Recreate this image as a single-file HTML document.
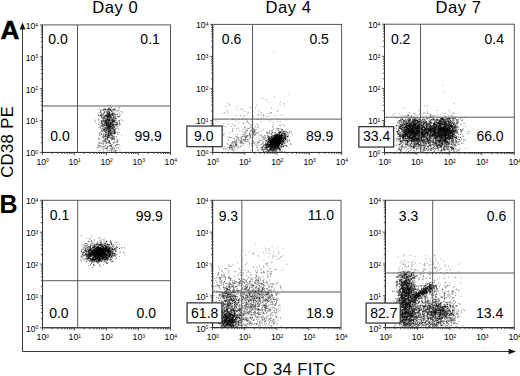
<!DOCTYPE html>
<html><head><meta charset="utf-8"><style>html,body{margin:0;padding:0;background:#fff;overflow:hidden}svg{display:block}</style></head>
<body><svg width="520" height="376" viewBox="0 0 520 376" font-family='"Liberation Sans", sans-serif'>
<rect width="520" height="376" fill="#fff"/>
<path d="M273.5 51.8h1M442.6 85.3h1M443.6 92.6h1" stroke="#000" stroke-opacity="0.3" stroke-width="1" fill="none"/><path d="M245.2 130.5h1M272.7 122.3h1M225.5 106.0h1M288.5 148.2h1M284.0 125.7h1M274.0 96.9h1M252.8 110.8h1M248.9 135.9h1M249.5 107.5h1M251.6 142.5h1M236.8 106.4h1M279.7 121.2h1M281.2 114.9h1M256.4 105.1h1M280.5 141.8h1M243.8 115.4h1M278.4 135.3h1M290.1 143.5h1M267.7 113.3h1M287.7 94.2h1M272.6 126.7h1M270.9 112.7h1M254.9 144.9h1M229.2 105.2h1M234.0 138.7h1M279.9 102.0h1M236.1 109.6h1M270.9 108.1h1M233.7 142.5h1M276.1 129.9h1M285.6 132.9h1M265.5 99.9h1M223.8 112.6h1M270.9 145.0h1M256.4 133.3h1M283.3 139.2h1M234.4 126.3h1M240.3 109.3h1M285.2 145.2h1M278.0 110.0h1M283.3 103.5h1M258.4 131.3h1M268.1 102.3h1M286.9 136.3h1M266.7 131.5h1M223.5 113.4h1M235.6 120.6h1M223.1 125.8h1M228.7 104.2h1M227.5 103.1h1M252.9 116.9h1M262.5 98.4h1M279.7 104.2h1M247.2 121.0h1M231.9 130.2h1M282.5 124.6h1M283.9 105.4h1M286.1 134.4h1M222.1 139.7h1M266.4 134.3h1M263.4 260.0h1M278.1 253.7h1M280.0 257.6h1M286.4 264.3h1M271.5 247.2h1M248.9 251.7h1M253.3 254.1h1M275.6 258.8h1M268.0 248.8h1M278.4 252.1h1M282.3 255.8h1M267.1 262.5h1M277.5 246.8h1M270.8 262.3h1M278.6 258.1h1M265.2 248.3h1M268.2 257.0h1M280.5 256.5h1M278.2 259.2h1M269.1 253.5h1M252.5 253.4h1M253.0 253.2h1M281.0 260.6h1M245.1 255.4h1M273.0 251.8h1M271.8 258.1h1M257.5 255.3h1M255.2 243.5h1M266.4 252.9h1M282.7 248.5h1M263.0 252.3h1M272.4 255.4h1M264.8 250.7h1M258.6 256.3h1M268.6 250.4h1M425.5 261.9h1M437.5 262.9h1M430.6 264.4h1M436.0 267.6h1M440.4 269.0h1M434.2 255.9h1M409.8 268.4h1M435.1 268.4h1M435.1 261.0h1M436.3 271.2h1M443.2 261.3h1M406.3 262.4h1M424.1 266.2h1M403.7 260.2h1M401.0 261.2h1M423.9 263.2h1M403.7 261.7h1M408.8 271.1h1M426.5 263.3h1M432.4 261.3h1M403.9 254.7h1M425.1 258.6h1M425.0 255.6h1M402.0 268.5h1M411.1 266.7h1M402.7 264.1h1M408.0 266.6h1M411.1 269.4h1M404.5 267.1h1M409.7 255.5h1M412.4 269.6h1M425.7 269.2h1M415.1 263.0h1M424.4 264.0h1M434.6 258.7h1M405.1 273.2h1M412.1 262.9h1M402.3 263.9h1M398.7 267.3h1M429.3 272.4h1M444.5 264.8h1M434.1 267.3h1M433.2 263.8h1M397.4 257.0h1M429.9 268.3h1M404.6 266.9h1M430.2 274.1h1M404.7 265.9h1M415.6 270.7h1M423.8 269.3h1M407.9 265.8h1M414.6 256.9h1M398.9 269.6h1M440.2 259.2h1M405.0 264.1h1M429.8 260.9h1M422.7 270.2h1M423.3 268.9h1M403.0 255.8h1M429.4 274.8h1M428.4 258.7h1M424.2 265.0h1M413.0 261.1h1M444.7 266.2h1M410.9 262.7h1M414.0 271.0h1M403.3 271.6h1M411.1 265.9h1M408.4 262.2h1M411.9 264.5h1M414.8 269.6h1M405.3 269.5h1M428.9 265.8h1M428.4 264.3h1M399.9 262.8h1M419.4 263.5h1M434.3 255.2h1M397.4 274.3h1M403.4 264.4h1M424.3 269.3h1" stroke="#000" stroke-opacity="0.35" stroke-width="1" fill="none"/><path d="M251.5 107.8h1M270.7 119.9h1M217.6 121.7h1M237.8 139.8h1M236.6 136.6h1M235.1 141.2h1M235.9 140.2h1M260.4 114.1h1M233.2 119.2h1M227.7 124.4h1M235.8 115.8h1M251.7 139.7h1M230.5 126.5h1M250.3 130.4h1M239.7 142.9h1M262.9 141.3h1M276.3 128.3h1M248.4 147.4h1M238.2 137.9h1M250.9 124.7h1M246.7 114.3h1M242.0 109.2h1M284.3 151.2h1M268.6 136.7h1M265.1 148.4h1M265.4 144.1h1M236.4 138.2h1M242.1 118.9h1M233.0 138.2h1M265.9 116.7h1M276.3 150.7h1M244.4 127.5h1M249.0 144.8h1M244.3 119.8h1M255.2 108.2h1M252.1 146.9h1M254.6 142.4h1M257.4 141.7h1M252.2 123.1h1M246.6 132.1h1M256.3 124.0h1M239.1 130.7h1M270.8 137.0h1M249.2 123.8h1M263.2 136.5h1M249.2 134.2h1M275.3 131.1h1M275.3 147.9h1M250.8 143.6h1M248.1 123.1h1M246.0 122.1h1M257.7 133.2h1M258.5 142.9h1M223.0 135.0h1M236.8 134.3h1M270.5 112.5h1M252.9 132.1h1M221.6 140.8h1M250.5 126.9h1M244.1 111.4h1M236.0 128.6h1M244.2 132.1h1M234.3 139.5h1M242.7 116.7h1M237.8 128.4h1M262.7 138.8h1M244.9 133.2h1M240.7 138.6h1M260.9 121.6h1M252.8 135.0h1M243.0 139.8h1M265.4 146.6h1M247.1 135.3h1M285.3 119.8h1M253.3 143.7h1M252.3 140.9h1M252.6 142.0h1M269.2 130.3h1M253.0 132.3h1M243.9 132.8h1M233.0 141.9h1M269.1 121.4h1M272.8 124.4h1M233.9 143.1h1M254.2 131.2h1M236.9 138.1h1M243.0 145.5h1M268.4 116.4h1M242.4 129.2h1M232.3 119.6h1M251.3 130.5h1M225.2 126.5h1M257.8 118.5h1M269.8 113.5h1M229.7 137.5h1M232.1 130.0h1M243.2 139.7h1M231.6 145.2h1M247.7 112.5h1M257.4 141.5h1M246.3 129.0h1M256.6 147.5h1M252.3 139.4h1M249.3 128.4h1M236.3 136.1h1M245.5 130.1h1M263.9 138.9h1M263.1 114.1h1M258.4 125.9h1M237.9 122.8h1M268.2 142.9h1M239.2 119.3h1M250.2 127.5h1M274.9 115.5h1M222.6 129.9h1M250.2 134.6h1M244.9 126.5h1M223.6 135.9h1M262.8 129.9h1M267.7 133.4h1M272.7 137.0h1M234.1 125.4h1M227.0 112.2h1M254.0 143.4h1M279.3 132.3h1M246.4 119.7h1M264.8 137.7h1M241.1 141.3h1M258.4 110.6h1M261.1 134.6h1M244.1 128.0h1M276.2 151.4h1M277.4 119.2h1M240.2 143.9h1M231.9 124.4h1M265.9 138.5h1M253.3 128.0h1M244.0 140.4h1M239.3 147.7h1M242.6 122.5h1M269.5 131.3h1M258.3 128.0h1M216.2 139.6h1M229.8 146.0h1M226.7 110.6h1M254.6 138.1h1M251.6 118.4h1M263.3 115.4h1M243.0 123.5h1M244.3 143.2h1M240.5 139.8h1M260.4 112.5h1M232.5 128.4h1M241.1 136.7h1M221.0 141.6h1M261.2 131.0h1M229.3 133.1h1M241.9 139.8h1M248.7 141.7h1M243.5 150.3h1M215.4 120.8h1M257.4 114.9h1M261.0 118.4h1M251.4 122.0h1M243.4 135.1h1M248.4 128.4h1M282.3 133.1h1M235.5 144.1h1M262.3 147.7h1M276.8 121.7h1M265.9 146.7h1M250.0 135.9h1M276.8 111.6h1M242.0 136.5h1M223.6 133.5h1M262.9 117.2h1M269.7 139.5h1M255.8 129.3h1M246.8 121.4h1M253.6 129.2h1M245.4 132.0h1M261.6 135.9h1M232.0 131.4h1M257.1 127.4h1M267.2 142.3h1M235.1 136.8h1M279.8 151.7h1M249.2 143.8h1M239.9 115.6h1M258.3 136.0h1M257.7 132.7h1M254.9 126.8h1M257.1 143.0h1M249.1 142.8h1M223.4 123.6h1M253.8 131.8h1M231.0 137.4h1M261.7 115.2h1M258.4 138.9h1M256.6 119.5h1M258.1 115.0h1M431.5 117.7h1M414.2 114.2h1M430.2 114.8h1M453.5 113.0h1M411.2 117.6h1M430.9 117.3h1M428.7 117.5h1M409.5 117.8h1M434.1 115.8h1M413.9 117.4h1M450.8 116.3h1M447.9 115.9h1M429.7 114.5h1M413.7 117.4h1M408.0 115.6h1M412.8 117.2h1M429.5 116.2h1M432.8 116.8h1M407.6 117.6h1M441.9 117.6h1M427.2 113.4h1M454.6 116.8h1M422.2 115.1h1M425.9 115.9h1M444.3 117.5h1M423.0 113.6h1M443.8 115.4h1M430.2 116.4h1M406.6 117.7h1M450.6 115.1h1M450.4 112.2h1M407.1 115.4h1M418.5 110.6h1M431.8 117.1h1M405.9 117.3h1M422.6 117.6h1M403.7 108.0h1M429.8 117.6h1M427.0 105.3h1M452.0 115.2h1M445.1 116.6h1M415.1 114.2h1M438.1 117.5h1M453.6 103.3h1M407.2 114.8h1M429.8 117.3h1M408.1 115.3h1M414.2 118.0h1M427.7 113.6h1M400.5 117.3h1M426.9 117.7h1M416.6 114.9h1M403.5 116.9h1M429.8 115.3h1M411.2 116.7h1M411.2 115.7h1M452.7 117.0h1M424.4 112.7h1M430.6 115.7h1M405.7 117.2h1M453.3 113.1h1M432.9 115.8h1M416.5 117.3h1M437.1 115.2h1M436.1 110.4h1M427.2 111.0h1M423.9 105.8h1M405.3 115.7h1M442.6 113.2h1M402.2 115.7h1M444.7 113.6h1M463.8 117.8h1M420.9 122.8h1M392.5 138.4h1M457.6 139.7h1M452.4 134.0h1M398.5 147.6h1M426.9 119.1h1M412.6 117.9h1M413.4 144.0h1M425.8 131.1h1M461.9 119.9h1M414.5 134.5h1M436.4 137.5h1M447.3 134.9h1M439.1 147.7h1M394.0 128.5h1M417.3 143.4h1M452.8 149.3h1M406.9 134.8h1M422.3 137.3h1M447.6 136.9h1M404.6 128.2h1M428.3 122.2h1M465.5 140.0h1M398.2 120.4h1M414.8 126.1h1M399.8 128.7h1M392.9 147.1h1M453.6 134.3h1M433.2 129.1h1M439.7 134.9h1M412.8 113.5h1M447.8 121.9h1M404.9 141.1h1M404.5 120.6h1M396.0 125.5h1M465.2 148.6h1M420.9 125.6h1M411.7 133.7h1M423.3 150.2h1M408.9 118.3h1M459.9 131.3h1M410.9 142.0h1M391.8 138.3h1M453.0 137.3h1M445.2 140.6h1M410.5 115.8h1M419.0 114.1h1M401.4 121.1h1M458.4 151.1h1M456.7 124.6h1M401.6 137.7h1M408.0 115.6h1M423.7 144.3h1M438.9 144.8h1M451.9 140.2h1M456.7 150.1h1M462.9 136.7h1M431.6 149.0h1M458.2 119.2h1M448.1 110.3h1M426.8 143.9h1M453.3 139.4h1M437.3 124.2h1M410.1 139.3h1M392.8 136.2h1M445.2 126.8h1M394.5 113.4h1M447.3 149.2h1M451.6 131.1h1M409.0 112.5h1M456.0 145.7h1M436.2 146.1h1M460.6 124.0h1M463.3 143.6h1M392.5 114.6h1M410.0 140.4h1M455.2 145.6h1M433.1 140.8h1M402.6 122.7h1M429.6 130.2h1M418.3 135.5h1M420.3 129.8h1M401.1 151.8h1M436.7 146.1h1M450.6 135.3h1M419.1 137.8h1M417.3 118.4h1M462.0 129.6h1M439.9 114.7h1M465.1 126.3h1M453.0 123.9h1M412.2 132.0h1M443.2 124.6h1M399.3 113.6h1M402.9 119.2h1M436.7 124.2h1M93.4 243.8h1M86.8 258.6h1M106.1 246.1h1M95.1 261.3h1M92.8 253.2h1M103.0 250.7h1M97.2 249.9h1M99.8 242.7h1M99.2 252.9h1M87.7 254.5h1M91.0 236.4h1M82.6 252.4h1M103.4 249.3h1M86.6 250.8h1M106.3 251.5h1M86.5 254.5h1M97.0 250.8h1M99.2 255.1h1M97.8 246.1h1M97.7 252.6h1M108.5 244.6h1M97.5 246.6h1M100.9 248.6h1M93.1 245.3h1M86.1 245.5h1M87.9 250.9h1M99.8 251.3h1M101.6 246.9h1M103.7 251.1h1M102.3 255.4h1M95.6 259.0h1M105.3 249.3h1M113.3 261.5h1M85.9 238.6h1M93.5 254.5h1M106.4 255.7h1M98.6 257.5h1M104.6 249.2h1M100.2 258.0h1M93.4 248.1h1M91.8 260.4h1M104.3 256.8h1M95.6 251.7h1M108.8 250.2h1M108.6 251.7h1M98.6 255.1h1M105.9 262.1h1M95.9 261.7h1M92.5 246.8h1M80.3 256.8h1M111.1 244.8h1M96.1 250.4h1M85.9 252.3h1M101.3 248.9h1M90.4 252.7h1M103.8 243.6h1M98.0 255.2h1M113.1 244.4h1M109.7 250.2h1M103.9 251.0h1M89.4 241.9h1M118.6 244.1h1M96.6 260.2h1M101.4 252.9h1M82.1 248.3h1M87.8 241.4h1M101.9 256.8h1M92.5 248.1h1M102.4 257.1h1M90.1 258.8h1M106.7 251.9h1M89.6 255.2h1M104.6 262.2h1M93.9 261.2h1M95.9 255.0h1M97.9 252.4h1M111.1 247.9h1M105.8 250.3h1M98.6 247.7h1M100.5 240.2h1M96.7 257.9h1M105.9 242.4h1M89.5 249.5h1M114.5 249.4h1M98.8 250.5h1M101.4 246.6h1M101.1 254.7h1M107.6 246.7h1M106.4 263.3h1M105.5 256.0h1M115.0 259.2h1M103.2 256.9h1M124.1 247.8h1M95.6 258.5h1M101.1 239.2h1M100.8 254.0h1M91.1 254.2h1M101.0 241.3h1M103.3 264.7h1M113.6 245.3h1M87.9 252.3h1M101.3 244.0h1M92.7 260.0h1M101.0 258.1h1M98.7 258.1h1M94.5 248.9h1M91.0 240.6h1M95.6 243.9h1M95.0 252.8h1M100.4 254.3h1M95.6 251.6h1M108.7 251.0h1M99.1 237.4h1M89.6 258.5h1M91.6 245.5h1M107.1 244.6h1M107.3 251.3h1M93.6 239.7h1M110.1 241.1h1M88.5 256.6h1M88.4 254.9h1M98.5 250.3h1M89.9 247.9h1M101.2 246.0h1M104.2 253.3h1M103.4 253.3h1M103.6 254.1h1M105.8 254.1h1M101.6 246.4h1M84.2 252.2h1M106.9 246.3h1M85.4 248.6h1M101.9 257.0h1M96.1 244.8h1M98.3 255.9h1M98.4 257.9h1M94.6 257.1h1M112.7 245.9h1M91.5 255.7h1M125.2 254.9h1M98.6 259.7h1M97.9 242.2h1M90.7 259.9h1M84.6 243.4h1M105.8 252.8h1M109.0 245.5h1M92.6 249.8h1M88.4 250.5h1M97.4 257.0h1M98.1 249.5h1M103.0 258.5h1M107.6 253.5h1M95.6 249.0h1M87.8 252.3h1M98.6 261.7h1M100.7 256.3h1M109.9 240.7h1M93.4 250.5h1M99.8 245.1h1M106.1 257.3h1M103.1 255.9h1M89.5 258.7h1M93.6 240.6h1M99.9 254.4h1M93.0 242.0h1M89.1 251.0h1M107.3 250.8h1M107.8 250.9h1M89.2 255.7h1M103.6 246.3h1M86.9 246.0h1M108.7 250.0h1M122.6 247.9h1M103.9 253.8h1M96.9 256.9h1M91.5 251.5h1M88.9 238.8h1M99.4 245.0h1M87.8 255.3h1M97.4 254.2h1M113.5 252.9h1M102.7 244.7h1M105.9 257.0h1M89.9 255.8h1M101.5 250.6h1M99.6 266.4h1M93.3 249.9h1M99.7 250.8h1M83.3 255.8h1M106.7 262.3h1M94.1 244.3h1M104.4 245.7h1M98.8 249.5h1M100.5 249.2h1M104.8 246.4h1M119.1 256.6h1M444.7 283.0h1M421.7 293.5h1M408.6 316.2h1M425.0 299.0h1M436.6 303.9h1M445.5 282.5h1M430.6 288.4h1M444.0 274.7h1M444.0 321.3h1M427.9 325.0h1M418.5 277.6h1M414.2 325.8h1M420.2 274.6h1M414.0 272.4h1M439.3 293.8h1M399.0 289.4h1M409.2 313.5h1M458.9 264.0h1M444.7 306.4h1M401.1 286.9h1M413.0 310.5h1M443.9 298.8h1M422.7 279.2h1M440.1 315.4h1M437.0 279.6h1M446.7 285.2h1M402.0 320.2h1M425.7 278.4h1M429.2 292.6h1M422.8 271.7h1M446.4 319.6h1M439.4 295.9h1M408.9 291.6h1M423.3 264.8h1M452.5 291.9h1M447.8 285.3h1M399.0 308.5h1M403.6 286.2h1M435.3 290.0h1M458.2 272.0h1M422.0 279.8h1M411.1 284.8h1M426.7 277.8h1M432.9 309.6h1M445.8 270.3h1M409.9 298.2h1M397.7 276.2h1M452.8 307.8h1M453.0 319.0h1M444.3 298.3h1M410.2 294.0h1M419.3 319.9h1M432.2 263.8h1M398.3 271.8h1M405.1 271.8h1M422.8 296.0h1M451.5 317.2h1M437.9 291.3h1M433.9 299.7h1M454.6 320.0h1M413.6 313.1h1M437.7 309.2h1M444.6 287.4h1M444.8 324.2h1M412.6 277.8h1M420.1 273.1h1M455.7 309.7h1M421.4 323.2h1M424.7 291.7h1M457.7 321.9h1M427.8 314.8h1M453.6 323.4h1M434.5 313.4h1M442.3 309.8h1M419.8 274.3h1M426.4 283.1h1M428.8 274.7h1M460.3 296.9h1M445.7 297.5h1M432.9 320.0h1M422.4 271.8h1M408.1 300.5h1M437.4 325.7h1M449.0 285.8h1M408.6 308.4h1M450.1 307.9h1M435.3 299.4h1M427.7 309.1h1M409.2 306.0h1M413.1 292.9h1M451.4 273.1h1M405.4 284.6h1M442.8 315.1h1M439.2 269.9h1M412.2 289.5h1M424.0 292.2h1M420.5 298.0h1M434.2 298.5h1M446.8 291.4h1M437.6 297.9h1M430.2 301.9h1M418.3 321.5h1M442.9 321.3h1M446.4 272.7h1M433.1 273.3h1M421.9 318.6h1M409.0 304.4h1M402.6 271.7h1M439.7 284.2h1M425.9 293.1h1M460.9 277.8h1M415.8 293.8h1M397.2 285.0h1M436.8 318.7h1M444.5 278.7h1M416.4 276.2h1M448.1 277.2h1M406.2 309.2h1M448.1 309.7h1M407.6 325.3h1M402.9 295.3h1M431.7 272.6h1M453.7 315.6h1M439.2 278.2h1M429.7 314.6h1M457.3 317.5h1M418.4 271.0h1M410.1 271.0h1M430.2 325.3h1M453.6 319.3h1M455.1 316.3h1M424.6 295.0h1M429.0 301.4h1M440.3 318.6h1M418.5 278.7h1M422.1 311.9h1M459.1 316.8h1M403.5 284.2h1M449.9 269.4h1M422.2 314.4h1M422.7 277.1h1M435.9 325.3h1M423.6 286.1h1M449.0 297.9h1M440.5 272.6h1M403.8 317.0h1M456.5 326.3h1M415.6 270.1h1M455.2 302.6h1M428.5 310.0h1M442.1 306.6h1M422.7 276.4h1M408.8 279.5h1M435.7 286.8h1M443.1 323.4h1M409.5 272.0h1M462.3 325.9h1M401.8 275.3h1M438.2 266.9h1M449.0 282.7h1M455.1 277.0h1M414.2 303.3h1M398.1 321.3h1M406.1 282.0h1M405.0 314.7h1M436.9 269.8h1M434.1 268.7h1M405.5 298.9h1M435.3 267.3h1M442.1 289.7h1M407.9 278.2h1M437.9 283.2h1M429.5 277.7h1M434.0 323.9h1M454.2 277.9h1M460.2 283.0h1M416.0 294.3h1M408.4 298.1h1M419.8 291.7h1M402.5 278.7h1M421.7 279.0h1M404.4 271.8h1M448.0 266.6h1M417.2 322.2h1M407.2 266.9h1M435.9 327.0h1M431.3 314.8h1M440.5 312.6h1M425.6 289.6h1M429.2 271.2h1M444.1 312.3h1M436.2 285.5h1M416.3 316.7h1M455.7 289.3h1M403.1 283.0h1M443.5 278.1h1" stroke="#000" stroke-opacity="0.4" stroke-width="1" fill="none"/><path d="M448.9 321.6h1M449.4 302.3h1M418.0 303.2h1M441.9 297.2h1M407.8 322.5h1M417.0 304.2h1M417.7 308.4h1M425.1 310.8h1M403.8 283.3h1M419.2 323.3h1M440.6 319.5h1M449.7 315.4h1M423.6 297.5h1M454.9 322.9h1M452.4 326.9h1M419.3 310.7h1M456.8 316.9h1M410.0 297.9h1M442.6 313.3h1M435.0 297.0h1M426.9 301.4h1M446.8 322.2h1M418.2 297.0h1M453.5 287.0h1M435.5 314.1h1M450.7 321.5h1M460.8 311.1h1M432.7 310.8h1M447.0 294.7h1M439.6 308.7h1M433.9 324.0h1M442.7 309.0h1M436.2 312.1h1M429.9 292.9h1M420.0 292.4h1M447.3 321.8h1M451.3 294.3h1M437.7 323.9h1M419.6 324.7h1M436.7 290.0h1M425.8 320.9h1M458.1 290.9h1M450.6 322.9h1M423.0 322.7h1M422.0 283.4h1M439.6 312.0h1M414.6 308.1h1M443.4 293.8h1M414.5 306.2h1M435.9 304.1h1M429.7 320.4h1M423.1 303.2h1M417.4 325.2h1M433.5 308.1h1M430.3 303.8h1M444.1 295.2h1M441.8 312.3h1M433.3 312.3h1M445.3 289.0h1M421.1 301.2h1M447.4 308.5h1M437.6 300.3h1M417.4 285.4h1M415.5 323.9h1M411.5 316.0h1M411.3 320.5h1M401.4 310.7h1M415.5 310.3h1M434.0 292.4h1M431.7 295.6h1M420.1 305.6h1M448.6 324.0h1M424.8 298.5h1M444.6 314.5h1M446.0 286.4h1M431.4 316.9h1M446.8 285.9h1M417.9 311.3h1M443.6 285.6h1M418.5 301.3h1M422.4 319.3h1M454.7 320.4h1M412.3 302.6h1M407.6 296.7h1M422.1 317.8h1M417.0 293.4h1M430.2 299.0h1M419.7 314.6h1M429.4 290.6h1M453.3 320.0h1M417.8 288.7h1M404.7 290.4h1M440.5 297.0h1M420.1 307.0h1M455.2 292.7h1M411.6 290.6h1M436.8 306.1h1M422.6 325.4h1M457.1 324.6h1M413.0 321.3h1M416.1 316.4h1M415.0 294.2h1M438.2 298.5h1M446.8 322.7h1M436.5 318.8h1M419.1 301.8h1M411.5 300.8h1M423.1 315.1h1M450.0 317.3h1M446.2 302.7h1M410.5 315.1h1M451.9 293.0h1M437.7 302.3h1M421.9 295.1h1M437.1 291.3h1M414.7 325.4h1M408.5 299.9h1M443.1 314.2h1M453.3 315.7h1M442.8 293.8h1M409.3 309.7h1M446.9 317.8h1M423.4 307.8h1M451.4 320.1h1M426.0 321.5h1M434.7 300.0h1M454.1 300.2h1M428.5 326.5h1M418.0 312.7h1M416.2 326.7h1M424.8 293.7h1M409.6 301.8h1M442.1 297.5h1M446.5 318.0h1M415.1 299.0h1M427.1 287.3h1M413.3 323.5h1M447.4 323.2h1M414.8 309.5h1M453.6 287.2h1M425.8 295.5h1M416.2 307.5h1M436.7 309.5h1M416.6 295.4h1M448.1 317.5h1M433.3 287.4h1M411.6 299.8h1M439.2 316.1h1M409.6 301.5h1M444.5 291.5h1M416.4 306.6h1M414.2 316.7h1M408.4 310.0h1M452.1 312.4h1M432.7 293.4h1M417.7 319.4h1M417.2 312.6h1M458.0 310.6h1M430.4 318.4h1M448.4 293.4h1M448.9 304.1h1M412.5 316.6h1M428.5 322.2h1M422.1 302.5h1M424.4 289.8h1M438.3 305.7h1M413.3 311.8h1M444.4 295.2h1M447.9 321.5h1M418.2 309.6h1M422.2 306.1h1M419.2 322.0h1M422.0 299.9h1M444.0 293.0h1M425.6 296.4h1M434.7 323.8h1M428.0 314.5h1M408.6 312.7h1M437.6 306.7h1M431.3 294.8h1M416.7 306.9h1M440.3 305.7h1M436.0 291.2h1M433.8 305.3h1M430.3 312.2h1M436.2 305.2h1M454.4 318.9h1M448.3 291.8h1M440.1 311.4h1M451.3 292.0h1M427.2 309.1h1M418.9 293.2h1M445.0 316.6h1M409.9 321.0h1M443.9 300.0h1M447.7 296.3h1M410.4 314.0h1M436.0 286.3h1M433.3 313.2h1M429.1 287.7h1M404.2 308.3h1M429.1 317.4h1M430.3 308.4h1M409.3 304.4h1M402.3 316.4h1M415.4 313.5h1M433.2 286.2h1M434.7 296.7h1M435.1 316.7h1M403.0 304.7h1M421.8 314.3h1M410.1 314.1h1M442.6 307.9h1M411.5 311.8h1M453.2 297.2h1M445.5 316.8h1M409.0 313.8h1M442.3 314.8h1M453.1 314.0h1M414.0 298.2h1M462.6 309.2h1M441.2 303.3h1M455.9 306.3h1M428.8 322.9h1M427.5 298.5h1M447.7 324.3h1M419.2 315.7h1M408.0 319.3h1M401.1 296.0h1M413.2 319.9h1M426.7 301.0h1M444.9 287.2h1M418.8 301.6h1M418.7 294.4h1M419.7 315.7h1M426.3 313.1h1M426.9 314.2h1M429.1 326.6h1M441.8 289.2h1M423.9 307.8h1M459.9 304.2h1M437.0 288.8h1M436.4 293.5h1M449.0 326.3h1M453.7 291.8h1M435.2 299.0h1M448.3 290.9h1M413.9 287.7h1M452.7 298.1h1M452.6 291.2h1M419.3 285.2h1M427.7 317.9h1M444.7 306.6h1M414.5 317.3h1M451.7 291.1h1M427.9 300.8h1M441.1 296.7h1M411.5 297.1h1M416.9 318.9h1M405.5 319.6h1M433.4 309.8h1M427.2 319.1h1M435.1 312.0h1M409.1 293.8h1M419.8 292.4h1M432.5 316.1h1M413.7 323.0h1M411.0 309.7h1M450.0 311.6h1M453.9 310.8h1M451.6 303.2h1M420.8 324.7h1M441.2 308.0h1M439.5 310.7h1M434.8 320.1h1M422.6 307.1h1M432.8 308.7h1M410.9 313.4h1M446.7 306.9h1M403.8 313.8h1M434.5 295.8h1M449.2 294.4h1M418.4 310.1h1M417.5 293.6h1M427.5 314.3h1M449.0 316.2h1M409.6 313.8h1M418.3 291.2h1M416.6 294.6h1M404.9 310.2h1M412.2 306.2h1M441.8 291.5h1M425.0 315.5h1M427.2 296.2h1M448.8 315.4h1M428.9 300.8h1M452.2 290.9h1M425.8 324.9h1M414.2 301.2h1M447.4 304.4h1M406.2 313.9h1M446.1 308.9h1M437.6 326.6h1M415.1 299.2h1M424.4 299.6h1M413.6 311.2h1M442.5 302.3h1M425.3 299.0h1M428.8 303.7h1M434.3 312.6h1M444.7 311.4h1M453.2 315.7h1M418.9 309.8h1M435.9 294.2h1M456.7 305.9h1M411.2 291.4h1M435.8 312.4h1M411.5 298.3h1M453.1 310.2h1M454.6 301.5h1M446.5 309.3h1M442.2 321.6h1M444.3 312.9h1M437.1 322.8h1M435.5 300.0h1M443.6 301.8h1M432.7 311.8h1M414.9 300.4h1M414.2 295.1h1M452.9 316.9h1M416.0 289.0h1M408.6 300.0h1M440.9 298.2h1M441.1 325.5h1M409.0 307.3h1M430.7 304.2h1M447.1 313.6h1M413.2 289.8h1M455.4 326.5h1M411.4 293.0h1M426.1 324.5h1M417.7 312.0h1M431.2 290.7h1M407.0 317.7h1M434.5 313.9h1M441.2 304.1h1M443.9 314.4h1M423.9 318.4h1M454.0 322.8h1M444.0 297.0h1M414.8 309.8h1M424.3 297.8h1M455.9 314.4h1M406.1 307.1h1M421.5 310.0h1M421.6 318.8h1M422.4 288.1h1M407.4 297.1h1M411.3 323.6h1M418.3 313.0h1M436.4 294.5h1M415.3 297.3h1M432.9 295.1h1M421.0 286.9h1M406.3 290.4h1M421.6 301.4h1M438.6 304.0h1M434.3 323.0h1M442.7 309.4h1M410.7 309.1h1M452.1 313.8h1M438.6 313.2h1M415.5 316.2h1M420.7 319.5h1M443.4 325.4h1M452.2 294.3h1M439.0 286.8h1M451.1 325.6h1M415.9 289.5h1M427.9 291.8h1M405.1 323.0h1M428.7 308.5h1M410.0 296.6h1M403.8 293.2h1M405.1 307.6h1M425.6 301.9h1M420.1 307.1h1M455.9 289.3h1M408.3 306.9h1M414.1 302.5h1M440.7 309.7h1M444.8 326.5h1M409.3 314.0h1M408.7 315.2h1M449.3 318.0h1M409.4 296.8h1M438.0 310.3h1M419.0 323.2h1M426.2 315.3h1M433.9 286.7h1M449.0 309.0h1M457.9 289.4h1M443.8 316.0h1M435.0 325.6h1M447.1 325.9h1M411.7 317.8h1M428.4 318.7h1M450.3 325.6h1M423.2 306.4h1M413.0 313.4h1M432.5 315.9h1M421.6 301.8h1M453.8 303.5h1M415.5 326.6h1M441.6 325.4h1M441.7 289.2h1M405.7 299.1h1M451.7 321.2h1M425.1 303.3h1M433.3 320.0h1M423.8 305.4h1M403.2 301.4h1M450.2 296.9h1M419.4 290.4h1M428.5 318.6h1M423.6 303.2h1M435.0 294.8h1M452.2 309.0h1M415.0 322.4h1M427.7 301.1h1M451.1 299.9h1M439.6 320.3h1M451.8 298.1h1M429.0 321.5h1M421.9 301.9h1M426.6 300.0h1M426.3 294.3h1M409.1 300.8h1M441.5 308.3h1M424.9 302.8h1M428.5 312.1h1M416.6 290.1h1" stroke="#000" stroke-opacity="0.42" stroke-width="1" fill="none"/><path d="M114.2 150.6h1M99.6 150.6h1M111.3 149.0h1M106.7 140.0h1M102.1 140.6h1M106.9 120.3h1M109.5 126.5h1M112.3 109.6h1M110.6 146.3h1M111.5 119.6h1M108.7 112.0h1M112.7 125.2h1M105.5 121.0h1M112.1 138.1h1M109.3 110.1h1M109.1 117.2h1M97.7 147.5h1M107.0 146.5h1M99.0 135.0h1M105.3 132.2h1M99.2 116.0h1M113.0 146.2h1M116.6 139.4h1M103.4 131.1h1M98.0 115.2h1M112.9 119.0h1M102.3 124.2h1M115.9 124.1h1M100.3 112.4h1M105.3 127.7h1M109.6 128.8h1M100.5 121.2h1M104.7 125.2h1M104.8 121.9h1M116.0 124.4h1M121.2 135.1h1M105.0 132.9h1M114.7 114.8h1M99.2 142.5h1M113.6 130.9h1M108.4 126.7h1M104.2 140.4h1M118.6 140.0h1M115.1 145.8h1M98.5 143.7h1M103.3 133.9h1M116.7 140.5h1M119.2 112.9h1M113.3 139.2h1M118.6 121.3h1M118.9 120.6h1M113.7 113.2h1M111.7 125.5h1M103.8 109.1h1M105.3 136.5h1M111.9 139.6h1M117.6 142.0h1M103.1 113.5h1M105.2 139.2h1M99.5 145.6h1M112.9 112.9h1M107.7 116.4h1M115.8 120.2h1M104.5 128.3h1M115.3 114.3h1M113.5 130.2h1M110.4 122.6h1M101.3 138.2h1M108.1 129.7h1M113.6 136.1h1M101.6 118.7h1M98.5 138.1h1M107.1 139.2h1M103.2 142.0h1M112.5 110.8h1M115.2 150.4h1M117.3 133.2h1M114.8 121.0h1M112.0 126.9h1M101.9 130.4h1M113.6 131.7h1M114.2 118.7h1M115.7 121.5h1M111.4 122.8h1M118.4 144.5h1M102.7 125.5h1M111.5 109.0h1M106.5 127.9h1M102.9 115.0h1M109.5 120.4h1M105.5 130.4h1M109.3 124.7h1M114.9 110.4h1M113.7 148.4h1M115.4 151.2h1M118.8 116.1h1M100.1 126.8h1M108.9 128.5h1M99.3 112.2h1M105.0 137.3h1M117.0 141.1h1M98.4 141.9h1M114.2 136.4h1M118.1 108.0h1M108.0 116.0h1M114.2 131.6h1M104.7 138.8h1M106.2 124.4h1M109.0 126.1h1M103.4 146.6h1M102.5 121.3h1M122.3 121.2h1M106.6 150.8h1M102.0 118.0h1M119.2 107.8h1M101.6 128.3h1M117.5 134.5h1M117.2 113.8h1M108.3 146.2h1M107.1 115.9h1M104.7 139.2h1M98.3 115.3h1M97.8 145.7h1M105.6 116.0h1M105.7 142.7h1M119.5 146.1h1M110.1 119.9h1M122.0 112.1h1M116.4 132.4h1M100.0 127.9h1M109.2 129.9h1M102.8 141.4h1M97.9 127.8h1M117.6 128.1h1M104.9 126.8h1M101.5 128.0h1M98.4 124.3h1M109.9 117.9h1M105.6 123.3h1M98.2 119.1h1M111.7 120.5h1M105.5 141.0h1M114.5 114.6h1M108.7 120.0h1M108.5 132.0h1M105.6 124.9h1M111.5 115.3h1M119.6 124.2h1M118.2 129.6h1M98.6 138.6h1M110.8 150.7h1M103.9 146.3h1M98.9 127.0h1M101.5 126.5h1M104.5 124.2h1M120.8 119.9h1M114.0 148.7h1M116.3 111.7h1M114.2 117.4h1M105.7 136.3h1M106.3 131.6h1M108.3 120.5h1M103.1 151.0h1M107.7 121.8h1M114.8 132.1h1M100.3 115.7h1M102.6 147.3h1M107.6 113.1h1M113.5 127.3h1M110.4 149.3h1M112.3 150.0h1M101.2 148.8h1M99.7 143.4h1M103.4 118.2h1M115.1 128.8h1M120.7 111.5h1M115.0 151.0h1M99.0 109.2h1M106.5 119.5h1M117.4 116.6h1M107.9 129.4h1M104.0 112.1h1M103.0 149.7h1M112.0 137.9h1M115.8 123.1h1M103.1 144.2h1M101.4 142.8h1M94.9 122.0h1M98.8 145.5h1M119.4 149.8h1M110.9 132.8h1M117.7 120.9h1M99.7 146.5h1M105.5 148.6h1M115.4 125.4h1M111.2 111.3h1M97.3 147.5h1M104.7 135.6h1M109.6 116.1h1M113.5 136.8h1M105.9 123.0h1M101.7 146.8h1M118.8 122.7h1M106.7 119.5h1M110.6 110.5h1M109.8 122.2h1M102.7 118.2h1M99.5 125.1h1M103.1 109.8h1M104.4 120.8h1M103.2 143.3h1M106.8 111.0h1M115.6 146.0h1M97.3 144.9h1M98.3 113.2h1M118.4 132.2h1M107.7 131.2h1M108.9 141.7h1M103.6 120.4h1M108.8 126.5h1M100.7 120.8h1M118.9 120.9h1M116.9 116.9h1M106.7 146.2h1M99.3 146.5h1M116.3 124.0h1M103.5 137.0h1M109.7 128.2h1M118.9 123.3h1M116.3 125.2h1M116.1 150.4h1M108.7 121.4h1M114.9 133.6h1M107.1 148.0h1M103.6 120.7h1M109.6 143.6h1M104.3 113.2h1M114.4 139.3h1M115.5 144.6h1M101.2 146.8h1M98.2 150.3h1M105.2 139.5h1M107.0 150.2h1M241.9 142.9h1M253.2 129.0h1M234.3 148.0h1M241.6 137.7h1M231.3 149.3h1M239.8 137.3h1M259.8 135.5h1M233.9 147.1h1M237.8 146.8h1M236.2 144.6h1M223.1 148.8h1M229.7 149.5h1M231.9 148.9h1M227.1 143.4h1M254.3 132.4h1M229.2 145.6h1M245.3 137.9h1M233.1 145.9h1M241.7 131.6h1M229.9 147.3h1M231.1 147.9h1M247.3 141.1h1M231.3 145.6h1M227.4 144.7h1M254.2 133.8h1M230.6 144.9h1M251.1 129.2h1M232.8 144.0h1M238.8 140.1h1M232.0 142.3h1M240.2 146.4h1M255.6 132.5h1M254.2 135.1h1M245.3 137.3h1M228.9 137.6h1M229.5 145.0h1M228.9 147.8h1M247.2 141.9h1M244.8 140.7h1M251.9 137.5h1M244.5 139.9h1M235.9 142.0h1M230.5 145.8h1M241.4 143.9h1M249.7 131.9h1M240.6 140.8h1M251.6 138.0h1M249.8 136.1h1M252.3 133.7h1M245.8 137.5h1M244.7 141.4h1M230.8 147.7h1M249.2 138.3h1M227.9 140.0h1M243.2 136.2h1M232.0 149.3h1M254.1 131.8h1M246.1 136.1h1M255.5 134.2h1M223.3 149.1h1M248.9 133.4h1M246.8 139.5h1M241.7 141.6h1M233.7 146.2h1M235.4 145.2h1M230.8 144.9h1M237.9 139.3h1M240.0 141.9h1M245.4 136.4h1M245.1 137.0h1M235.1 144.3h1M232.3 147.1h1M245.1 138.8h1M247.5 128.3h1M234.4 146.1h1M235.0 143.9h1M229.9 145.7h1M246.6 130.2h1M253.5 130.6h1M252.1 133.9h1M228.5 137.2h1M249.4 137.1h1M233.8 141.4h1M240.2 142.3h1M237.1 147.9h1M250.9 125.6h1M240.8 140.7h1M247.8 139.5h1M240.9 143.0h1M235.8 141.3h1M254.6 129.9h1M234.4 150.0h1M251.5 134.7h1M255.2 130.5h1M252.3 133.3h1M244.6 135.9h1M243.4 139.8h1M249.6 131.2h1M236.0 144.5h1M246.8 135.8h1M252.1 136.6h1M245.1 134.2h1M240.9 141.3h1M247.3 139.8h1M229.0 148.4h1M225.6 148.8h1M228.3 150.4h1M247.6 135.4h1M235.5 145.1h1M246.5 130.6h1M224.9 148.8h1M229.2 146.8h1M246.7 136.3h1M238.0 137.7h1M231.5 143.3h1M252.8 134.1h1M230.7 146.6h1M252.7 131.4h1M237.7 146.2h1M252.5 137.3h1M236.0 146.5h1M254.2 135.2h1M231.1 147.6h1M253.1 130.9h1M240.7 146.7h1M237.3 142.7h1M246.1 141.8h1M242.9 143.6h1M248.9 133.9h1M243.8 134.3h1M233.1 150.0h1M227.3 147.7h1M245.2 139.7h1M240.9 138.8h1M242.3 134.3h1M241.8 142.2h1M253.7 129.6h1M231.4 143.3h1M252.3 133.0h1M249.1 135.0h1M250.4 137.4h1M252.2 134.0h1M232.2 145.8h1M224.2 146.9h1M236.4 145.0h1M244.0 136.5h1M231.9 141.3h1M257.1 125.0h1M228.6 147.5h1M238.7 141.6h1M236.4 140.3h1M235.3 145.3h1M232.6 150.9h1M234.5 142.2h1M245.3 139.1h1M231.7 147.5h1M246.2 137.7h1M235.2 142.4h1M235.8 143.3h1M254.2 283.2h1M242.2 315.5h1M254.7 292.0h1M257.3 293.3h1M249.7 290.4h1M267.5 271.3h1M259.4 298.2h1M239.6 283.5h1M261.3 286.4h1M267.0 294.3h1M236.3 298.2h1M251.9 297.0h1M249.9 272.3h1M246.7 289.4h1M243.7 311.3h1M265.8 304.9h1M240.5 317.5h1M247.7 308.0h1M250.7 292.5h1M256.3 286.6h1M262.6 288.2h1M250.3 300.2h1M250.2 303.9h1M245.3 304.4h1M255.1 304.2h1M252.0 291.5h1M258.7 283.5h1M262.6 284.6h1M255.6 275.5h1M266.9 294.7h1M241.4 300.9h1M248.3 297.9h1M250.1 299.3h1M270.0 271.9h1M259.4 314.6h1M236.0 299.3h1M251.4 296.2h1M258.0 313.6h1M248.7 323.8h1M267.0 294.2h1M237.9 299.6h1M242.2 283.8h1M255.7 286.1h1M263.0 306.1h1M246.2 305.3h1M242.6 307.9h1M271.7 304.2h1M245.0 308.5h1M246.2 272.2h1M256.3 272.4h1M252.0 299.4h1M254.0 295.5h1M254.4 312.7h1M265.2 300.2h1M244.3 313.0h1M248.6 313.1h1M250.4 293.2h1M248.9 292.7h1M260.5 292.8h1M280.1 288.2h1M268.4 287.5h1M261.6 288.5h1M254.1 297.1h1M255.5 278.1h1M248.0 292.8h1M250.0 318.3h1M236.8 293.0h1M250.0 293.8h1M251.3 306.6h1M257.5 297.6h1M265.0 306.6h1M246.4 309.0h1M250.8 279.7h1M267.3 300.5h1M234.0 296.6h1M269.1 292.7h1M243.6 289.1h1M260.9 290.7h1M243.0 297.5h1M268.9 280.1h1M247.0 286.8h1M247.4 295.3h1M245.9 319.5h1M250.8 308.1h1M245.8 280.4h1M272.3 284.0h1M261.3 308.4h1M255.9 295.0h1M251.6 277.8h1M252.5 288.2h1M270.8 289.8h1M260.4 272.7h1M255.3 296.4h1M250.2 322.8h1M264.0 288.4h1M253.9 300.0h1M260.6 283.0h1M264.8 283.4h1M255.3 291.8h1M228.8 290.4h1M273.8 301.5h1M242.7 303.4h1M243.1 289.7h1M259.7 290.3h1M259.0 285.6h1M244.8 300.5h1M250.6 284.9h1M244.9 298.2h1M256.5 284.1h1M270.0 274.2h1M236.5 289.9h1M272.5 298.8h1M265.9 281.3h1M253.7 298.5h1M263.6 289.8h1M276.2 293.8h1M273.5 290.5h1M251.6 314.8h1M272.5 304.6h1M234.9 297.6h1M255.3 280.0h1M255.2 282.5h1M259.0 301.5h1M253.9 308.8h1M246.1 302.0h1M251.6 322.8h1M257.1 293.6h1M249.0 286.9h1M252.4 298.7h1M245.6 284.8h1M256.3 288.1h1M246.7 296.9h1M242.9 296.6h1M243.7 293.2h1M237.0 304.1h1M251.2 314.7h1M255.8 276.7h1M244.7 287.0h1M258.0 309.0h1M267.7 284.9h1M258.0 309.4h1M266.4 264.0h1M248.3 290.5h1M265.5 305.8h1M242.9 313.8h1M264.2 307.6h1M250.8 313.2h1M245.4 297.1h1M256.9 282.7h1M250.7 311.0h1M264.2 313.7h1M264.5 299.3h1M245.8 281.4h1M261.2 291.0h1M261.7 319.1h1M240.8 315.1h1M248.4 318.1h1M247.3 304.2h1M252.0 295.1h1M250.7 323.6h1M253.1 300.1h1M248.1 289.4h1M266.5 284.0h1M257.9 281.1h1M249.7 307.3h1M258.7 294.5h1M256.5 272.6h1M244.0 313.8h1M252.2 294.0h1M257.9 280.9h1M258.1 309.4h1M250.1 274.7h1M271.0 292.3h1M260.5 284.0h1M261.9 288.6h1M256.5 280.3h1M251.4 304.9h1M258.7 298.9h1M255.7 291.5h1M268.7 285.7h1M242.4 300.3h1M231.5 308.2h1M250.5 297.0h1M265.3 302.0h1M259.0 290.0h1M253.6 306.7h1M242.3 299.6h1M258.9 306.3h1M241.5 303.4h1M268.6 297.0h1M243.6 279.2h1M245.4 311.4h1M259.3 309.9h1M243.6 301.9h1M260.8 284.2h1M232.4 299.2h1M232.1 302.9h1M272.5 307.4h1M251.3 284.7h1M245.8 297.4h1M267.4 292.2h1M255.6 287.0h1M257.0 313.1h1M249.0 288.5h1M267.4 276.1h1M248.6 295.2h1M240.9 291.9h1M258.1 289.9h1M268.9 290.2h1M259.3 295.2h1M268.4 292.3h1M254.9 306.2h1M252.6 320.4h1M241.9 288.0h1M238.5 302.3h1M267.4 299.2h1M247.2 312.6h1M256.6 295.6h1M245.1 279.9h1M272.2 283.9h1M254.9 300.1h1M248.5 305.4h1M238.4 308.7h1M243.5 305.9h1M247.4 296.4h1M239.9 314.2h1M249.6 283.7h1M260.7 312.6h1M255.4 292.9h1M245.1 286.8h1M248.9 311.9h1M252.0 317.6h1M262.0 289.7h1M240.8 312.4h1M245.4 313.2h1M244.1 282.8h1M245.6 295.3h1M256.4 276.8h1M268.8 269.0h1M246.2 298.3h1M244.8 290.0h1M249.0 287.8h1M252.9 302.8h1M262.8 289.4h1M264.6 307.4h1M239.5 308.8h1M237.4 317.3h1M261.8 299.1h1M255.6 284.1h1M249.3 289.2h1M264.2 305.0h1M250.5 300.9h1M259.9 280.0h1M231.8 305.9h1M240.7 314.0h1M268.2 309.0h1M263.0 295.9h1M252.4 296.8h1M243.7 314.3h1M247.1 306.7h1M250.8 304.5h1M280.3 287.1h1M268.2 294.8h1M258.1 293.4h1M259.3 278.0h1M216.6 308.9h1M263.1 297.9h1M233.6 295.4h1M264.5 309.5h1M243.0 281.8h1M256.8 297.0h1M270.3 290.4h1M265.8 263.5h1M259.3 309.7h1M262.8 272.7h1M271.3 283.7h1M256.5 266.8h1M248.4 277.8h1M237.0 304.1h1M259.7 300.7h1M249.4 292.8h1M239.8 294.4h1M249.5 285.3h1M263.1 287.2h1M234.8 301.5h1M248.0 271.9h1M248.9 281.4h1M275.4 256.2h1M239.8 310.6h1M258.2 312.7h1M251.8 298.2h1M260.9 272.8h1M249.5 310.9h1M256.8 297.2h1M259.3 304.2h1M266.8 296.5h1M234.9 292.9h1M267.2 291.0h1M251.0 306.0h1M262.2 297.5h1M255.0 270.8h1M264.8 291.4h1M246.5 302.4h1M246.3 290.2h1M248.8 300.8h1M262.8 298.1h1M269.7 297.2h1M250.0 295.1h1M246.2 304.3h1M241.5 259.7h1M224.9 302.3h1M266.2 291.6h1M270.0 276.2h1M240.8 312.7h1M244.5 325.6h1M241.5 307.7h1M252.7 300.5h1M250.8 306.9h1M265.2 303.6h1M258.1 296.8h1M262.3 287.6h1M257.8 309.9h1M257.0 297.7h1M254.9 281.2h1M249.8 280.8h1M259.1 306.2h1M248.4 277.1h1M253.9 323.7h1M246.4 326.7h1M244.8 298.3h1M232.6 320.7h1M254.8 304.0h1M262.2 290.1h1M269.8 268.3h1M257.3 282.2h1M251.5 317.4h1M263.8 285.7h1M239.1 300.6h1M253.6 292.5h1M242.9 294.6h1M250.2 308.1h1M246.1 292.0h1M240.0 292.8h1M256.8 292.7h1M271.1 286.1h1M264.9 310.3h1M257.2 303.7h1M251.9 286.9h1M262.6 302.0h1M259.4 294.7h1M256.9 309.7h1M228.8 315.0h1M257.4 313.0h1M257.4 298.5h1M261.2 283.5h1M253.4 298.2h1M271.3 287.2h1M252.5 291.3h1M254.8 316.0h1M248.3 311.6h1M254.4 299.2h1M240.5 274.7h1M241.1 297.1h1M262.5 284.3h1M255.4 295.7h1M261.4 292.1h1M239.2 308.2h1M244.6 308.0h1M248.0 289.6h1M258.1 283.2h1M269.9 283.9h1M271.2 271.7h1M259.8 300.7h1M248.0 293.3h1M246.1 284.5h1M254.3 297.3h1M257.4 306.6h1M267.4 293.2h1M262.6 284.6h1M271.8 262.3h1M252.8 296.6h1M252.9 289.2h1M243.8 279.9h1M247.3 296.1h1M261.1 293.3h1M250.3 299.9h1M239.2 304.2h1M269.1 311.2h1M248.3 296.6h1M255.3 317.6h1M240.1 293.5h1M250.8 287.3h1M252.6 304.2h1M257.6 284.6h1M259.5 282.8h1M280.0 286.1h1M258.4 300.6h1M261.4 283.6h1M252.2 289.7h1M251.1 290.6h1M258.1 291.3h1M252.7 307.2h1M244.2 302.3h1M258.4 289.6h1M250.3 311.9h1M264.0 272.4h1M253.8 312.0h1M245.3 288.9h1M274.5 269.7h1M255.7 308.6h1M250.6 318.0h1M238.3 302.1h1M245.9 302.5h1M260.5 270.1h1M255.5 299.4h1M246.0 295.0h1M254.9 312.4h1M266.3 282.8h1M267.2 266.5h1M243.6 292.2h1M258.9 298.0h1M267.5 271.7h1M250.9 275.1h1M253.0 285.2h1M265.8 318.5h1M249.7 282.1h1M253.3 285.5h1M263.7 267.9h1M259.3 309.4h1M258.7 299.7h1M260.5 293.2h1M235.9 286.8h1M263.4 279.3h1M226.5 297.8h1M246.5 287.6h1M236.1 312.1h1M233.6 300.5h1M225.5 293.6h1M265.4 265.2h1M254.9 294.5h1M237.4 291.3h1M250.3 300.7h1M247.0 278.9h1M244.6 291.6h1M256.4 280.1h1M269.6 295.5h1M257.6 310.7h1M260.6 269.0h1M250.9 304.3h1M261.4 305.7h1M262.1 289.5h1M273.2 284.6h1M253.3 302.2h1M240.3 282.6h1M247.1 318.2h1M270.5 299.0h1M254.4 287.9h1M249.8 306.8h1M246.1 287.8h1M254.2 282.8h1M236.5 315.0h1M258.8 322.0h1M237.3 290.6h1M271.9 312.4h1M243.5 299.0h1M254.5 289.1h1M252.8 302.4h1M252.6 294.2h1M245.3 289.6h1M259.5 300.0h1M262.6 276.7h1M272.0 286.8h1M262.4 294.3h1M253.6 312.1h1M272.6 256.6h1M242.9 273.0h1M243.8 294.2h1M266.6 313.5h1M243.2 311.2h1M246.2 304.9h1M270.9 273.6h1M250.0 321.9h1M245.5 303.1h1M260.3 294.8h1M243.6 305.8h1M252.1 285.6h1M254.8 311.1h1M271.7 296.2h1M234.6 302.1h1M243.4 282.7h1M239.9 315.5h1M262.7 280.9h1M244.3 311.7h1M247.5 270.4h1M262.1 302.2h1M246.5 287.9h1M262.7 281.9h1M238.7 310.4h1M248.9 310.9h1M257.6 288.5h1M263.1 285.9h1M259.3 293.7h1M253.3 290.8h1M236.0 307.5h1M239.2 290.7h1M236.6 300.3h1M250.7 296.7h1M255.5 302.3h1M253.0 301.0h1M260.2 291.7h1M253.1 291.2h1M251.5 285.4h1M275.6 284.7h1M272.4 297.7h1M259.4 298.8h1M248.5 301.5h1M269.6 302.7h1M257.5 288.9h1M263.4 320.1h1M263.5 301.7h1M234.2 292.0h1M242.9 279.1h1M266.4 293.4h1M262.9 266.4h1M257.3 304.3h1M247.2 297.6h1M246.5 276.2h1M249.5 307.3h1M262.3 280.5h1M241.9 306.7h1M247.0 295.7h1M261.6 291.1h1M266.7 273.9h1M248.7 293.1h1M250.3 314.5h1M246.5 298.9h1M258.4 285.4h1M247.6 290.9h1M259.3 286.5h1M277.9 308.9h1M261.6 295.6h1M249.6 296.0h1M264.6 300.8h1M234.4 309.5h1M261.5 295.6h1M253.5 291.1h1M267.3 275.5h1M259.4 288.7h1M255.8 301.8h1M235.4 306.5h1M266.8 288.3h1M249.6 281.8h1M248.1 312.4h1M251.6 281.5h1M258.8 297.3h1M254.3 293.6h1M239.0 314.8h1M264.7 296.2h1M251.6 324.4h1M255.9 301.4h1M248.9 294.4h1M246.7 312.2h1M257.1 271.0h1M247.0 297.2h1M238.1 282.9h1M254.8 277.7h1M247.0 310.0h1M240.6 291.2h1M248.0 302.2h1M258.4 287.7h1M258.6 304.8h1M259.0 266.0h1M246.4 294.0h1M264.6 292.1h1M263.2 271.4h1M249.2 294.2h1M249.6 290.9h1M251.8 279.3h1M267.1 277.7h1M245.8 309.4h1M252.5 286.2h1M255.8 275.1h1M257.8 276.7h1M255.8 287.1h1M244.0 289.5h1M257.0 309.2h1M251.7 293.0h1M246.6 286.4h1M254.2 306.9h1M275.9 283.0h1M264.6 306.8h1M267.1 302.2h1M264.6 300.2h1M242.6 293.0h1M249.8 291.4h1M252.9 306.3h1M252.7 309.2h1M232.5 300.6h1M246.1 291.3h1M258.3 278.4h1M268.5 286.5h1M239.0 309.1h1M246.2 262.9h1M264.9 294.1h1M260.7 298.1h1M244.8 300.3h1M251.6 284.2h1M263.4 282.3h1M253.0 267.3h1M248.5 322.1h1M268.4 292.6h1M256.3 279.9h1M246.6 306.9h1M253.4 293.8h1M223.9 282.1h1M245.3 285.4h1M256.1 297.7h1M249.5 316.7h1M245.0 264.5h1M264.7 308.7h1M249.5 287.9h1M246.6 307.5h1M251.1 293.1h1M232.1 305.9h1M261.1 291.4h1M242.5 287.9h1M273.1 300.0h1M257.1 281.1h1M263.2 288.2h1M256.6 301.9h1M264.3 285.4h1M265.3 298.5h1M243.7 288.7h1M255.0 296.8h1M253.7 314.6h1M274.3 305.6h1M282.6 270.0h1M270.4 304.5h1M266.6 298.9h1M254.2 305.7h1M252.7 285.4h1M224.9 287.7h1M254.2 291.9h1M262.1 305.8h1M269.3 273.7h1M257.4 292.7h1M266.0 294.4h1M244.9 286.6h1M276.1 294.2h1M266.3 299.9h1M232.0 292.9h1M271.2 312.9h1M246.2 287.5h1M226.1 326.0h1M275.4 269.5h1M258.0 305.2h1M249.3 282.9h1M241.2 316.2h1M254.7 283.7h1M266.8 292.6h1M245.8 288.6h1M260.1 301.5h1M240.6 311.2h1M277.3 283.0h1M250.4 278.5h1M250.9 296.5h1M252.8 296.0h1M266.9 282.1h1M232.9 288.2h1M263.4 304.2h1M246.4 300.3h1M260.3 278.1h1M245.3 303.0h1M252.0 305.6h1M245.7 299.9h1M268.7 298.8h1M241.0 308.2h1M263.1 282.0h1M241.1 309.6h1M244.0 320.2h1M257.7 302.1h1M267.4 293.7h1M263.9 300.1h1M249.0 299.4h1M257.8 279.9h1M242.6 297.7h1M256.0 298.4h1M266.5 288.7h1M239.0 313.6h1M236.8 306.7h1M248.0 301.0h1M257.8 294.1h1M248.3 308.2h1M254.6 281.0h1M264.2 295.5h1M253.8 292.9h1M262.9 272.1h1M256.4 289.9h1M246.3 282.5h1M244.0 318.1h1M240.0 309.5h1M246.8 299.4h1M246.6 303.8h1M257.9 292.0h1M233.8 300.3h1M245.3 281.3h1M267.6 307.8h1M253.9 298.0h1M258.5 293.2h1M258.1 295.9h1M247.9 300.1h1M257.0 303.5h1M249.2 323.4h1M268.1 306.0h1M236.6 304.6h1M249.6 306.1h1M245.0 304.8h1M243.3 292.8h1M228.4 314.0h1M266.4 270.0h1M258.2 314.5h1M273.6 289.8h1M248.1 314.2h1M249.8 300.4h1M254.3 291.9h1M271.2 294.2h1M250.4 303.8h1M248.6 307.0h1M229.2 300.6h1M245.4 288.3h1M247.9 300.7h1M255.4 290.7h1M245.7 324.8h1M253.4 285.8h1M257.5 279.2h1M247.0 285.0h1M263.7 294.1h1M247.8 291.3h1M228.6 325.0h1M250.5 315.9h1M238.3 307.3h1M277.6 311.2h1M257.4 306.4h1M251.1 296.5h1M245.3 312.8h1M263.8 319.2h1M253.6 305.2h1M241.5 321.6h1M249.6 305.9h1M244.9 289.3h1M277.1 300.5h1M264.3 305.1h1M277.1 292.5h1M248.7 323.1h1M258.0 306.1h1M276.0 301.7h1M270.1 310.7h1M260.6 317.3h1M263.7 290.7h1M238.0 305.7h1M276.1 310.6h1M273.8 323.5h1M267.2 300.8h1M255.6 306.1h1M254.0 295.7h1M251.1 307.2h1M248.2 304.8h1M242.0 313.5h1M242.5 297.7h1M258.8 297.5h1M248.9 291.8h1M250.6 308.6h1M259.8 298.4h1M278.1 298.9h1M251.9 317.9h1M276.5 316.7h1M251.6 287.1h1M256.2 297.0h1M266.8 297.1h1M242.0 296.5h1M275.3 309.2h1M253.3 299.8h1M259.9 325.8h1M258.8 294.7h1M276.1 317.8h1M273.6 298.8h1M258.0 309.3h1M261.4 308.9h1M241.2 299.5h1M256.1 292.3h1M255.6 304.5h1M262.3 305.8h1M258.4 288.5h1M274.5 308.5h1M254.8 290.4h1M269.3 290.6h1M275.5 312.8h1M272.4 321.9h1M269.8 297.1h1M275.2 304.9h1M256.0 323.8h1M260.6 296.1h1M269.6 294.8h1M256.2 319.4h1M268.6 296.5h1M266.2 312.5h1M266.0 295.5h1M251.2 302.6h1M252.8 300.8h1M274.4 288.0h1M254.4 305.6h1M261.0 322.6h1M246.0 318.4h1M264.2 319.7h1M269.6 300.1h1M268.1 291.2h1M272.8 298.1h1M266.5 300.2h1M256.6 320.1h1M249.4 320.8h1M269.1 300.9h1M276.5 299.3h1M266.0 306.7h1M252.8 296.5h1M271.0 325.7h1M259.9 314.4h1M250.6 325.6h1M252.8 304.7h1M257.5 308.4h1M259.1 299.4h1M248.0 320.9h1M262.2 316.6h1M245.5 305.1h1M263.5 318.4h1M258.7 290.4h1M241.3 309.7h1M261.4 287.6h1M252.9 312.7h1M270.6 322.6h1M281.7 289.7h1M262.1 307.4h1M260.4 302.8h1M247.1 290.4h1M246.6 308.9h1M246.3 320.8h1M273.9 312.1h1M275.9 295.5h1M272.3 294.4h1M267.2 300.8h1M267.4 320.4h1M259.9 296.7h1M271.3 326.7h1M267.1 311.0h1M261.7 322.8h1M261.5 314.8h1M267.9 297.5h1M253.1 324.6h1M268.2 301.2h1M264.9 321.3h1M266.0 308.9h1M256.9 321.8h1M246.7 313.1h1M269.5 297.8h1M260.9 291.5h1M263.0 296.9h1M258.0 301.8h1M273.1 319.9h1M268.5 310.7h1M280.5 326.7h1M269.0 321.7h1M266.3 320.0h1M270.1 308.9h1M264.9 310.2h1M274.8 317.0h1M245.4 318.5h1M246.2 320.2h1M258.1 317.9h1M270.8 317.4h1M262.8 313.1h1M274.8 314.4h1M261.9 320.8h1M248.5 293.6h1M259.2 317.0h1M270.0 315.5h1M262.2 291.9h1M241.3 299.0h1M255.8 313.4h1M260.1 303.0h1M262.9 312.2h1M275.6 322.6h1M252.1 309.9h1M249.3 309.6h1M240.3 290.4h1M266.6 318.0h1M254.1 314.5h1M244.2 299.3h1M258.4 319.2h1M252.8 315.2h1M248.5 318.9h1M273.5 307.7h1M243.1 314.9h1M270.4 309.9h1M270.3 299.7h1M254.6 303.2h1M251.1 300.3h1M258.3 291.0h1M243.3 297.8h1M268.2 315.6h1M258.3 326.0h1M276.7 324.3h1M271.4 320.6h1M265.6 300.1h1M272.3 303.6h1M279.7 307.1h1M251.1 319.7h1M246.9 320.2h1M265.5 305.4h1M245.7 317.3h1M268.2 324.7h1M275.1 299.5h1M263.5 292.3h1M256.5 317.4h1M264.4 305.7h1M239.5 309.4h1M264.4 307.7h1M255.0 308.8h1M252.0 305.2h1M246.7 293.0h1M269.5 309.4h1M265.9 299.7h1M249.8 311.9h1M259.6 310.5h1M264.1 323.6h1M260.1 292.0h1M267.9 301.7h1M259.1 298.5h1M264.8 311.2h1M269.1 322.7h1M246.5 311.0h1M255.3 298.4h1M264.5 289.9h1M245.1 317.3h1M264.6 321.0h1M265.6 301.8h1M266.0 323.5h1M275.0 304.3h1M249.3 295.7h1M264.5 307.9h1M270.7 299.6h1M256.0 323.6h1M266.4 306.8h1M269.0 298.5h1M275.1 303.6h1M255.0 307.9h1M256.1 324.5h1M241.8 319.6h1M256.0 298.4h1M254.5 323.9h1M251.4 312.6h1M249.1 294.8h1M248.8 298.2h1M257.7 290.7h1M263.2 292.7h1M256.7 294.5h1M268.0 298.1h1M249.4 297.5h1M258.8 304.9h1M244.9 294.1h1M246.7 303.4h1M265.6 308.1h1M268.9 309.2h1M279.5 310.3h1M245.7 314.6h1M243.0 318.9h1M253.7 298.1h1M263.5 317.6h1M271.4 318.6h1M259.5 312.8h1M261.3 310.8h1M242.4 293.4h1M250.6 296.0h1M276.2 309.5h1M257.5 303.3h1M276.4 303.0h1M250.7 296.9h1M250.4 306.3h1M257.3 313.2h1M255.1 292.6h1M259.4 323.1h1M257.5 299.7h1M262.0 319.4h1M255.9 292.1h1M262.6 300.5h1M262.5 316.9h1M264.3 322.1h1M274.2 312.1h1M259.9 321.0h1M271.9 301.3h1M270.7 292.0h1M263.3 304.9h1M273.9 305.0h1M245.0 306.3h1M249.1 312.0h1M270.3 296.9h1M243.9 305.6h1M250.7 309.5h1M247.2 323.8h1M270.8 314.0h1M255.1 313.9h1M253.3 304.9h1M269.5 318.0h1M266.6 294.7h1M250.4 302.8h1M245.6 296.8h1M266.3 306.2h1M271.4 295.8h1M244.3 314.8h1M243.6 316.9h1M269.8 314.4h1M263.6 310.6h1M248.4 301.0h1M248.6 301.4h1M253.2 307.8h1M251.7 298.2h1M263.9 305.7h1M272.9 325.2h1M261.6 301.9h1M252.3 290.4h1M250.0 323.2h1M280.0 318.4h1M266.4 288.8h1M272.8 322.6h1M268.3 310.9h1M252.7 298.3h1M246.6 313.2h1M271.5 307.9h1M269.4 325.4h1M241.3 324.2h1M255.1 287.9h1M253.4 320.5h1M263.2 294.1h1M247.2 320.6h1M255.7 309.0h1M261.3 297.3h1M272.1 302.1h1M247.5 300.1h1M261.5 319.9h1M262.1 310.2h1M252.7 301.0h1M247.6 313.5h1M258.4 291.1h1M267.8 298.4h1M274.4 298.1h1M276.0 300.3h1M271.4 295.6h1M277.1 293.1h1M244.8 307.5h1M273.4 323.6h1M247.4 319.8h1M272.0 315.5h1M273.2 319.4h1M275.3 293.7h1M261.4 291.2h1M254.1 313.1h1M262.4 312.9h1M268.2 295.0h1M266.8 292.6h1M259.2 303.3h1M248.1 304.0h1M257.1 290.6h1M278.1 305.2h1M253.8 294.4h1M269.8 318.9h1M264.3 317.9h1M274.1 299.5h1M268.4 289.9h1M261.3 317.2h1M257.3 316.4h1M258.8 324.9h1M265.1 294.5h1M247.9 306.9h1M246.9 321.3h1M275.9 303.0h1M242.1 296.3h1M275.4 294.8h1M266.5 300.1h1M238.0 302.5h1M258.7 314.9h1M255.4 291.2h1M264.8 325.0h1M254.8 300.6h1M273.4 299.7h1M255.2 310.2h1M243.3 292.2h1M255.1 306.1h1M249.3 324.9h1M237.9 325.5h1M270.8 294.5h1M244.8 306.8h1M245.0 319.7h1M247.9 284.5h1M265.7 308.4h1M254.2 311.2h1M258.5 310.8h1M263.2 299.0h1M257.2 306.8h1M268.0 293.4h1M250.0 317.4h1M251.0 310.7h1M242.9 313.0h1M264.5 305.5h1M242.0 320.2h1M248.8 314.1h1M252.0 309.0h1M253.7 320.1h1M263.2 300.4h1M261.8 309.7h1M275.9 316.3h1M269.2 296.2h1M239.0 298.9h1M256.6 317.3h1M259.5 323.8h1M276.4 312.4h1M262.8 313.1h1M246.3 295.2h1M239.6 324.0h1M268.7 319.2h1M254.5 307.5h1M261.8 294.6h1M267.0 308.1h1M258.9 321.6h1M257.2 316.6h1M262.2 296.6h1M241.2 322.0h1M266.4 311.3h1M253.5 319.3h1M254.9 291.4h1M261.8 309.8h1M269.3 319.3h1M250.7 299.7h1M276.5 299.0h1M272.2 321.3h1M273.9 310.6h1M274.3 321.7h1M255.2 315.9h1M251.7 307.4h1M270.6 301.8h1M266.4 316.0h1M254.5 301.2h1M258.5 314.0h1M261.5 297.3h1M264.5 321.2h1M279.6 316.9h1M257.3 323.7h1M252.4 309.6h1M266.3 316.3h1M272.0 295.3h1M265.6 293.2h1M244.1 324.8h1M252.3 295.6h1M271.2 302.1h1M256.5 300.8h1M246.6 283.1h1M261.7 293.9h1M266.2 303.7h1M249.9 297.8h1M273.8 320.1h1M250.9 292.1h1M278.6 294.1h1M259.5 294.5h1M244.2 309.9h1M259.8 286.9h1M269.6 304.7h1M245.4 295.3h1M270.0 320.7h1M279.3 305.2h1M241.3 307.4h1M277.8 320.2h1M243.8 299.0h1M220.4 324.6h1M238.0 290.0h1M216.4 282.5h1M227.5 268.9h1M239.9 295.8h1M218.5 303.7h1M218.8 312.0h1M226.7 304.3h1M233.1 312.1h1M224.8 300.8h1M220.8 325.9h1M221.1 308.1h1M221.1 275.4h1M233.5 292.8h1M234.4 310.7h1M221.2 276.9h1M218.7 321.5h1M237.3 310.7h1M239.0 305.2h1M228.8 276.4h1M241.5 305.7h1M232.7 316.9h1M221.5 305.4h1M239.9 280.9h1M238.0 293.6h1M239.0 315.8h1M223.8 307.8h1M214.6 317.4h1M239.0 279.6h1M228.3 265.0h1M222.0 316.0h1M229.5 303.8h1M239.2 283.2h1M233.7 282.7h1M230.5 299.1h1M238.8 320.5h1M228.2 278.3h1M225.6 322.8h1M241.2 284.5h1M226.5 317.3h1M234.9 281.4h1M222.5 306.6h1M233.8 302.5h1M238.5 317.0h1M223.9 326.3h1M239.3 306.1h1M240.5 315.1h1M232.2 286.8h1M225.0 277.3h1M225.1 305.8h1M218.1 273.6h1M225.0 279.6h1M221.4 301.5h1M221.2 270.5h1M224.7 277.7h1M219.0 307.4h1M235.1 296.0h1M227.4 271.9h1M238.1 302.9h1M213.6 311.3h1M238.2 291.5h1M220.9 274.1h1M222.4 277.9h1M236.7 311.6h1M239.1 279.2h1M227.0 324.3h1M232.1 321.6h1M219.8 283.2h1M219.4 278.8h1M223.4 324.7h1M220.3 315.7h1M230.4 325.6h1M232.3 307.9h1M235.5 300.0h1M218.1 285.5h1M228.5 273.6h1M239.9 310.0h1M230.9 309.8h1M219.7 310.8h1M239.0 285.2h1M222.7 309.9h1M241.1 305.0h1M237.7 290.5h1M219.1 269.0h1M221.3 301.5h1M241.4 303.2h1M241.5 266.3h1M230.6 304.1h1M229.4 287.8h1M234.0 306.6h1M234.3 321.4h1M220.8 321.9h1M228.6 270.6h1M244.5 269.5h1M215.3 286.4h1M222.0 309.1h1M234.1 271.1h1M237.8 278.1h1M240.1 280.7h1M218.5 295.6h1M230.7 323.7h1M229.6 306.3h1M230.1 297.3h1M220.2 297.8h1M231.1 306.4h1M240.2 312.6h1M226.2 290.4h1M239.9 305.2h1M228.2 312.4h1M235.6 286.1h1M233.8 289.0h1M237.3 275.0h1M239.3 281.8h1M228.7 305.4h1M220.4 320.1h1M222.3 294.6h1M217.4 297.7h1M215.7 303.8h1M244.1 292.9h1M233.5 313.2h1M223.2 272.9h1M221.6 271.3h1M218.0 322.6h1M239.1 306.2h1M237.6 263.0h1M225.1 300.5h1M238.2 317.4h1M217.3 320.4h1M235.6 322.3h1M223.1 292.8h1M241.2 275.0h1M222.1 322.0h1M235.1 271.9h1M222.6 284.3h1M233.3 283.8h1M235.1 286.2h1M237.4 318.9h1M240.3 285.4h1M218.0 266.3h1M218.1 311.2h1M223.2 293.6h1M232.3 318.1h1M240.3 307.7h1M238.3 322.6h1M238.6 291.9h1M221.0 292.3h1M228.4 323.8h1M240.8 275.3h1M229.2 289.5h1M235.2 324.0h1M219.0 314.0h1M232.8 308.6h1M222.7 318.6h1M224.6 319.6h1M241.3 301.1h1M220.3 294.8h1M240.9 298.1h1M232.3 283.6h1M219.4 314.1h1M229.1 266.5h1M234.2 320.3h1M234.9 282.9h1M223.9 300.6h1M223.7 274.3h1M239.8 313.4h1M216.0 309.2h1M230.7 278.6h1M233.8 294.9h1M221.5 296.1h1M240.7 301.6h1M232.3 265.0h1M222.8 316.0h1M229.9 308.6h1M230.9 300.0h1M219.2 287.4h1M225.1 301.5h1M216.1 297.4h1M218.9 278.7h1M234.9 292.0h1M226.7 324.5h1M218.9 285.1h1M231.5 292.4h1M217.7 286.1h1M218.7 303.7h1M237.2 285.9h1M223.4 321.8h1M217.4 274.6h1M216.3 285.3h1M226.7 321.2h1M229.2 304.9h1M230.7 304.3h1M232.9 291.4h1M225.2 269.2h1" stroke="#000" stroke-opacity="0.45" stroke-width="1" fill="none"/><path d="M278.7 141.2h1M279.3 128.9h1M262.4 147.2h1M269.4 149.5h1M285.6 138.6h1M271.1 147.8h1M274.6 134.0h1M276.8 144.4h1M278.6 149.0h1M278.3 133.0h1M270.3 138.6h1M273.5 136.1h1M280.0 140.0h1M278.7 137.3h1M275.1 150.1h1M277.3 143.8h1M286.6 135.1h1M277.6 129.1h1M277.7 137.4h1M271.0 143.7h1M279.8 148.7h1M270.3 147.2h1M271.2 148.1h1M278.2 136.0h1M267.9 136.3h1M277.0 145.3h1M271.4 150.9h1M250.9 145.4h1M260.2 148.0h1M271.9 142.5h1M273.8 146.6h1M264.5 139.7h1M284.3 137.7h1M265.9 147.3h1M282.2 144.0h1M267.8 151.1h1M277.3 146.7h1M281.2 134.3h1M287.3 136.9h1M268.0 146.2h1M277.4 149.4h1M263.4 145.4h1M270.0 147.3h1M263.0 146.9h1M279.1 136.9h1M278.3 142.2h1M264.5 137.8h1M279.8 138.7h1M272.9 128.9h1M253.0 141.9h1M276.1 139.9h1M275.4 145.8h1M271.0 146.3h1M266.1 132.4h1M273.4 151.1h1M268.6 144.4h1M266.0 143.9h1M279.4 136.0h1M254.7 134.3h1M261.6 137.1h1M271.2 130.7h1M279.7 140.7h1M268.5 150.4h1M256.2 146.0h1M257.9 145.4h1M274.3 132.5h1M260.5 144.7h1M272.4 140.5h1M276.1 135.3h1M260.9 147.4h1M269.3 138.6h1M279.7 149.7h1M267.8 146.2h1M279.8 133.1h1M262.2 142.4h1M276.4 143.3h1M270.9 144.0h1M283.9 140.3h1M261.4 150.2h1M274.8 145.7h1M268.1 141.3h1M262.7 137.4h1M269.6 140.5h1M271.9 136.0h1M265.4 140.9h1M266.0 151.7h1M269.6 147.4h1M263.7 149.2h1M257.7 149.6h1M269.7 148.2h1M272.4 141.3h1M278.3 139.6h1M277.9 143.7h1M270.1 142.0h1M272.6 139.5h1M277.9 146.0h1M276.6 136.9h1M261.9 149.4h1M274.1 148.7h1M268.0 144.1h1M275.4 137.1h1M275.7 151.6h1M284.5 138.2h1M270.4 137.3h1M275.8 140.4h1M271.5 139.6h1M270.8 142.3h1M278.3 147.8h1M268.9 133.7h1M259.4 140.9h1M267.4 149.6h1M272.6 138.3h1M271.1 138.3h1M256.6 144.0h1M280.7 135.4h1M269.2 140.5h1M273.4 146.1h1M274.7 147.5h1M281.3 138.5h1M273.7 141.1h1M270.5 136.2h1M275.1 141.9h1M261.6 144.1h1M267.4 132.9h1M260.8 140.3h1M263.9 147.4h1M277.3 146.4h1M281.1 144.2h1M274.3 137.9h1M278.1 135.1h1M277.9 140.0h1M279.7 143.1h1M261.1 149.6h1M263.1 149.7h1M272.7 136.7h1M267.5 137.7h1M273.4 145.3h1M267.3 133.0h1M270.5 147.1h1M277.3 146.7h1M267.2 147.3h1M276.6 144.0h1M267.7 146.8h1M258.3 142.7h1M275.3 139.9h1M256.8 147.6h1M276.4 149.9h1M281.6 141.2h1M276.1 142.3h1M273.7 139.8h1M289.0 140.6h1M267.6 139.1h1M284.8 130.0h1M286.2 145.5h1M265.3 149.2h1M270.4 147.2h1M279.9 150.1h1M275.7 140.0h1M278.8 136.0h1M263.8 145.1h1M268.4 138.1h1M263.9 144.7h1M265.5 140.5h1M264.0 149.3h1M291.4 134.0h1M272.1 132.4h1M267.5 137.8h1M276.4 138.0h1M271.4 142.4h1M262.3 139.2h1M271.3 133.8h1M261.7 147.8h1M267.0 147.9h1M279.6 138.9h1M272.9 142.1h1M271.9 130.3h1M271.1 136.9h1M262.3 149.4h1M270.4 147.7h1M272.2 126.9h1M282.3 145.1h1M267.6 136.0h1M276.1 134.8h1M270.2 145.6h1M257.4 150.5h1M290.2 144.5h1M265.0 142.1h1M274.4 142.2h1M268.2 144.2h1M276.8 135.2h1M273.3 144.3h1M278.8 138.5h1M283.3 133.1h1M265.5 144.1h1M279.7 139.0h1M266.5 148.8h1M277.5 143.5h1M268.6 151.1h1M283.9 131.5h1M272.0 132.2h1M272.4 143.7h1M266.2 144.7h1M282.8 146.6h1M264.6 136.7h1M282.8 139.2h1M277.1 140.3h1M288.8 131.4h1M269.4 132.0h1M265.0 142.9h1M272.3 144.8h1M262.2 146.5h1M269.3 136.2h1M277.7 142.9h1M273.0 143.9h1M259.1 140.4h1M265.8 144.8h1M270.5 148.9h1M250.3 150.2h1M265.7 143.6h1M269.1 146.2h1M276.1 143.5h1M280.0 135.8h1M272.5 147.1h1M273.9 139.7h1M418.2 127.4h1M441.2 135.3h1M412.5 134.3h1M418.0 128.0h1M417.7 138.4h1M410.0 126.6h1M447.5 132.3h1M454.4 128.9h1M434.2 134.5h1M412.8 141.3h1M437.1 133.9h1M439.9 121.6h1M444.7 130.0h1M403.4 143.8h1M411.0 141.1h1M418.1 144.5h1M424.0 147.3h1M446.6 130.3h1M402.0 127.3h1M416.6 125.0h1M407.8 126.8h1M446.8 138.0h1M439.9 139.8h1M446.2 142.4h1M418.1 136.9h1M429.7 122.6h1M451.1 140.1h1M401.1 146.8h1M445.8 147.3h1M424.7 129.7h1M444.8 138.0h1M440.7 140.9h1M408.5 146.0h1M453.3 120.0h1M453.7 150.9h1M416.4 133.9h1M430.0 145.0h1M428.3 132.8h1M444.8 149.5h1M451.8 137.2h1M415.6 123.3h1M405.6 125.3h1M449.1 135.9h1M424.3 143.4h1M429.6 129.3h1M426.3 149.1h1M449.7 127.6h1M430.8 150.3h1M439.4 141.5h1M445.0 143.5h1M397.8 131.7h1M434.0 138.0h1M432.2 130.6h1M403.3 135.1h1M405.3 146.9h1M399.9 143.5h1M424.8 147.8h1M442.5 131.1h1M411.1 126.0h1M448.0 138.2h1M400.4 151.6h1M418.3 141.5h1M414.4 127.8h1M454.6 148.0h1M409.9 147.2h1M448.8 142.7h1M426.4 145.9h1M416.3 139.4h1M423.4 135.2h1M407.4 132.0h1M433.5 144.6h1M437.4 132.5h1M425.5 124.4h1M446.1 148.6h1M444.5 150.2h1M439.0 121.6h1M445.3 145.3h1M426.0 138.6h1M406.8 129.5h1M431.0 129.3h1M425.9 121.4h1M406.1 134.1h1M438.9 123.2h1M425.0 139.7h1M440.9 149.9h1M412.8 129.9h1M412.5 126.8h1M403.4 136.9h1M448.6 124.4h1M436.9 123.3h1M412.0 125.6h1M402.2 146.8h1M418.4 135.1h1M444.3 146.9h1M450.4 147.3h1M409.0 128.6h1M452.9 125.2h1M409.2 124.8h1M399.4 145.9h1M407.5 133.7h1M399.5 148.7h1M413.5 139.3h1M443.9 122.8h1M424.7 134.7h1M445.1 134.9h1M404.1 124.6h1M440.3 121.9h1M405.3 145.0h1M415.0 138.4h1M453.0 134.7h1M438.6 122.8h1M439.0 129.8h1M437.2 133.9h1M419.7 143.0h1M435.3 131.7h1M422.0 142.2h1M444.7 129.8h1M439.2 135.6h1M451.4 144.5h1M449.3 132.5h1M445.2 133.1h1M405.4 120.3h1M398.6 121.8h1M420.5 141.1h1M451.3 121.3h1M435.4 127.5h1M431.9 134.2h1M448.8 149.4h1M433.6 151.7h1M405.7 147.0h1M425.2 131.8h1M448.7 126.7h1M446.0 132.9h1M400.1 120.6h1M456.4 122.8h1M430.1 142.4h1M414.8 138.9h1M423.5 150.1h1M451.6 129.6h1M451.1 132.8h1M416.7 143.0h1M433.6 127.9h1M404.3 128.3h1M444.2 150.5h1M401.6 131.0h1M439.2 147.1h1M412.8 131.0h1M405.8 147.9h1M408.4 144.3h1M453.3 129.6h1M409.6 120.4h1M426.0 141.0h1M406.0 131.7h1M429.3 128.3h1M446.0 144.1h1M412.4 131.0h1M439.5 129.4h1M417.4 147.8h1M406.0 144.3h1M446.8 146.7h1M419.8 131.2h1M455.1 137.4h1M439.3 130.8h1M418.1 121.8h1M436.3 144.5h1M440.6 142.9h1M409.8 150.5h1M454.0 122.5h1M412.7 120.8h1M401.6 149.7h1M428.1 128.7h1M426.9 130.2h1M408.9 125.8h1M427.7 133.3h1M414.7 125.6h1M445.6 121.5h1M429.4 123.6h1M407.7 132.4h1M455.7 126.6h1M412.9 146.4h1M429.1 142.5h1M445.4 148.8h1M431.5 137.5h1M415.0 145.5h1M440.5 144.6h1M441.0 146.4h1M405.8 123.8h1M413.1 136.4h1M407.6 141.4h1M398.3 129.9h1M435.2 143.7h1M457.2 138.9h1M412.8 147.3h1M450.5 144.5h1M421.9 132.5h1M453.6 124.3h1M401.6 127.8h1M417.5 134.2h1M448.9 151.6h1M450.5 122.8h1M446.0 144.8h1M435.6 126.9h1M412.6 137.9h1M458.5 144.3h1M432.6 132.4h1M445.7 124.9h1M422.5 129.2h1M452.1 141.6h1M434.1 142.9h1M438.1 140.4h1M407.0 122.9h1M424.2 143.9h1M407.2 149.4h1M418.5 134.0h1M430.0 126.0h1M416.4 138.7h1M397.8 144.7h1M424.5 135.5h1M442.8 137.2h1M420.6 146.9h1M440.6 147.5h1M421.7 121.9h1M432.4 143.8h1M419.0 119.9h1M404.1 127.5h1M445.7 141.8h1M429.7 123.6h1M445.2 140.2h1M443.9 144.1h1M442.4 143.3h1M421.0 147.9h1M413.8 136.1h1M410.3 135.4h1M435.5 132.7h1M450.0 124.9h1M455.7 136.5h1M440.3 137.1h1M432.4 131.3h1M416.4 149.4h1M434.3 130.6h1M414.5 124.0h1M447.7 134.6h1M413.7 124.2h1M423.2 139.4h1M410.4 127.9h1M410.7 132.6h1M444.0 141.7h1M407.8 138.7h1M419.9 119.0h1M398.2 139.5h1M449.4 138.9h1M452.5 131.3h1M421.7 129.1h1M450.4 138.7h1M411.5 144.7h1M413.7 143.6h1M427.5 147.6h1M410.5 137.9h1M454.8 127.7h1M456.2 141.8h1M406.7 125.0h1M424.8 121.1h1M421.3 124.5h1M457.1 123.3h1M453.4 132.8h1M405.1 131.5h1M440.1 147.4h1M424.7 145.4h1M423.2 142.0h1M447.2 125.3h1M405.7 124.9h1M421.6 144.2h1M405.1 144.6h1M420.6 120.2h1M445.8 132.8h1M446.9 129.2h1M408.0 136.8h1M412.7 132.2h1M439.1 135.2h1M409.6 139.8h1M400.8 143.4h1M449.6 146.7h1M399.6 135.1h1M449.2 132.0h1M433.0 148.2h1M420.6 120.6h1M418.2 144.7h1M422.4 119.8h1M450.4 125.8h1M432.0 147.7h1M406.8 126.1h1M429.9 120.8h1M417.1 120.6h1M408.7 132.8h1M422.9 129.7h1M400.2 149.3h1M414.3 148.5h1M440.0 128.5h1M431.4 126.9h1M451.8 147.5h1M409.6 132.6h1M427.0 133.2h1M404.5 125.3h1M437.3 132.2h1M403.8 148.1h1M451.4 147.0h1M427.4 125.7h1M431.7 140.1h1M418.7 121.4h1M421.7 135.2h1M452.7 148.5h1M445.3 126.1h1M418.7 138.1h1M444.8 127.7h1M420.5 127.6h1M402.7 142.1h1M410.0 130.9h1M421.0 125.9h1M423.1 130.1h1M408.6 146.0h1M440.6 131.8h1M410.0 137.6h1M435.7 127.2h1M427.9 141.3h1M437.7 120.0h1M449.9 120.5h1M439.9 126.1h1M431.8 144.4h1M435.4 124.8h1M429.6 131.2h1M456.9 150.8h1M445.1 129.8h1M408.7 124.6h1M406.5 128.8h1M423.4 137.3h1M451.0 148.5h1M414.7 137.8h1M441.0 150.4h1M429.2 131.7h1M406.5 141.4h1M400.5 124.4h1M417.5 133.1h1M407.6 145.7h1M449.1 124.0h1M429.6 125.6h1M426.8 131.8h1M437.1 146.7h1M426.9 150.3h1M414.3 142.9h1M444.1 126.8h1M443.3 128.6h1M451.7 142.6h1M426.9 135.3h1M404.3 130.0h1M455.7 151.2h1M402.1 125.2h1M411.3 143.7h1M441.3 127.4h1M449.8 146.9h1M453.1 128.5h1M434.0 151.0h1M416.1 144.8h1M398.3 149.4h1M438.6 140.2h1M434.2 119.6h1M406.3 132.1h1M443.6 148.8h1M452.1 122.9h1M407.9 136.7h1M432.6 135.7h1M420.9 135.4h1M433.8 126.4h1M406.0 129.9h1M451.3 126.1h1M414.7 127.5h1M409.9 144.2h1M410.6 148.2h1M454.1 128.1h1M412.7 121.9h1M455.0 129.6h1M449.3 122.9h1M429.1 131.4h1M429.1 129.6h1M403.1 139.2h1M446.0 141.3h1M440.5 151.1h1M435.1 141.1h1M447.7 146.1h1M427.5 150.8h1M420.6 131.3h1M442.5 124.0h1M429.0 125.9h1M434.4 134.3h1M406.5 141.9h1M411.1 146.6h1M409.2 124.4h1M445.2 135.2h1M453.6 122.4h1M456.3 136.4h1M433.6 145.7h1M445.9 130.8h1M405.6 143.2h1M418.9 139.9h1M451.7 139.0h1M415.8 127.5h1M408.8 135.8h1M424.1 121.9h1M446.1 131.4h1M457.4 121.2h1M398.7 149.2h1M437.6 130.9h1M447.2 127.3h1M447.7 148.9h1M454.8 132.9h1M434.9 135.7h1M446.6 147.1h1M423.7 139.0h1M433.9 132.3h1M429.0 141.8h1M424.7 129.2h1M423.5 123.3h1M442.2 144.3h1M407.0 135.8h1M440.3 134.5h1M407.2 145.5h1M415.0 120.4h1M448.2 118.4h1M423.7 131.3h1M447.9 144.2h1M423.8 136.9h1M455.7 142.2h1M421.1 129.7h1M455.4 127.4h1M420.1 127.4h1M424.6 128.9h1M406.1 121.1h1M441.6 141.6h1M403.4 129.3h1M442.3 149.1h1M427.1 138.6h1M451.2 126.9h1M437.2 127.7h1M452.7 125.0h1M429.1 140.6h1M410.4 130.2h1M450.5 136.3h1M449.6 134.1h1M447.5 130.6h1M431.0 148.6h1M413.5 134.8h1M399.1 130.5h1M443.6 122.1h1M435.3 127.4h1M419.1 124.3h1M430.1 140.4h1M446.1 138.9h1M411.5 140.9h1M401.7 141.7h1M402.2 144.3h1M454.4 137.3h1M407.6 125.4h1M455.7 142.7h1M400.2 118.7h1M437.5 132.7h1M429.1 124.0h1M427.9 143.5h1M432.7 128.0h1M437.4 137.1h1M451.2 143.7h1M448.6 136.3h1M447.5 125.7h1M400.2 119.6h1M450.6 146.6h1M430.1 122.9h1M447.1 126.7h1M452.0 145.1h1M403.5 120.6h1M422.2 125.4h1M426.2 129.3h1M432.3 125.6h1M452.8 123.4h1M432.8 125.1h1M429.2 148.9h1M404.3 122.0h1M440.9 123.9h1M441.9 138.3h1M403.4 121.5h1M404.6 134.8h1M426.4 133.2h1M454.9 137.7h1M447.2 148.6h1M437.5 133.7h1M421.8 150.0h1M451.9 126.9h1M426.4 139.6h1M405.9 128.7h1M433.4 143.9h1M399.9 137.0h1M448.0 147.6h1M427.3 124.9h1M441.6 127.3h1M449.0 138.3h1M440.9 140.0h1M443.7 129.7h1M446.4 147.0h1M419.1 129.7h1M401.0 148.8h1M412.4 146.6h1M436.2 122.2h1M415.9 140.0h1M459.0 148.8h1M418.9 121.7h1M441.7 140.7h1M403.9 135.6h1M428.4 136.3h1M445.1 126.8h1M450.1 138.7h1M405.8 126.1h1M445.6 122.8h1M454.8 131.1h1M444.7 132.9h1M401.9 124.6h1M438.6 132.0h1M454.7 145.1h1M402.4 138.1h1M443.2 140.1h1M403.6 147.5h1M434.0 128.0h1M418.5 131.3h1M430.8 146.0h1M443.4 131.9h1M409.6 137.7h1M416.1 145.7h1M405.1 142.9h1M420.9 148.7h1M401.5 120.0h1M397.7 140.2h1M442.4 134.6h1M438.2 130.2h1M399.8 127.0h1M435.6 130.7h1M436.7 147.3h1M420.8 131.3h1M414.1 126.6h1M409.9 141.0h1M433.9 148.3h1M407.7 131.9h1M430.6 122.7h1M421.7 141.7h1M425.4 141.2h1M444.3 143.1h1M408.3 119.2h1M415.4 123.4h1M416.9 138.2h1M439.7 124.5h1M406.0 123.1h1M452.1 136.4h1M454.3 128.9h1M405.9 125.8h1M428.8 142.4h1M416.6 126.3h1M416.1 150.0h1M409.5 127.7h1M430.2 150.3h1M444.4 132.1h1M412.6 128.6h1M442.3 144.9h1M442.6 136.9h1M435.1 123.2h1M451.0 147.5h1M434.6 140.2h1M444.2 141.0h1M449.6 133.0h1M447.1 149.4h1M430.6 141.0h1M413.6 119.6h1M434.9 149.6h1M439.4 141.5h1M439.9 130.5h1M419.8 118.8h1M442.4 118.8h1M418.3 119.6h1M405.8 126.6h1M453.0 136.8h1M451.8 125.7h1M424.3 145.5h1M431.1 138.5h1M398.8 134.5h1M453.5 134.1h1M419.7 126.1h1M431.7 134.7h1M404.5 127.6h1M406.0 129.2h1M433.4 137.0h1M439.9 139.0h1M456.6 130.9h1M437.8 143.0h1M432.6 130.4h1M434.3 146.5h1M412.8 122.6h1M420.0 136.9h1M435.5 129.3h1M405.2 135.0h1M416.3 123.1h1M407.8 131.7h1M402.3 124.6h1M423.5 139.7h1M422.8 143.2h1M428.9 145.4h1M423.2 147.1h1M402.1 129.3h1M447.7 142.7h1M400.6 150.1h1M399.4 135.9h1M399.2 134.3h1M442.7 143.8h1M418.5 121.9h1M452.7 149.1h1M417.8 132.4h1M425.3 142.4h1M438.9 122.0h1M452.7 134.7h1M450.3 137.3h1M422.7 141.7h1M436.2 137.2h1M400.9 141.1h1M432.9 150.3h1M436.4 131.7h1M412.6 132.0h1M436.7 148.4h1M415.7 132.7h1M441.1 138.1h1M401.1 134.9h1M454.8 144.4h1M434.3 144.6h1M453.1 120.1h1M453.5 131.8h1M439.9 143.2h1M446.5 121.5h1M440.8 145.6h1M430.1 149.3h1M445.3 146.9h1M446.6 142.1h1M447.9 129.7h1M398.8 122.1h1M399.8 150.5h1M425.1 132.5h1M440.0 146.4h1M425.5 143.0h1M422.9 149.5h1M399.4 120.8h1M435.1 142.5h1M454.9 141.8h1M434.2 136.5h1M415.2 125.2h1M435.5 127.9h1M419.7 148.5h1M419.3 131.3h1M401.4 145.2h1M439.9 151.1h1M399.7 127.0h1M449.1 121.4h1M396.3 118.4h1M441.3 135.0h1M419.3 145.5h1M417.0 146.0h1M426.7 139.0h1M412.7 125.6h1M440.1 126.0h1M448.7 125.3h1M406.4 123.2h1M414.7 118.3h1M452.4 138.6h1M438.1 131.7h1M453.9 131.1h1M421.5 129.2h1M445.8 145.9h1M441.9 128.1h1M441.2 124.3h1M426.7 129.2h1M418.4 128.5h1M419.6 133.6h1M407.0 132.1h1M403.4 126.0h1M418.7 139.9h1M448.1 122.8h1M417.7 148.7h1M430.1 145.3h1M446.3 138.1h1M405.6 144.8h1M419.8 127.7h1M418.8 127.9h1M440.8 146.7h1M451.4 135.1h1M401.1 142.3h1M430.8 144.8h1M397.3 137.9h1M414.3 135.8h1M422.4 131.8h1M418.5 121.8h1M420.4 147.2h1M419.2 144.4h1M426.0 121.7h1M414.3 145.2h1M421.2 125.2h1M411.1 143.6h1M422.2 126.7h1M440.4 119.8h1M400.0 150.8h1M457.8 150.0h1M406.1 134.6h1M443.1 148.9h1M413.9 123.5h1M403.2 123.8h1M443.7 146.5h1M430.4 150.5h1M414.6 137.1h1M416.6 130.3h1M447.4 142.2h1M439.0 119.9h1M411.5 129.8h1M413.5 147.5h1M430.1 127.3h1M405.6 121.9h1M412.6 136.3h1M445.3 142.7h1M439.0 130.5h1M399.2 144.5h1M423.5 150.8h1M420.7 125.6h1M440.6 130.5h1M424.6 150.1h1M413.5 136.4h1M448.9 143.1h1M408.6 127.5h1M438.5 145.5h1M413.5 145.6h1M434.8 143.7h1M408.2 148.3h1M451.8 130.0h1M420.3 135.0h1M437.5 148.2h1M443.2 142.3h1M426.4 136.7h1M431.6 119.4h1M405.8 125.9h1M429.9 133.7h1M428.4 144.0h1M452.4 147.9h1M405.9 133.1h1M423.1 147.3h1M443.3 129.9h1M400.0 126.5h1M398.3 148.6h1M456.8 121.9h1M431.9 136.3h1M441.3 146.3h1M427.0 139.6h1M408.8 145.9h1M438.7 137.9h1M413.9 133.2h1M424.1 130.6h1M412.4 140.2h1M451.9 136.3h1M421.9 136.7h1M437.5 144.2h1M407.3 137.2h1M433.6 142.2h1M414.2 134.6h1M406.1 144.3h1M416.1 127.1h1M402.9 131.2h1M433.9 131.8h1M430.5 148.6h1M449.1 136.0h1M396.6 150.3h1M423.5 137.7h1M455.3 148.9h1M419.8 142.9h1M398.9 149.6h1M445.6 129.5h1M441.0 128.7h1M425.7 144.2h1M449.5 141.6h1M430.3 131.5h1M440.3 122.3h1M413.1 119.2h1M455.5 119.7h1M412.0 136.1h1M448.6 141.2h1M436.1 122.2h1M426.5 121.9h1M423.2 121.6h1M403.0 136.8h1M444.7 143.8h1M411.8 147.3h1M451.9 133.4h1M451.5 143.9h1M408.7 127.0h1M415.2 120.3h1M441.2 137.3h1M447.1 131.5h1M399.4 128.3h1M448.7 123.2h1M446.3 140.3h1M432.5 145.2h1M454.6 146.1h1M454.7 126.5h1M407.2 129.1h1M454.8 124.1h1M448.1 150.1h1M432.7 133.9h1M406.1 124.5h1M456.5 143.0h1M445.1 125.9h1M417.8 121.0h1M416.0 131.4h1M413.6 136.9h1M444.8 135.7h1M426.2 130.9h1M441.7 135.2h1M447.6 143.4h1M407.6 128.7h1M411.4 129.8h1M405.7 140.1h1M421.9 133.9h1M409.1 126.4h1M451.1 149.3h1M444.4 125.9h1M430.3 132.7h1M407.2 128.1h1M410.0 145.3h1M435.3 143.5h1M453.3 151.5h1M452.6 130.2h1M452.7 146.6h1M417.5 138.9h1M438.2 122.5h1M429.2 127.1h1M429.4 144.8h1M438.0 131.5h1M413.5 124.2h1M414.1 122.0h1M419.5 129.1h1M413.1 139.7h1M448.2 119.7h1M421.0 122.4h1M401.4 146.3h1M435.1 127.4h1M453.3 145.9h1M427.9 146.7h1M413.4 143.3h1M453.4 136.7h1M434.9 134.6h1M434.7 142.9h1M424.0 128.4h1M441.4 143.5h1M438.7 142.2h1M432.8 122.9h1M418.0 119.6h1M441.5 141.8h1M450.0 134.1h1M407.1 137.1h1M399.7 141.4h1M404.1 134.5h1M448.6 126.5h1M431.2 136.5h1M423.8 129.4h1M454.3 134.1h1M453.3 124.2h1M423.8 149.0h1M420.2 124.0h1M435.0 145.4h1M450.9 132.4h1M450.3 136.0h1M414.1 126.8h1M447.6 123.4h1M402.5 134.1h1M411.9 120.5h1M423.4 124.7h1M401.3 123.4h1M418.6 139.0h1M399.1 138.7h1M443.5 149.9h1M437.6 127.1h1M414.2 144.7h1M429.2 136.5h1M419.9 123.5h1M448.4 130.5h1M413.4 145.5h1M443.4 140.9h1M441.2 143.0h1M437.5 149.8h1M402.5 136.0h1M401.0 126.4h1M451.3 122.9h1M454.3 136.3h1M410.4 126.5h1M425.9 148.7h1M424.6 150.1h1M415.0 136.5h1M402.2 139.7h1M412.3 125.1h1M453.6 144.5h1M427.4 135.5h1M410.3 145.2h1M403.0 132.3h1M437.2 146.0h1M449.6 120.1h1M414.2 151.4h1M441.4 140.9h1M398.6 128.3h1M404.7 133.8h1M433.3 125.5h1M399.8 134.9h1M426.1 148.5h1M426.7 132.9h1M400.6 128.5h1M448.0 134.6h1M441.0 135.1h1M444.0 134.6h1M436.7 136.1h1M416.2 143.4h1M439.0 142.5h1M432.1 120.1h1M434.3 148.4h1M438.2 130.5h1M414.7 135.5h1M452.6 137.9h1M428.0 148.8h1M415.3 121.7h1M428.2 146.4h1M457.7 142.2h1M441.3 134.5h1M403.7 134.1h1M412.2 137.0h1M438.4 138.4h1M457.1 132.8h1M427.0 138.5h1M397.3 134.2h1M405.7 151.2h1M443.8 120.5h1M413.1 148.6h1M429.2 134.7h1M439.9 124.3h1M433.0 140.2h1M443.5 128.2h1M436.0 137.1h1M413.2 140.7h1M432.3 149.2h1M436.3 142.9h1M403.0 133.6h1M454.9 140.7h1M433.9 142.5h1M456.6 123.7h1M446.3 133.8h1M399.1 123.2h1M404.9 123.7h1M445.3 127.3h1M411.9 118.3h1M451.6 129.3h1M460.6 125.0h1M444.7 138.3h1M434.7 130.7h1M425.6 122.3h1M433.8 146.5h1M403.7 142.0h1M440.2 141.5h1M419.2 142.2h1M407.0 124.8h1M417.7 142.6h1M449.7 132.1h1M443.5 124.6h1M420.0 128.8h1M447.6 146.2h1M429.5 130.1h1M419.9 149.7h1M438.1 150.8h1M414.7 134.1h1M426.6 134.9h1M412.6 139.7h1M436.6 123.0h1M401.7 145.9h1M412.8 146.2h1M435.7 125.5h1M450.5 131.0h1M443.2 141.4h1M423.3 130.9h1M427.4 146.4h1M453.6 121.0h1M408.8 136.5h1M445.5 128.8h1M402.2 146.7h1M446.1 123.2h1M404.2 123.7h1M418.8 128.4h1M419.6 148.8h1M436.4 143.8h1M416.0 131.8h1M447.9 142.8h1M458.1 122.2h1M440.7 131.9h1M399.6 147.0h1M404.1 122.7h1M445.8 127.2h1M421.2 129.7h1M426.4 125.5h1M448.6 136.4h1M440.4 135.0h1M428.6 139.2h1M417.1 120.5h1M403.4 146.1h1M407.8 132.0h1M400.5 122.3h1M424.3 141.8h1M454.0 126.2h1M405.4 126.3h1M429.5 145.0h1M434.6 124.2h1M460.1 130.6h1M437.2 138.8h1M429.7 122.9h1M443.7 149.5h1M421.3 151.9h1M445.1 137.8h1M447.3 128.4h1M408.3 132.6h1M427.1 140.1h1M416.9 127.1h1M402.8 137.9h1M422.7 148.8h1M432.8 123.6h1M430.0 126.6h1M420.4 151.5h1M430.8 148.8h1M430.3 119.6h1M438.2 141.4h1M442.8 148.7h1M435.6 121.7h1M411.5 134.3h1M439.4 133.8h1M424.0 148.7h1M436.5 137.2h1M436.7 119.7h1M423.0 121.8h1M409.8 138.4h1M454.5 123.7h1M449.1 134.7h1M418.5 139.5h1M420.6 136.0h1M449.5 137.6h1M442.2 120.2h1M415.4 143.6h1M446.7 120.7h1M414.1 137.6h1M445.2 123.9h1M408.6 131.8h1M451.4 148.3h1M418.7 146.5h1M452.1 149.4h1M413.8 141.7h1M421.8 135.2h1M414.1 144.5h1M433.7 120.2h1M412.3 122.4h1M436.0 146.3h1M439.0 142.4h1M442.6 133.0h1M428.2 125.8h1M422.8 151.3h1M95.1 250.1h1M89.8 255.2h1M91.1 250.6h1M97.0 242.1h1M101.8 254.2h1M85.9 251.1h1M101.7 254.7h1M93.4 260.8h1M98.0 251.0h1M96.6 252.1h1M89.6 253.9h1M96.2 249.8h1M85.2 246.0h1M94.2 252.7h1M93.4 260.5h1M85.9 256.7h1M90.0 247.3h1M93.6 254.0h1M104.8 253.3h1M88.5 249.5h1M85.6 254.4h1M98.5 250.9h1M90.9 258.8h1M92.8 254.5h1M83.4 249.0h1M94.9 258.2h1M89.9 246.1h1M92.7 257.7h1M90.7 256.6h1M91.5 245.9h1M84.8 250.7h1M110.1 254.9h1M90.1 253.4h1M93.7 249.8h1M91.2 250.7h1M97.9 259.7h1M102.5 250.4h1M96.4 248.4h1M83.3 252.4h1M96.8 251.7h1M98.6 256.1h1M98.0 251.2h1M81.2 260.9h1M88.2 255.6h1M95.9 250.3h1M106.5 255.4h1M91.9 249.9h1M84.3 245.7h1M96.6 249.8h1M88.4 254.5h1M89.3 255.2h1M86.9 249.4h1M99.3 248.6h1M96.9 254.5h1M92.1 243.8h1M81.6 246.6h1M81.8 256.3h1M85.1 245.9h1M88.0 251.5h1M97.7 249.1h1M98.4 244.3h1M87.6 251.2h1M92.6 257.7h1M89.4 247.0h1M93.7 252.8h1M95.5 250.4h1M93.4 249.2h1M96.4 248.7h1M87.1 257.7h1M86.0 252.0h1M96.5 250.4h1M99.1 249.1h1M100.0 244.3h1M81.3 252.3h1M103.2 259.9h1M85.2 251.8h1M88.1 241.4h1M97.7 250.1h1M102.8 253.4h1M87.8 248.6h1M90.5 254.2h1M88.1 265.8h1M93.6 246.4h1M92.6 257.6h1M95.4 250.4h1M86.8 248.1h1M82.7 249.5h1M94.0 249.2h1M104.8 253.8h1M88.5 251.8h1M103.5 243.6h1M93.8 265.2h1M99.9 247.5h1M93.0 250.8h1M113.9 248.7h1M89.8 250.4h1M80.8 235.8h1M90.1 254.5h1M88.6 254.4h1M97.9 255.4h1M98.7 255.9h1M92.1 252.0h1M87.7 254.1h1M99.3 249.2h1M98.4 249.7h1M96.7 251.3h1M98.8 261.5h1M93.8 249.6h1M88.6 255.1h1M88.1 256.8h1M94.3 256.5h1M87.6 247.3h1M86.1 254.0h1M85.8 255.4h1M90.7 243.0h1M87.2 244.6h1M91.5 250.8h1M97.9 247.9h1M93.0 252.5h1M93.3 258.0h1M89.2 251.0h1M85.4 249.1h1M100.3 253.8h1M99.7 252.7h1M96.4 256.3h1M94.4 245.8h1M95.0 248.6h1M96.4 252.6h1M92.1 260.6h1M94.2 256.5h1M94.6 260.1h1M89.2 257.9h1M106.4 250.2h1M100.3 245.4h1M94.6 255.7h1M85.5 243.2h1M92.5 250.4h1M93.6 253.5h1M98.7 259.8h1M95.5 244.5h1M97.4 254.0h1M93.3 259.9h1M94.2 250.3h1M95.8 244.2h1M99.7 252.4h1M105.5 255.5h1M95.2 253.0h1M82.9 251.7h1M94.6 257.0h1M95.6 255.6h1M97.6 249.6h1M94.6 251.1h1M82.4 244.7h1M98.8 259.2h1M103.5 248.0h1M104.1 259.9h1M86.3 254.6h1M105.7 252.6h1M101.6 249.1h1M89.6 256.5h1M91.0 252.8h1M93.0 247.2h1M104.1 251.5h1M89.7 250.0h1M92.8 247.6h1M99.1 250.5h1M98.5 247.9h1M84.3 247.7h1M94.1 245.7h1M98.9 250.6h1M99.4 250.3h1M98.7 247.1h1M83.6 255.1h1M87.9 257.4h1M86.8 254.7h1M85.8 243.6h1M103.5 251.1h1M99.9 253.0h1M100.8 258.5h1M105.2 254.1h1M91.4 252.5h1M83.0 255.8h1M97.9 253.9h1M86.1 255.3h1M87.9 258.3h1M87.4 249.5h1M89.7 247.0h1M85.1 250.7h1M95.1 253.5h1M85.2 253.0h1M92.1 252.6h1M80.5 251.5h1M85.1 249.1h1M89.6 256.2h1M101.8 252.2h1M83.6 259.4h1M81.0 249.3h1M90.4 248.4h1M102.6 254.1h1M100.6 250.6h1M99.0 251.3h1M90.9 253.5h1M95.2 254.9h1M90.4 244.6h1M89.5 238.8h1M89.8 248.0h1M98.5 238.6h1M107.9 250.3h1M95.9 254.1h1M109.3 247.9h1M94.3 252.8h1M86.6 253.4h1M102.0 247.8h1M95.6 257.0h1M97.2 244.1h1M94.3 250.1h1M101.7 251.4h1M107.6 245.9h1M96.0 247.7h1M106.1 259.8h1M84.7 255.7h1M91.7 244.0h1M83.7 252.5h1M96.1 250.1h1M94.3 253.6h1M94.3 246.1h1M93.1 254.6h1M80.2 259.6h1M103.6 252.8h1M108.6 248.0h1M84.5 248.9h1M86.3 261.2h1M92.4 251.7h1M94.9 259.9h1M93.4 250.1h1M94.2 258.3h1M90.4 259.0h1M94.5 251.1h1M95.9 261.8h1M90.1 258.8h1M96.5 252.8h1M92.4 256.1h1M96.9 253.9h1M97.3 247.8h1M86.9 247.1h1M89.3 251.0h1M89.1 254.7h1M84.6 250.8h1M98.9 260.3h1M92.5 258.0h1M102.9 247.0h1M94.0 246.9h1M89.0 254.0h1M82.0 254.7h1M90.9 250.8h1M96.3 248.0h1M86.4 251.0h1M83.4 247.4h1M83.9 245.7h1M85.6 248.1h1M92.2 267.6h1M87.1 244.2h1M96.5 245.9h1M85.0 250.3h1M92.3 252.3h1M93.9 251.4h1M100.6 256.1h1M87.7 250.9h1M81.3 255.2h1M90.3 261.3h1M86.6 259.4h1M84.7 243.7h1M85.2 253.6h1M99.9 247.6h1M99.5 249.4h1M87.9 250.5h1M104.8 252.8h1M94.3 244.5h1M93.2 253.3h1M104.7 247.7h1M86.3 247.4h1M86.8 255.2h1M85.6 258.2h1M92.1 247.4h1M402.4 325.7h1M408.4 323.4h1M402.7 307.0h1M408.0 313.8h1M401.9 317.4h1M413.7 310.3h1M404.3 309.2h1M410.1 312.1h1M409.6 322.2h1M405.4 310.9h1M405.4 325.2h1M406.4 313.6h1M405.4 320.4h1M409.3 303.7h1M412.4 316.4h1M413.8 317.4h1M406.7 304.9h1M412.6 323.2h1M402.1 312.5h1M409.7 312.0h1M409.2 310.0h1M403.4 323.0h1M397.5 318.3h1M402.6 313.3h1M403.3 314.3h1M403.6 315.2h1M399.0 304.3h1M406.2 318.1h1M404.9 319.4h1M396.8 304.9h1M401.4 303.5h1M398.1 309.4h1M402.2 326.2h1M406.6 315.2h1M395.3 325.1h1M415.6 303.9h1M401.0 306.7h1M414.9 302.1h1M401.2 300.0h1M408.5 319.8h1M401.5 322.2h1M407.8 306.1h1M410.1 323.3h1M414.1 317.2h1M414.4 313.0h1M406.4 306.4h1M400.2 308.8h1M396.5 305.4h1M400.6 311.5h1M399.3 312.1h1M407.0 319.5h1M412.8 325.8h1M405.6 301.8h1M411.4 316.4h1M404.6 319.8h1M418.1 316.2h1M404.7 314.8h1M400.3 304.8h1M412.8 311.6h1M400.2 320.8h1M413.6 299.9h1M410.8 321.3h1M417.5 317.1h1M411.4 314.1h1M411.2 308.2h1M400.2 308.3h1M403.4 323.9h1M402.2 309.8h1M406.8 317.8h1M410.6 303.9h1M400.7 301.5h1M413.6 311.2h1M408.1 313.2h1M398.8 299.8h1M404.9 317.3h1M407.6 300.4h1M404.4 315.8h1M412.7 310.3h1M410.8 315.5h1M408.3 309.8h1M409.2 322.1h1M407.1 310.4h1M422.6 318.7h1M410.8 301.3h1M413.2 300.1h1M413.8 315.8h1M404.4 307.5h1M408.0 309.9h1M397.5 321.8h1M398.6 311.7h1M404.4 325.7h1M398.5 321.2h1M409.7 289.6h1M399.2 307.4h1M401.2 314.8h1M410.2 321.5h1M403.0 317.3h1M405.7 317.2h1M406.7 312.9h1M405.2 317.2h1M407.7 305.2h1M395.4 321.2h1M411.3 312.4h1M413.6 312.6h1M406.4 309.6h1M405.9 308.0h1M413.0 320.4h1M410.6 301.5h1M408.8 314.7h1M405.5 316.8h1M406.3 316.4h1M407.1 310.9h1M416.6 312.9h1M410.6 320.8h1M401.9 311.7h1M402.3 311.9h1M400.6 320.3h1M407.2 303.3h1M409.8 305.2h1M399.2 316.6h1M407.4 307.4h1M411.1 316.9h1M408.1 321.4h1M408.8 323.3h1M409.1 316.0h1M391.6 310.5h1M417.8 308.7h1M406.4 309.7h1M397.2 318.1h1M417.6 326.7h1M405.9 306.1h1M404.2 317.4h1M405.0 319.6h1M408.7 303.4h1M400.8 320.0h1M411.9 313.4h1M415.3 312.8h1M405.6 312.9h1M410.2 294.9h1M407.9 314.5h1M402.5 306.4h1M414.0 309.5h1M405.5 320.7h1M403.1 308.1h1M399.2 308.3h1M401.9 309.5h1M401.0 293.9h1M413.6 319.2h1M410.8 317.5h1M410.4 307.5h1M423.0 308.4h1M404.9 313.6h1M401.5 311.1h1M409.7 315.8h1M400.4 319.2h1M402.8 300.6h1M412.1 315.8h1M405.8 306.9h1M411.3 311.0h1M403.3 317.6h1M408.7 303.4h1M414.0 299.7h1M402.6 316.0h1M406.6 319.5h1M410.3 294.1h1M414.4 309.1h1M407.1 307.0h1M401.1 318.3h1M409.7 315.2h1M403.5 325.8h1M409.2 317.9h1M407.6 315.6h1M413.5 321.6h1M413.3 314.1h1M407.9 303.9h1M406.1 308.7h1M402.6 313.2h1M407.6 307.5h1M397.8 311.1h1M407.2 315.7h1M402.2 302.7h1M397.0 313.0h1M403.8 317.8h1M399.2 323.7h1M406.0 311.4h1M407.9 318.7h1M411.5 298.3h1M403.9 316.6h1M410.2 314.8h1M402.2 316.4h1M406.0 313.1h1M413.8 312.2h1M409.6 324.7h1M412.6 303.1h1M401.2 297.1h1M412.9 311.7h1M404.1 312.4h1M400.6 317.6h1M402.1 320.3h1M408.5 312.6h1M410.1 311.1h1M406.9 322.7h1M416.3 317.5h1M414.8 300.5h1M407.8 313.0h1M404.5 317.4h1M417.6 317.3h1M413.3 324.2h1M414.4 313.8h1M403.9 322.4h1M412.0 309.7h1M416.1 306.8h1M400.6 312.9h1M400.1 312.1h1M406.9 308.8h1M407.6 303.4h1M394.9 319.8h1M412.3 320.1h1M405.0 317.0h1M405.4 322.7h1M400.8 315.6h1M404.7 319.0h1M407.6 299.3h1M405.5 305.6h1M409.7 320.1h1M400.7 316.7h1M401.8 309.4h1M408.1 323.0h1M409.8 318.5h1M404.6 312.2h1M410.6 314.7h1M408.1 316.5h1M416.3 324.2h1M415.0 316.5h1M403.1 304.2h1M408.1 305.6h1M396.8 311.1h1M419.4 313.6h1M408.1 313.0h1M408.2 303.0h1M408.8 319.8h1M408.8 315.9h1M407.6 319.2h1M401.2 298.0h1M404.7 313.4h1M410.7 307.7h1M408.3 313.2h1M411.3 309.9h1M410.7 319.4h1M405.9 312.3h1M404.9 307.9h1M403.9 305.0h1M411.2 316.7h1M406.7 314.3h1M407.5 325.2h1M412.1 310.9h1M411.0 300.6h1M404.6 307.4h1M409.0 309.1h1M403.0 307.7h1M399.5 303.0h1M402.0 316.2h1M408.7 319.2h1M416.2 320.5h1M397.4 308.4h1M415.4 314.6h1M409.2 315.0h1M399.8 316.5h1M406.4 305.5h1M409.2 326.7h1M406.2 303.2h1M406.5 306.2h1M394.1 309.4h1M409.2 305.7h1M406.6 312.1h1M404.6 310.0h1M405.4 310.9h1M406.3 317.1h1M404.4 306.6h1M409.7 307.8h1M418.5 311.1h1M417.7 315.1h1M408.7 320.1h1M409.3 312.1h1M405.2 305.9h1M401.9 319.7h1M394.1 326.4h1M412.0 310.6h1M413.0 294.2h1M396.3 318.1h1M400.6 316.1h1M404.7 315.9h1M405.2 312.9h1M397.8 312.5h1M402.1 320.9h1M403.2 316.2h1M409.9 311.5h1M402.3 313.8h1M406.0 318.7h1M401.7 303.5h1M410.5 314.5h1M413.1 323.2h1M396.7 314.5h1M407.5 313.1h1M405.7 311.5h1M410.2 318.4h1M406.0 319.2h1M414.0 308.3h1M413.4 306.4h1M413.5 305.4h1M402.0 301.7h1M404.9 312.0h1M405.7 309.4h1M405.2 308.4h1M404.4 313.3h1M403.4 313.4h1M400.6 301.7h1M410.5 305.9h1M406.9 304.3h1M398.3 301.4h1M401.6 322.2h1M402.5 313.9h1M404.2 312.9h1M399.8 320.5h1M407.4 308.4h1M410.6 300.0h1M402.4 314.7h1M414.8 308.1h1M416.1 321.3h1M401.6 316.1h1M412.5 304.5h1M414.4 300.0h1M413.8 321.1h1M415.4 318.8h1M407.9 299.8h1M416.0 317.4h1M411.0 307.7h1M394.5 316.1h1M401.7 312.0h1M409.5 302.1h1M408.9 306.3h1M403.4 318.2h1M398.6 307.8h1M405.2 320.2h1M406.0 317.5h1M400.5 300.4h1M405.6 324.5h1M409.2 308.8h1M403.0 322.8h1M409.9 300.9h1M407.3 312.3h1M408.4 311.5h1M405.7 311.7h1M395.7 309.6h1M403.9 320.6h1M411.8 309.2h1M405.8 312.8h1M417.1 320.6h1M402.8 323.6h1M401.4 321.1h1M407.0 303.0h1M404.1 310.7h1M412.3 322.5h1M397.0 308.4h1M412.3 316.2h1M409.3 317.4h1M410.6 322.5h1M404.4 294.6h1M409.1 307.2h1M397.5 312.6h1M402.4 311.7h1M395.3 316.3h1M406.1 313.6h1M402.4 305.8h1M411.6 317.1h1M405.0 302.6h1M409.1 308.2h1M411.0 306.6h1M407.4 314.9h1M403.4 316.3h1M399.0 322.4h1M404.1 308.8h1M405.4 309.3h1M402.6 313.6h1M403.0 309.7h1M407.3 310.5h1M402.1 318.3h1M423.1 320.6h1M419.0 309.8h1M411.7 312.7h1M416.0 309.9h1M402.6 305.6h1M400.8 307.6h1M410.8 319.9h1M410.4 320.4h1M412.6 302.2h1M407.0 323.8h1M408.3 322.2h1M432.2 311.2h1M417.9 306.4h1M425.9 325.8h1M421.0 300.4h1M428.8 313.1h1M407.4 316.6h1M432.1 311.7h1M429.0 314.6h1M420.8 316.3h1M411.6 310.8h1M415.8 324.4h1M438.7 315.3h1M424.6 320.2h1M429.1 306.2h1M423.8 316.2h1M430.1 305.7h1M414.6 302.2h1M430.4 313.4h1M409.4 304.8h1M411.6 302.5h1M407.2 316.8h1M401.1 320.1h1M439.7 308.9h1M433.5 302.5h1M425.4 307.9h1M409.0 321.8h1M420.5 317.9h1M422.4 325.0h1M415.6 323.8h1M413.3 310.4h1M417.0 317.4h1M438.0 306.0h1M436.9 318.4h1M402.8 323.4h1M402.5 316.3h1M424.5 325.6h1M411.4 326.6h1M423.4 308.8h1M427.5 303.3h1M435.7 304.2h1M438.3 308.5h1M413.8 312.1h1M415.1 303.9h1M432.0 306.8h1M423.5 325.0h1M403.7 319.5h1M400.6 314.5h1M436.2 324.1h1M413.6 319.4h1M432.8 322.3h1M417.9 306.1h1M420.3 316.0h1M427.0 302.7h1M427.3 305.9h1M422.8 312.0h1M413.8 311.5h1M437.1 316.4h1M430.0 318.4h1M410.4 299.2h1M412.3 319.6h1M433.5 314.3h1M426.6 309.1h1M415.4 307.4h1M422.3 313.1h1M415.8 319.1h1M432.4 320.2h1M422.2 311.2h1M412.2 312.6h1M421.5 315.2h1M440.1 322.5h1M419.7 322.3h1M413.0 319.1h1M418.6 314.8h1M439.4 312.0h1M405.9 323.0h1M411.6 320.6h1M431.8 318.0h1M412.0 306.7h1M421.7 324.8h1M437.2 305.8h1M413.5 313.5h1M436.1 324.5h1M417.5 308.7h1M422.1 322.7h1M420.1 314.3h1M408.7 308.2h1M420.0 319.7h1M436.8 307.5h1M404.5 308.0h1M432.2 320.9h1M403.6 311.5h1M414.1 318.5h1M399.7 317.5h1M408.6 320.8h1M419.6 320.0h1M402.1 318.4h1M404.0 321.9h1M404.5 324.7h1M405.0 309.0h1M434.7 305.4h1M436.3 301.2h1M417.9 317.2h1M425.0 322.7h1M402.5 309.6h1M432.9 324.9h1M425.3 323.3h1M428.1 305.4h1M437.4 310.9h1M431.5 315.8h1M420.3 317.7h1M431.4 318.9h1M427.5 308.9h1M434.9 316.1h1M434.9 306.7h1M431.9 317.9h1M428.9 313.2h1M406.0 317.3h1M416.0 310.3h1M432.0 324.2h1M420.2 323.2h1M419.2 323.6h1M403.7 319.7h1M435.4 318.9h1M434.7 302.7h1M413.9 308.8h1M433.6 310.0h1M437.2 325.6h1M440.0 302.7h1M423.5 306.4h1M415.8 318.4h1M419.5 312.7h1M439.1 310.4h1M433.3 313.4h1M412.6 310.6h1M437.8 310.2h1M420.6 310.4h1M406.2 302.7h1M417.1 325.7h1M413.8 324.8h1M430.3 308.7h1M430.4 303.2h1M421.0 320.5h1M424.4 311.6h1M430.5 318.1h1M412.5 326.7h1M435.6 301.4h1M426.8 312.8h1M430.0 312.5h1M437.5 307.6h1M421.1 321.5h1M431.4 315.0h1M419.0 317.4h1M425.2 322.7h1M423.8 314.4h1M406.2 326.6h1M403.9 310.2h1M406.5 323.2h1M427.3 300.3h1M427.0 307.2h1M407.9 313.1h1M440.2 314.9h1M439.1 323.4h1M435.6 320.9h1M402.7 309.9h1M430.0 326.4h1M404.2 324.4h1M402.2 302.7h1M423.5 315.8h1M429.4 311.3h1M403.7 324.0h1M425.3 310.3h1M405.3 326.1h1M416.4 321.2h1M425.1 301.8h1M438.3 316.3h1M425.0 310.1h1M409.3 323.5h1M412.2 313.7h1M425.5 321.1h1M421.3 317.1h1M401.6 303.8h1M427.4 316.6h1M421.2 320.8h1M417.3 323.6h1M434.8 310.7h1M433.7 312.2h1M427.8 314.6h1M413.2 320.7h1M404.2 310.7h1M401.4 313.8h1M404.0 310.0h1M412.3 309.8h1M434.9 301.6h1M418.4 325.5h1M425.6 306.5h1M411.3 312.7h1M437.5 317.9h1M410.7 324.0h1M409.6 317.3h1M422.8 311.3h1M440.8 325.3h1M438.9 308.7h1M431.1 317.6h1M403.5 325.0h1M413.1 309.2h1M425.3 321.7h1M416.5 300.4h1M423.3 318.4h1M426.8 313.3h1M403.3 307.2h1M440.1 309.7h1M425.1 305.2h1M411.8 312.0h1M404.3 320.6h1M403.6 317.1h1M428.3 302.6h1M424.6 309.7h1M416.5 326.5h1M409.7 316.8h1M425.2 309.5h1M438.9 304.2h1M440.3 303.9h1M399.4 311.3h1M421.6 323.1h1M420.7 309.2h1M434.8 318.3h1M400.9 321.4h1M409.5 320.5h1M407.7 305.6h1M443.2 313.4h1M428.0 323.1h1M421.0 323.5h1M406.1 321.6h1M409.7 310.8h1M408.0 304.5h1M431.8 324.6h1M404.9 301.9h1M404.7 302.2h1M422.0 311.5h1M410.4 324.2h1M419.6 309.9h1M411.5 315.0h1M430.5 311.0h1M408.7 301.6h1M423.1 314.7h1M413.6 317.5h1M421.3 309.0h1M422.9 306.9h1M405.3 324.9h1M403.3 308.6h1M419.9 305.5h1M412.7 319.1h1M423.3 320.1h1M423.1 319.7h1M417.3 312.1h1M406.6 316.9h1M437.1 308.1h1M428.4 307.4h1M430.7 323.0h1M403.9 325.7h1M433.9 323.7h1M432.7 317.0h1M441.6 314.2h1M405.6 311.6h1M404.7 304.8h1M403.1 322.1h1M414.4 304.7h1M403.3 312.7h1M436.2 305.4h1M417.5 311.7h1M432.7 314.3h1M401.9 309.6h1M412.3 307.3h1M435.1 306.1h1M422.8 306.0h1M400.3 310.6h1M424.0 307.0h1M433.0 307.9h1M429.3 315.4h1M441.8 320.5h1M437.4 320.6h1M411.7 304.5h1M421.1 326.1h1M407.8 320.6h1M426.5 307.0h1M436.9 312.7h1M433.2 311.6h1M409.9 310.4h1M423.2 306.3h1M417.4 312.9h1M414.4 319.9h1M425.3 306.3h1M403.8 317.9h1M402.1 311.1h1M413.3 308.9h1M434.1 318.9h1M436.8 312.4h1M427.5 320.7h1M401.0 303.7h1M432.1 319.5h1M419.4 308.4h1M418.2 319.5h1M409.5 322.1h1M416.7 313.1h1M436.9 314.6h1M417.6 325.0h1M412.0 313.4h1M417.8 312.7h1M438.4 316.2h1M436.3 324.2h1M422.7 311.1h1M427.5 301.3h1M440.3 320.9h1M412.3 315.8h1M410.8 315.1h1M400.7 321.9h1M424.4 306.9h1M427.5 317.6h1M417.4 307.8h1M415.4 317.1h1M437.1 320.6h1M427.1 323.8h1M423.0 325.3h1M425.1 326.7h1M434.1 321.5h1M424.8 302.0h1M405.8 307.8h1M402.0 320.4h1M427.8 304.3h1M406.0 304.3h1M426.6 297.8h1M427.3 309.7h1M428.0 319.8h1M431.2 311.9h1M418.0 324.6h1M404.0 304.8h1M437.8 322.8h1M425.0 300.1h1M419.6 316.9h1M432.0 315.8h1M432.1 298.9h1M437.3 317.8h1M404.0 315.8h1M407.5 321.5h1M421.8 323.0h1M410.3 317.9h1M416.2 312.5h1M436.2 310.5h1M425.2 311.8h1M430.7 307.9h1M413.7 315.6h1M434.2 310.9h1M403.3 320.4h1M418.2 324.6h1M402.2 302.6h1M416.0 302.9h1M432.1 306.6h1M424.3 324.9h1M407.4 323.5h1M414.5 301.5h1M434.7 325.1h1M428.5 303.3h1M412.9 318.0h1M414.0 302.6h1M422.5 313.3h1M423.4 309.0h1M435.6 314.1h1M409.4 319.5h1M402.0 320.7h1M438.7 301.3h1M430.7 319.3h1M431.9 319.5h1M416.8 303.9h1M412.1 311.5h1M434.9 318.8h1M402.8 310.0h1M425.0 306.7h1M415.4 315.8h1M414.4 313.8h1M413.8 324.0h1M421.9 314.4h1M418.3 316.6h1M440.7 317.0h1M414.9 312.8h1M419.5 307.8h1M422.1 312.4h1M436.6 307.5h1M426.8 324.4h1M415.5 324.0h1M421.8 321.1h1M411.7 308.2h1M411.7 316.3h1M417.6 324.5h1M415.1 312.4h1M418.5 301.3h1M418.5 314.0h1M406.1 325.2h1M407.1 320.7h1M432.0 316.4h1M420.4 304.2h1M438.5 321.9h1M407.0 323.1h1M410.9 319.5h1M414.8 304.3h1M436.0 319.0h1M404.2 316.2h1M412.6 315.0h1M433.3 326.2h1M410.4 325.7h1M423.6 311.0h1M435.6 326.6h1M438.2 309.9h1M420.7 308.8h1M403.4 318.0h1M434.1 309.8h1M424.4 322.9h1M410.1 316.8h1M402.7 304.0h1M433.9 314.1h1M429.3 323.4h1M414.2 314.2h1M413.3 316.2h1M432.4 320.7h1M403.1 307.2h1M430.3 324.5h1M427.2 312.3h1M406.2 316.5h1M411.7 315.3h1M420.8 317.4h1M405.1 319.9h1M406.3 304.9h1M404.6 305.7h1M406.8 306.6h1M428.7 309.6h1M429.8 311.3h1M436.1 301.4h1M440.8 309.8h1M435.9 322.6h1M419.4 310.2h1M432.3 311.9h1M412.4 299.9h1M407.6 325.2h1M439.6 319.5h1M432.2 308.9h1M424.7 312.7h1M422.8 316.5h1M408.5 308.2h1M410.5 316.4h1M419.0 325.6h1M433.1 314.9h1M431.5 302.9h1M414.9 319.1h1M415.1 325.0h1M427.9 305.7h1M432.7 325.9h1M410.0 311.6h1M429.1 323.4h1M436.3 323.8h1M411.0 306.4h1M404.6 307.7h1M412.2 317.2h1M434.2 325.6h1M414.9 314.3h1M433.6 314.9h1M434.4 308.7h1M425.9 321.2h1M419.3 308.8h1M403.8 308.0h1M437.8 308.5h1M408.9 304.5h1M418.2 308.3h1M436.9 320.4h1M423.4 322.7h1M428.8 309.6h1M419.0 311.6h1M437.5 322.9h1M426.5 316.1h1M424.2 318.7h1M419.2 306.2h1M416.5 309.8h1M406.3 304.7h1M404.5 322.2h1M412.7 306.1h1M416.8 318.3h1M403.1 299.9h1M410.2 317.2h1M438.9 315.8h1M407.4 312.5h1M411.6 320.4h1M425.8 312.0h1M402.1 300.5h1M403.0 319.5h1M399.0 307.4h1M417.7 315.1h1M431.3 324.2h1M434.2 316.0h1M424.4 319.4h1M415.4 316.5h1M418.9 313.0h1M427.3 306.0h1M423.0 316.8h1M414.8 306.3h1M432.0 300.2h1M405.3 310.1h1M441.3 318.5h1M409.0 311.2h1M416.0 320.2h1M443.2 317.2h1M421.9 322.4h1M432.8 316.8h1M416.8 305.6h1M432.1 304.2h1M419.5 305.5h1M437.2 318.6h1M427.0 308.4h1M401.8 312.7h1M425.6 311.2h1M428.7 322.0h1M421.6 303.3h1M432.3 313.4h1M420.6 322.4h1M405.7 311.8h1M439.4 310.3h1M427.0 314.7h1M428.4 326.5h1M422.4 322.4h1M432.7 311.4h1M415.5 306.0h1M404.3 312.8h1M415.3 310.3h1M429.0 325.5h1M413.5 305.8h1M432.2 310.7h1M416.4 315.5h1M426.7 320.3h1M403.1 304.6h1M438.5 304.8h1M417.2 310.1h1M424.0 316.1h1M406.7 318.0h1M423.0 315.4h1M426.9 302.9h1M425.4 317.1h1M415.1 323.1h1M404.3 310.5h1M418.8 310.2h1M401.6 315.2h1M428.7 307.5h1M429.5 318.0h1M412.6 308.8h1M419.2 317.9h1M432.4 300.9h1M434.3 326.7h1M415.8 308.6h1M434.9 320.6h1M409.4 318.7h1M416.4 313.1h1M415.1 321.3h1M422.2 301.7h1M418.2 316.0h1M434.6 325.1h1M427.1 312.2h1M438.5 316.6h1M400.3 313.3h1M410.2 306.2h1M423.4 317.1h1M427.3 318.6h1M422.8 306.1h1M406.1 319.2h1M417.5 308.4h1M424.9 305.8h1M428.1 305.1h1M431.0 324.3h1M412.8 319.3h1M433.2 305.0h1M440.4 313.7h1M424.0 310.7h1M413.2 310.9h1M435.7 303.5h1M413.5 308.1h1M411.0 314.9h1M435.0 317.2h1M407.9 309.4h1M414.6 303.4h1M438.2 324.0h1M405.1 315.7h1M417.4 322.5h1M418.1 310.5h1M430.4 314.7h1M424.7 305.0h1M412.4 320.2h1M419.1 323.5h1M406.6 313.2h1M413.6 314.4h1M434.6 312.0h1M415.2 317.4h1M411.1 320.2h1M417.1 323.2h1M427.4 307.2h1M418.5 302.3h1M412.3 310.2h1M405.9 311.8h1M435.5 310.2h1M420.3 313.8h1M406.9 312.2h1M428.1 326.1h1M440.0 321.2h1M434.3 317.7h1M409.2 325.4h1M422.0 305.6h1M410.4 313.1h1M426.8 315.1h1M402.7 303.6h1M431.0 308.3h1M415.4 308.1h1M413.3 303.5h1M415.3 319.4h1M409.7 314.6h1M424.6 323.2h1" stroke="#000" stroke-opacity="0.5" stroke-width="1" fill="none"/><path d="M427.0 141.9h1M422.2 127.3h1M430.6 135.7h1M427.4 146.7h1M428.5 134.3h1M425.3 143.9h1M432.5 135.2h1M419.9 134.8h1M425.8 135.0h1M432.8 127.0h1M429.3 138.4h1M429.0 129.9h1M422.8 127.5h1M421.8 139.2h1M428.7 123.7h1M428.1 123.2h1M411.7 140.7h1M434.0 121.9h1M424.6 133.7h1M426.2 126.2h1M425.6 130.5h1M425.4 133.7h1M427.0 126.9h1M428.3 120.5h1M435.4 120.0h1M427.7 134.6h1M430.2 134.0h1M434.5 124.3h1M427.8 133.2h1M425.7 128.0h1M434.6 127.2h1M425.7 130.3h1M427.1 133.3h1M427.1 134.8h1M428.8 135.5h1M435.0 126.3h1M436.4 129.0h1M431.5 133.3h1M426.6 118.5h1M436.2 126.9h1M424.2 139.6h1M428.5 145.5h1M436.5 137.1h1M429.4 137.5h1M421.6 133.4h1M428.9 128.9h1M429.4 122.0h1M432.6 141.1h1M421.7 133.2h1M435.8 135.1h1M423.0 125.3h1M432.4 144.9h1M422.7 132.4h1M424.2 130.2h1M429.6 131.9h1M424.7 146.8h1M427.3 130.9h1M433.6 132.2h1M427.1 138.7h1M423.0 137.3h1M433.2 136.7h1M427.2 132.1h1M419.6 131.2h1M429.5 138.2h1M428.8 129.4h1M423.9 131.8h1M428.8 140.5h1M428.1 128.7h1M427.6 128.8h1M420.2 123.9h1M430.4 131.6h1M428.8 140.2h1M422.9 140.0h1M430.0 127.2h1M435.5 122.2h1M422.5 130.7h1M430.1 130.8h1M417.5 130.1h1M427.7 149.7h1M434.9 133.0h1M422.7 134.5h1M422.3 133.5h1M429.9 129.3h1M429.3 129.8h1M425.3 142.7h1M431.0 130.0h1M424.3 133.3h1M430.9 138.0h1M435.4 135.3h1M422.6 146.1h1M433.8 137.9h1M434.7 121.8h1M426.2 128.6h1M433.9 124.0h1M426.5 142.6h1M431.3 129.4h1M437.3 122.9h1M430.3 130.5h1M430.6 130.2h1M423.9 133.6h1M421.6 135.8h1M426.5 138.5h1M425.9 127.5h1M430.0 140.6h1M417.9 132.9h1M431.1 122.3h1M423.7 136.5h1M424.0 127.7h1M436.5 125.6h1M422.7 123.6h1M436.5 140.5h1M421.8 145.6h1M431.8 130.8h1M432.0 134.7h1M424.3 119.9h1M423.6 132.0h1M426.3 127.0h1M432.8 124.7h1M432.4 128.7h1M428.6 124.3h1M428.0 126.7h1M419.4 131.9h1M427.8 137.8h1M429.4 125.1h1M422.5 141.0h1M435.5 137.3h1M429.5 136.1h1M430.4 120.1h1M423.7 140.2h1M433.9 133.7h1M426.5 129.4h1M425.3 125.6h1M418.5 133.1h1M425.8 130.6h1M436.5 136.1h1M424.6 136.1h1M420.6 139.3h1M429.3 130.7h1M430.8 142.1h1M425.7 125.2h1M438.5 132.1h1M435.4 127.4h1M429.9 127.6h1M431.2 130.1h1M424.7 142.8h1M426.9 125.7h1M422.0 128.0h1M425.7 132.3h1M424.1 119.1h1M425.4 138.1h1M421.3 136.3h1M430.3 128.9h1M429.5 126.8h1M426.0 124.9h1M430.3 141.5h1M424.6 140.3h1M417.4 125.9h1M423.0 144.0h1M425.1 137.4h1M417.8 132.8h1M430.8 131.8h1M414.5 133.2h1M432.0 141.2h1M430.0 120.2h1M427.0 138.3h1M423.9 135.9h1M425.6 132.6h1M431.8 127.1h1M442.3 133.1h1M429.7 126.8h1M428.3 130.1h1M420.7 121.3h1M429.4 131.4h1M426.5 131.5h1M431.0 123.3h1M431.0 129.8h1M425.5 131.0h1M432.9 135.9h1M432.4 127.2h1M426.6 123.9h1M425.2 129.2h1M425.7 137.0h1M430.1 137.3h1M428.6 139.5h1M428.6 138.8h1M430.5 137.1h1M427.7 123.3h1M420.8 145.7h1M429.9 135.1h1M427.2 128.8h1M442.4 124.2h1M427.7 131.6h1M422.3 123.1h1M424.5 129.6h1M425.6 137.7h1M422.1 134.8h1M435.3 138.3h1M432.2 135.5h1M425.1 141.0h1M426.0 132.8h1M422.8 134.2h1M425.8 128.5h1M433.4 133.5h1M420.5 136.8h1M432.2 126.2h1M426.0 132.4h1M426.8 132.9h1M431.2 128.6h1M438.4 127.0h1M425.3 145.8h1M439.9 132.3h1M427.1 124.5h1M433.7 133.2h1M423.8 134.8h1M434.9 136.8h1M439.0 140.1h1M430.2 131.8h1M430.8 140.5h1M432.3 139.4h1M429.1 137.4h1M434.1 130.8h1M421.5 144.1h1M430.9 128.9h1M429.2 130.3h1M419.5 130.7h1M420.9 133.4h1M427.5 139.9h1M427.4 134.6h1M426.5 129.3h1M421.0 138.9h1M428.9 127.9h1M429.0 129.1h1M424.4 133.7h1M434.1 130.1h1M420.9 127.7h1M437.0 126.3h1M433.9 130.3h1M431.7 131.3h1M420.1 129.1h1M438.6 131.1h1M430.8 129.6h1M427.3 134.3h1M430.4 147.5h1M427.9 130.7h1M424.7 122.8h1M420.0 136.6h1M418.7 141.9h1M432.3 129.9h1M422.2 132.2h1M428.1 139.9h1M424.3 129.4h1M427.7 130.1h1M424.9 120.0h1M419.8 127.3h1M426.9 139.0h1M439.6 144.0h1M430.0 145.2h1M427.4 128.3h1M439.6 124.6h1M425.9 130.2h1M435.3 127.9h1M431.9 129.2h1M421.9 133.7h1M428.9 123.9h1M423.7 126.5h1M432.8 135.3h1M429.2 135.5h1M425.6 135.4h1M425.0 122.7h1M424.5 133.5h1M428.5 139.4h1M419.6 130.5h1M430.0 125.3h1M429.3 129.2h1M422.4 139.9h1M421.1 139.0h1M426.0 125.5h1M423.6 126.9h1M423.8 133.9h1M418.7 140.7h1M432.2 141.8h1M424.9 130.9h1M429.6 128.4h1M427.6 133.1h1M420.3 144.7h1M422.4 133.9h1M433.4 126.6h1M428.1 143.5h1M426.6 139.4h1M429.5 133.7h1M431.6 130.5h1M427.0 138.8h1M429.4 135.6h1M232.0 296.0h1M224.2 315.2h1M226.8 289.0h1M235.9 281.8h1M227.5 304.6h1M226.7 292.2h1M231.0 284.6h1M227.2 305.6h1M221.9 312.8h1M227.2 297.0h1M225.6 304.0h1M225.6 300.2h1M235.9 311.3h1M219.4 312.4h1M225.5 301.0h1M229.0 300.8h1M224.9 304.1h1M234.4 291.5h1M228.3 306.6h1M234.8 301.4h1M230.0 303.0h1M226.4 301.4h1M226.8 294.0h1M214.5 278.3h1M230.6 305.8h1M231.0 298.8h1M226.6 303.8h1M226.0 297.6h1M237.2 282.7h1M224.8 295.0h1M217.0 284.8h1M234.6 303.2h1M227.5 311.7h1M222.5 318.3h1M227.9 291.1h1M234.7 303.2h1M229.5 296.3h1M217.6 275.0h1M228.3 307.9h1M223.6 298.5h1M219.0 281.3h1M227.9 305.0h1M232.6 310.5h1M223.5 295.6h1M232.9 286.3h1M226.4 297.4h1M228.1 306.9h1M230.7 292.6h1M214.5 306.0h1M234.1 302.9h1M230.3 302.2h1M235.3 291.8h1M227.8 286.6h1M226.9 288.4h1M223.3 275.8h1M227.6 308.2h1M227.9 289.9h1M229.9 294.5h1M227.6 312.6h1M229.1 301.1h1M226.5 295.3h1M222.7 295.8h1M223.5 309.5h1M226.7 305.1h1M235.7 308.2h1M224.0 315.2h1M216.9 312.5h1M227.6 289.4h1M215.6 280.9h1M229.5 278.5h1M231.8 309.5h1M236.0 299.8h1M227.7 292.7h1M244.3 310.1h1M231.8 300.7h1M234.5 276.3h1M233.1 290.8h1M214.4 309.0h1M223.5 301.8h1M223.7 292.7h1M237.5 300.6h1M230.3 280.0h1M233.4 290.1h1M230.8 286.0h1M230.2 303.0h1M219.4 300.5h1M222.8 310.6h1M230.2 297.6h1M246.0 306.1h1M225.8 306.6h1M229.7 311.8h1M222.1 318.4h1M225.1 293.0h1M223.7 293.9h1M239.4 299.1h1M221.7 295.5h1M229.5 307.5h1M226.2 299.2h1M245.5 295.7h1M228.8 284.2h1M233.7 292.1h1M239.0 310.3h1M232.9 291.7h1M226.1 293.0h1M228.6 293.4h1M224.9 298.2h1M227.9 293.1h1M233.5 308.5h1M224.8 320.5h1M230.3 310.5h1M239.2 281.8h1M231.1 307.1h1M235.2 305.8h1M234.1 280.8h1M222.4 303.4h1M216.0 291.2h1M227.0 301.3h1M233.5 299.8h1M223.2 286.8h1M230.5 303.5h1M230.3 298.7h1M228.8 282.0h1M227.9 305.5h1M221.4 301.9h1M232.2 322.6h1M227.7 294.5h1M220.9 285.3h1M218.5 277.7h1M232.3 297.1h1M229.9 279.9h1M216.1 277.9h1M237.7 309.5h1M220.1 298.3h1M229.1 286.5h1M224.3 307.6h1M232.4 307.0h1M230.1 298.6h1M231.1 295.6h1M238.2 299.8h1M231.4 296.4h1M224.2 296.8h1M226.2 288.6h1M233.0 319.1h1M229.9 296.3h1M224.0 281.4h1M231.8 303.7h1M223.5 298.3h1M223.2 312.9h1M228.9 302.3h1M238.4 273.2h1M230.7 300.4h1M226.6 297.7h1M235.7 290.4h1M224.5 316.3h1M234.4 302.9h1M233.1 298.6h1M226.6 296.1h1M230.2 292.7h1M218.9 295.9h1M230.1 296.3h1M232.4 300.9h1M234.1 299.1h1M227.4 304.0h1M233.6 293.0h1M223.4 312.3h1M225.3 301.8h1M225.7 300.2h1M236.6 316.0h1M220.7 282.2h1M237.6 300.6h1M226.7 306.7h1M222.9 304.9h1M236.4 311.1h1M232.6 292.3h1M226.5 287.9h1M239.4 311.2h1M228.1 297.0h1M229.8 290.6h1M231.5 303.1h1M230.9 298.3h1M213.6 295.6h1M220.1 279.5h1M241.6 292.3h1M227.2 294.4h1M223.3 315.1h1M217.5 302.8h1M224.9 311.3h1M233.3 298.4h1M219.5 306.0h1M234.0 304.6h1M226.6 304.3h1M223.7 300.2h1M230.4 295.0h1M222.4 295.1h1M223.1 284.5h1M234.4 295.8h1M225.2 291.8h1M230.8 293.9h1M224.1 300.3h1M229.1 287.6h1M221.9 311.5h1M226.6 310.4h1M231.7 296.6h1M226.8 315.0h1M224.4 293.2h1M223.3 295.7h1M222.7 298.6h1M220.8 303.0h1M230.2 299.7h1M224.6 311.2h1M240.0 295.9h1M223.6 304.3h1M226.9 298.9h1M232.0 282.6h1M232.5 286.0h1M220.8 293.1h1M236.8 290.5h1M230.9 287.2h1M231.9 300.8h1M235.0 299.2h1M228.2 277.0h1M230.0 305.9h1M229.3 299.3h1M231.5 306.7h1M222.9 296.5h1M230.7 300.0h1M222.5 275.8h1M230.0 305.1h1M238.0 301.8h1M223.0 302.1h1M227.5 289.9h1M219.6 277.5h1M224.0 292.7h1M228.5 297.4h1M229.5 317.9h1M227.7 312.1h1M223.5 289.4h1M225.0 277.7h1M237.9 300.0h1M232.4 316.0h1M230.8 314.9h1M214.1 311.0h1M229.9 291.2h1M234.5 297.5h1M224.0 276.1h1M238.7 268.8h1M228.5 314.6h1M232.0 290.4h1M226.5 290.5h1M229.6 296.3h1M220.4 281.1h1M234.9 283.2h1M221.3 322.5h1M223.1 282.7h1M222.3 305.4h1M223.6 295.5h1M214.2 290.2h1M228.2 297.5h1M236.7 302.5h1M222.6 293.6h1M228.2 303.7h1M217.8 272.4h1M232.6 285.8h1M213.8 286.3h1M225.2 283.4h1M220.8 307.8h1M221.2 300.0h1M229.1 292.7h1M242.0 281.8h1M243.3 286.2h1M226.2 300.0h1M234.5 304.4h1M225.7 292.9h1M234.9 313.6h1M224.7 310.2h1M231.3 299.6h1M221.3 282.9h1M230.5 266.3h1M224.9 301.5h1M217.9 314.7h1M237.9 285.1h1M227.2 295.4h1M224.7 291.5h1M230.8 315.2h1M228.4 298.0h1M228.7 289.3h1M231.7 291.5h1M222.0 304.1h1M216.8 291.4h1M225.6 295.4h1M218.7 286.5h1M227.1 303.6h1M227.3 294.7h1M223.0 297.2h1M233.8 296.7h1M222.2 311.6h1M223.9 311.7h1M226.4 288.6h1M226.7 289.5h1M227.0 302.4h1M226.4 292.0h1M227.9 301.3h1M228.0 302.9h1M231.5 300.1h1M232.3 297.1h1M234.8 301.4h1M233.0 294.9h1M219.6 292.1h1M228.2 301.0h1M227.8 313.0h1M220.3 277.8h1M226.9 289.6h1M228.2 304.2h1M244.1 282.7h1M221.7 296.4h1M219.3 288.8h1M235.6 296.4h1M227.8 309.0h1M217.9 298.3h1M227.7 299.9h1M222.1 292.3h1M227.4 305.0h1M223.7 303.7h1M215.5 301.6h1M232.6 287.2h1M226.3 297.0h1M229.7 309.9h1M229.1 294.6h1M226.8 299.9h1M232.6 299.8h1M224.8 293.4h1M223.4 287.7h1M225.1 290.8h1M232.5 284.2h1M228.4 284.4h1M232.6 300.3h1M235.4 302.9h1M222.0 297.4h1M224.3 291.4h1M222.0 293.7h1M228.5 299.3h1M242.5 295.3h1M228.5 296.0h1M226.5 293.8h1M228.3 294.9h1M232.3 301.6h1M222.9 297.0h1M229.8 294.1h1M226.7 296.0h1M231.6 298.9h1M224.9 296.5h1M235.2 286.9h1M231.8 294.4h1M249.5 303.7h1M228.3 295.9h1M219.3 291.6h1M239.6 300.8h1M226.4 296.9h1M228.3 287.0h1M228.6 302.4h1M219.5 294.5h1M232.8 310.0h1M238.7 283.4h1M227.5 293.5h1M234.1 300.5h1M228.5 303.4h1M225.4 307.3h1M226.1 308.6h1M229.1 299.5h1M221.5 280.9h1M219.1 302.2h1M215.7 311.4h1M226.2 283.0h1M230.0 284.1h1M228.3 294.3h1M234.9 306.5h1M233.4 292.2h1M235.2 296.3h1M228.7 301.7h1M229.6 283.1h1M231.7 280.4h1M230.7 296.3h1M228.5 285.6h1M233.7 295.5h1M232.9 289.4h1M223.9 297.8h1M233.9 283.2h1M224.7 291.8h1M226.5 292.3h1M234.2 304.5h1M228.2 305.9h1M233.9 290.6h1M223.9 304.3h1M240.1 272.3h1M224.5 305.2h1M223.4 306.1h1M229.3 283.9h1M225.4 300.9h1M222.9 303.2h1M229.8 293.9h1M230.3 293.3h1M229.3 286.6h1M236.1 294.3h1M234.7 319.5h1M237.0 296.9h1M228.9 296.6h1M229.8 288.4h1M217.7 300.4h1M228.3 313.1h1M238.4 282.7h1M222.7 305.2h1M234.8 298.4h1M228.4 277.7h1M241.1 289.7h1M231.3 300.7h1M222.9 306.0h1M236.4 296.6h1M228.9 304.0h1M233.7 306.1h1M222.9 287.3h1M224.9 268.7h1M220.5 295.0h1M224.2 288.2h1M233.1 300.6h1M232.7 295.3h1M225.6 288.0h1M229.4 278.1h1M223.0 303.2h1M232.9 296.4h1M221.4 303.0h1M223.8 295.7h1M222.5 316.2h1M236.6 288.2h1M221.3 296.5h1M231.6 310.2h1M227.7 284.0h1M229.7 299.8h1M218.9 294.3h1M226.3 286.7h1M229.3 308.1h1M233.8 287.7h1M224.7 304.3h1M226.1 293.3h1M240.6 270.1h1M409.1 287.5h1M402.5 309.9h1M408.8 325.2h1M408.0 303.9h1M404.9 307.5h1M409.8 305.3h1M396.5 303.2h1M403.8 275.6h1M404.6 323.5h1M400.2 280.9h1M397.4 276.5h1M406.9 314.5h1M397.3 307.2h1M412.8 307.8h1M412.9 290.8h1M398.6 309.3h1M403.2 279.0h1M413.9 296.2h1M411.3 314.0h1M407.5 270.9h1M406.9 290.9h1M407.6 292.5h1M402.2 291.3h1M412.3 326.6h1M403.4 277.2h1M402.7 291.4h1M409.9 325.1h1M404.4 289.9h1M408.6 301.2h1M404.8 311.8h1M402.1 319.6h1M397.8 315.9h1M409.0 295.1h1M411.4 311.8h1M413.4 291.8h1M408.0 312.0h1M402.2 322.3h1M410.5 316.4h1M405.4 312.3h1M406.1 311.8h1M402.5 312.9h1M408.3 324.3h1M406.3 290.5h1M399.1 286.7h1M403.4 323.1h1M407.3 287.8h1M411.0 290.5h1M403.7 291.7h1M408.7 318.3h1M402.0 311.8h1M405.0 274.0h1M411.8 289.2h1M405.4 284.1h1M400.3 313.9h1M405.7 294.0h1M407.3 317.5h1M407.6 316.4h1M411.6 316.7h1M412.6 285.3h1M401.4 287.9h1M405.6 283.2h1M410.8 279.4h1M401.2 324.0h1M399.2 317.9h1M407.4 299.8h1M412.0 300.9h1M409.1 286.8h1M410.8 276.4h1M409.0 293.5h1M405.1 303.7h1M405.0 285.1h1M401.5 320.5h1M413.9 278.8h1M401.6 283.0h1M401.6 287.0h1M403.9 322.7h1M410.3 321.0h1M407.2 280.4h1M407.1 297.7h1M407.9 286.7h1M405.9 324.6h1M398.1 314.2h1M399.4 277.3h1M405.5 296.3h1M401.9 275.2h1M406.6 301.7h1M410.1 292.5h1M407.5 326.3h1M398.5 310.7h1M401.2 292.9h1M402.4 313.4h1M412.2 320.1h1M407.3 324.5h1M399.4 292.4h1M397.9 294.9h1M407.7 303.3h1M407.4 292.9h1M401.0 283.0h1M404.8 324.4h1M399.7 300.2h1M405.7 287.1h1M408.9 272.4h1M409.9 325.3h1M404.7 282.9h1M404.3 298.5h1M406.4 323.5h1M408.0 283.5h1M414.6 294.9h1M405.6 292.8h1M411.3 285.6h1M405.6 303.9h1M403.5 321.4h1M407.3 284.4h1M411.6 289.4h1M409.1 321.0h1M410.7 296.4h1M410.3 276.2h1M409.2 290.1h1M402.6 325.2h1M409.2 305.1h1M408.7 326.5h1M405.0 278.0h1M413.4 280.2h1M403.2 323.5h1M401.7 285.4h1M412.0 287.1h1M399.3 298.4h1M407.2 309.8h1M401.3 273.1h1M405.8 296.4h1M411.1 289.9h1M408.1 301.2h1M402.1 320.7h1M404.2 284.0h1M404.6 274.6h1M403.3 282.7h1M397.9 319.1h1M407.0 298.9h1M400.1 285.3h1M408.7 277.0h1M404.2 316.9h1M398.4 297.9h1M402.9 309.5h1M403.4 287.5h1M399.1 306.1h1M409.8 314.0h1M409.9 316.0h1M407.8 272.4h1M402.4 306.7h1M408.0 292.4h1M412.6 324.2h1M415.8 275.8h1M409.2 289.1h1M410.7 278.2h1M404.9 321.9h1M402.1 317.0h1M402.1 301.2h1M408.8 300.6h1M411.0 324.8h1M406.0 308.3h1M402.6 285.3h1M406.0 285.6h1M410.1 291.7h1M406.7 276.8h1M398.5 303.0h1M409.5 285.3h1M401.4 295.3h1M399.2 295.0h1M402.7 307.5h1M413.3 301.7h1M408.9 299.4h1M408.6 313.6h1M398.1 307.6h1M406.9 298.6h1M408.4 324.6h1M410.4 309.0h1M399.1 280.0h1M409.7 303.1h1M401.7 285.8h1M402.7 297.9h1M406.4 295.0h1M396.9 277.4h1M412.0 290.1h1M416.0 316.8h1M401.6 287.1h1M407.7 285.3h1M401.8 275.1h1M409.1 291.7h1M406.2 278.4h1M407.0 324.9h1M407.7 313.7h1M410.3 300.5h1M405.5 318.4h1M400.9 276.9h1M403.2 287.1h1M397.2 315.0h1M407.3 299.1h1M402.0 276.6h1M406.1 290.8h1M410.3 323.5h1M409.9 306.5h1M413.5 298.6h1M399.1 283.9h1M410.8 326.8h1M404.9 298.7h1M399.8 275.6h1M404.7 314.9h1M412.7 314.4h1M414.4 284.3h1M408.1 304.9h1M407.4 289.8h1M398.9 289.7h1M407.1 316.2h1M397.8 276.7h1M401.1 315.4h1M402.2 291.2h1M395.6 288.0h1M406.0 319.3h1M403.5 304.3h1M407.9 294.4h1M398.8 321.6h1M409.9 295.8h1M400.6 283.0h1M401.0 301.8h1M407.0 283.1h1M406.5 284.2h1M407.3 317.1h1M409.9 289.9h1M408.8 313.6h1M408.5 278.8h1M406.9 304.1h1M399.7 279.3h1M405.3 279.2h1M403.7 288.4h1M405.3 275.2h1M411.5 297.5h1M408.5 275.8h1M407.7 316.2h1M399.6 276.1h1M411.5 292.1h1M404.5 311.7h1M406.7 304.1h1M413.8 304.7h1M410.4 314.1h1M406.0 318.9h1M410.8 308.9h1M407.5 279.4h1M402.4 317.8h1M408.6 294.3h1M404.9 326.9h1M402.7 290.8h1M405.5 319.2h1M405.0 296.2h1M410.6 316.1h1M407.0 317.2h1M407.3 315.9h1M414.2 276.6h1M403.0 319.9h1M401.8 293.7h1M404.3 289.8h1M402.7 290.1h1M403.2 323.4h1M403.7 326.1h1M406.2 274.7h1M407.0 311.1h1M413.1 316.0h1M406.7 313.9h1M406.9 276.3h1M407.1 290.0h1M409.6 305.8h1M410.5 288.7h1M402.0 277.5h1M412.9 299.9h1M404.2 273.9h1M409.2 288.3h1M409.4 280.1h1M408.7 306.6h1M410.6 279.5h1M411.7 324.2h1M404.8 289.1h1M412.2 315.4h1M406.1 289.3h1M403.0 275.5h1M413.7 310.3h1M411.9 301.8h1M409.2 288.0h1M401.2 317.4h1M401.8 286.6h1M399.2 300.3h1M412.0 282.4h1M401.3 304.8h1M402.9 294.8h1M412.1 304.0h1M403.2 321.3h1M408.0 310.9h1M405.4 301.2h1M403.9 309.1h1M399.6 282.1h1M400.5 298.0h1M408.3 290.4h1M405.1 288.4h1M411.7 323.2h1M400.4 302.3h1M405.2 290.5h1M404.0 299.4h1M413.0 321.7h1M401.5 321.6h1M399.0 309.2h1M404.0 291.0h1M401.9 314.9h1M412.2 315.6h1M410.3 306.9h1M401.4 316.4h1M410.8 314.1h1M413.5 287.0h1M398.8 287.0h1M406.5 278.3h1M400.6 326.8h1M409.7 277.1h1M404.8 314.3h1M405.9 302.8h1M403.4 319.4h1M406.8 288.3h1M399.2 325.2h1M399.1 283.6h1M403.2 281.7h1M406.7 303.6h1M402.1 283.2h1M403.0 291.2h1M399.4 299.6h1M411.8 305.6h1M407.0 303.6h1M410.6 320.7h1M403.2 274.2h1M402.7 316.1h1M408.2 279.2h1M405.0 282.5h1M404.2 277.2h1M408.0 293.2h1M406.2 311.2h1M414.0 275.7h1M401.5 289.1h1M407.3 286.2h1M402.1 277.1h1M399.8 312.7h1M406.2 305.8h1M404.1 278.3h1M406.3 291.2h1M401.4 286.7h1M408.3 297.6h1M412.5 277.2h1M411.6 322.7h1M398.2 316.0h1M401.7 293.4h1M402.0 301.5h1M400.7 314.9h1M408.9 290.2h1M413.2 323.6h1M398.1 318.5h1M409.4 302.6h1M413.0 278.3h1M411.7 327.0h1M406.1 287.9h1M398.9 281.3h1M408.3 289.7h1M412.6 274.2h1M399.1 280.4h1M402.2 298.8h1M409.6 276.4h1M407.3 296.5h1M395.1 312.5h1M412.0 310.0h1M408.4 311.0h1M405.5 318.9h1M406.2 295.6h1M400.8 305.8h1M402.9 294.8h1M406.0 303.6h1M405.3 299.9h1M410.7 279.2h1M407.8 312.1h1M404.4 293.0h1M400.4 272.8h1M405.4 320.5h1M410.3 288.8h1M397.9 275.5h1M406.1 291.2h1M403.7 289.7h1M400.7 304.2h1M404.2 312.5h1M398.7 292.2h1M397.9 310.3h1M405.8 323.8h1M403.5 325.3h1M407.0 292.2h1M410.7 319.5h1M404.3 312.2h1M404.4 295.0h1M411.3 287.2h1M403.7 292.3h1M400.2 279.8h1M396.0 282.1h1M404.2 274.8h1M401.0 279.3h1M403.0 302.6h1M404.4 277.0h1M409.4 315.1h1M404.0 316.7h1M408.6 320.9h1M408.8 318.7h1M403.6 307.0h1M412.0 280.9h1M405.4 296.4h1M399.7 307.7h1M406.6 319.5h1M398.2 317.7h1M399.5 324.5h1M405.9 276.0h1M404.5 324.2h1M403.0 292.5h1M409.8 281.1h1M406.7 285.9h1M410.6 319.1h1M407.2 309.4h1M400.3 284.4h1M399.5 314.2h1M405.3 322.0h1M404.1 304.0h1M403.9 292.3h1M399.8 288.9h1M409.4 283.4h1M404.2 300.7h1M401.9 313.3h1M401.9 313.8h1M408.4 284.2h1M399.5 319.1h1M403.7 313.0h1M404.1 292.2h1M409.1 306.0h1M412.5 294.1h1M399.8 322.1h1M404.7 274.3h1M411.8 297.5h1M399.4 303.5h1M398.7 323.6h1M446.7 320.5h1M435.0 312.0h1M450.0 301.9h1M442.7 301.4h1M442.8 310.4h1M438.7 310.2h1M455.2 295.6h1M428.0 313.0h1M441.6 307.2h1M442.4 311.7h1M440.4 318.7h1M432.5 313.0h1M447.1 308.3h1M449.7 306.5h1M426.1 305.0h1M440.3 317.9h1M436.4 311.3h1M439.3 315.4h1M431.5 310.9h1M432.0 314.4h1M446.3 297.8h1M441.2 310.4h1M445.4 307.1h1M439.7 304.2h1M445.9 325.6h1M441.6 321.1h1M452.2 310.1h1M440.3 312.7h1M448.1 307.6h1M445.6 306.5h1M444.9 311.5h1M425.6 309.3h1M443.5 310.7h1M441.6 325.4h1M429.1 307.3h1M433.3 311.7h1M435.7 310.3h1M432.8 307.0h1M438.3 312.3h1M426.0 309.2h1M445.7 314.3h1M437.9 322.9h1M463.8 310.6h1M431.2 315.5h1M446.8 306.5h1M439.2 318.4h1M442.9 306.5h1M447.0 306.7h1M452.3 311.8h1M424.3 306.5h1M446.2 322.9h1M442.7 310.0h1M458.5 303.7h1M448.2 302.4h1M425.4 305.1h1M446.4 313.3h1M438.1 314.4h1M433.9 321.1h1M440.6 315.1h1M429.0 311.4h1M429.8 316.0h1M426.4 316.3h1M448.3 315.3h1M450.1 321.2h1M437.3 308.8h1M435.9 311.7h1M438.0 310.4h1M453.8 312.2h1M436.1 320.9h1M430.5 311.3h1M444.2 315.8h1M429.4 303.4h1M429.7 306.6h1M449.2 311.2h1M442.4 306.5h1M435.3 315.6h1M442.5 309.9h1M447.5 308.1h1M435.1 309.0h1M434.7 316.6h1M427.6 314.3h1M424.5 301.1h1M439.5 313.4h1M438.4 299.2h1M449.1 318.3h1M432.7 319.6h1M434.6 311.9h1M433.2 305.5h1M427.2 309.9h1M444.9 309.4h1M444.6 316.9h1M451.7 317.9h1M440.0 313.3h1M438.6 306.6h1M429.9 322.1h1M432.5 315.1h1M451.6 313.1h1M435.2 314.1h1M452.3 306.1h1M432.5 308.7h1M446.0 316.7h1M435.2 312.3h1M447.0 304.6h1M438.7 314.4h1M445.3 315.9h1M428.4 311.4h1M435.1 313.2h1M443.2 311.2h1M441.7 325.0h1M454.6 317.6h1M440.2 324.2h1M434.7 301.1h1M438.2 306.2h1M421.0 305.2h1M436.4 309.0h1M442.7 315.5h1M444.6 304.8h1M445.6 321.5h1M437.7 310.4h1M443.5 315.4h1M439.9 314.2h1M432.0 301.0h1M434.8 309.3h1M438.9 308.4h1M432.0 312.9h1M443.5 310.0h1M436.4 312.0h1M435.1 314.6h1M435.2 299.9h1M454.1 314.0h1M446.8 310.6h1M438.4 312.2h1M440.7 310.9h1M432.8 315.4h1M440.1 323.5h1M433.3 309.5h1M439.3 300.2h1M432.8 299.8h1M434.5 312.6h1M440.7 318.1h1M441.5 317.9h1M444.0 298.5h1M440.9 302.6h1M444.9 319.5h1M450.7 313.9h1M439.9 303.6h1M445.7 313.2h1M437.6 303.9h1M428.8 308.9h1M446.3 311.7h1M432.7 316.5h1M448.4 313.3h1M437.8 313.4h1M438.7 315.2h1M431.0 319.2h1M440.1 325.7h1M422.9 306.6h1M427.7 312.0h1M442.9 308.3h1M441.2 313.0h1M433.4 311.6h1M430.4 309.1h1M435.0 307.5h1M431.0 313.7h1M439.3 322.5h1M422.7 311.0h1M440.2 315.0h1M441.6 325.7h1M433.6 301.9h1M444.1 306.6h1M440.8 309.9h1M456.2 305.8h1M452.4 314.4h1M441.2 312.4h1M431.4 312.0h1M440.7 309.6h1M429.7 308.5h1M437.7 310.7h1M428.2 312.6h1M448.8 310.8h1M451.2 313.4h1M436.1 305.7h1M429.9 307.4h1M438.1 305.3h1M437.5 322.2h1M424.0 313.3h1M440.8 314.0h1M442.3 311.7h1M436.9 310.4h1M432.5 307.5h1M440.4 312.2h1M441.1 307.4h1M430.1 324.5h1M443.7 317.1h1M441.7 316.3h1M447.9 320.1h1M439.4 315.1h1M446.7 302.6h1M439.9 314.1h1M432.6 308.3h1M448.9 314.5h1M439.4 308.7h1M441.0 306.0h1M426.7 318.4h1M444.0 306.3h1M451.1 319.7h1M433.9 307.6h1M443.2 311.8h1M443.9 318.5h1M435.2 313.7h1M429.5 315.8h1M448.5 295.3h1M430.3 314.0h1M427.0 312.1h1M444.6 312.7h1M445.5 311.4h1M448.5 310.1h1M436.0 306.3h1M425.6 311.1h1M440.1 310.7h1M432.0 309.3h1M447.6 313.0h1M449.5 314.5h1M436.4 325.2h1M432.5 301.9h1M434.8 313.3h1M446.1 313.5h1M435.4 320.4h1M442.9 313.1h1M436.1 322.2h1M450.2 306.9h1M449.8 313.7h1M438.0 319.1h1M435.1 312.7h1M450.2 313.3h1M429.2 308.2h1M442.1 307.8h1M440.3 316.3h1M435.7 304.6h1M442.9 322.1h1M439.2 314.8h1M444.6 314.2h1M430.4 315.0h1M444.8 307.6h1M443.7 307.5h1M431.7 307.1h1M449.1 317.7h1M441.6 322.2h1M434.3 317.6h1M436.7 299.7h1M446.9 313.9h1M428.8 309.9h1M444.1 310.0h1M446.4 302.9h1M457.7 311.3h1M434.3 308.9h1M434.8 302.4h1M431.0 313.1h1M446.5 304.8h1M443.2 309.5h1M457.9 315.8h1M446.2 314.2h1M444.0 310.8h1M433.8 322.0h1M451.5 318.6h1M431.8 312.1h1M445.7 312.7h1M426.0 311.9h1M429.4 305.3h1M444.4 293.0h1M449.2 305.8h1M436.1 310.9h1M436.8 310.4h1M433.8 312.8h1M431.3 311.4h1M440.0 310.4h1M449.6 311.0h1M435.5 324.9h1M451.6 315.5h1M437.8 321.3h1M442.8 311.2h1M439.0 317.7h1M442.5 308.5h1M422.9 316.6h1M440.7 317.1h1M442.0 318.0h1M444.2 311.9h1M438.7 300.7h1M427.7 324.5h1M433.1 307.9h1M456.5 313.7h1M424.0 296.7h1M426.2 309.4h1M446.6 314.6h1M435.6 316.9h1M428.5 309.7h1M434.4 305.6h1M441.7 313.5h1M446.2 315.4h1M453.2 323.6h1M445.6 306.2h1M438.1 313.2h1M438.4 319.5h1M445.7 313.9h1M440.5 318.0h1M434.2 304.9h1M436.7 306.0h1M436.0 297.3h1M439.6 308.0h1M446.1 318.0h1M444.9 302.6h1M441.7 313.9h1M431.3 315.0h1M433.4 302.9h1M443.5 309.0h1M457.1 313.4h1M435.9 313.0h1M440.2 311.2h1M432.8 307.3h1M452.6 307.3h1M453.4 307.3h1M446.7 312.1h1M451.3 312.8h1M440.6 309.0h1M442.1 315.8h1M447.4 311.0h1M439.9 311.3h1M423.6 313.4h1M430.4 312.3h1M435.5 309.1h1M439.5 304.5h1M440.2 321.6h1M452.9 323.0h1M449.6 314.9h1M455.9 312.1h1M447.7 315.8h1M441.9 307.2h1M442.9 323.6h1M443.2 310.4h1M442.2 310.2h1M439.9 307.4h1M446.5 310.3h1M439.2 311.9h1M427.6 321.1h1M454.2 308.4h1M461.0 312.8h1M436.9 314.1h1M444.0 309.0h1M443.7 304.6h1M446.5 308.5h1M428.5 312.0h1M430.1 317.8h1M452.6 305.3h1M436.2 305.1h1M430.6 306.7h1M439.4 303.4h1M446.4 325.6h1M432.1 312.2h1M435.7 296.7h1M424.3 322.8h1M439.7 321.8h1M440.8 317.4h1M449.1 309.2h1M451.5 320.2h1M438.1 312.7h1M431.0 321.9h1M432.8 312.6h1M435.9 309.7h1M447.9 313.4h1M449.6 312.3h1M449.5 305.9h1M434.4 291.5h1M450.1 318.4h1M429.4 306.4h1M439.5 305.9h1M450.8 322.8h1M442.3 314.1h1M438.4 304.2h1M427.8 307.7h1M439.2 319.3h1M434.5 314.6h1M455.9 323.5h1M448.5 317.9h1M420.9 309.4h1M442.4 312.2h1M446.6 318.4h1M444.7 305.9h1M436.4 306.5h1M449.0 314.5h1M450.6 313.2h1M431.7 311.4h1M432.2 303.4h1M427.0 317.8h1M437.6 305.6h1M435.1 311.8h1M438.7 310.2h1M435.4 316.7h1M436.9 322.9h1M432.9 295.2h1M432.9 315.3h1M442.5 316.1h1M446.3 322.7h1M435.8 318.9h1M441.8 310.9h1M453.1 321.1h1M427.7 318.0h1M447.2 304.7h1M434.4 310.8h1M438.8 318.4h1M449.9 304.2h1M418.5 307.1h1M443.3 314.2h1M451.5 320.1h1M449.9 305.7h1M451.6 306.8h1M453.9 318.4h1M445.2 317.0h1M445.4 311.5h1M429.7 317.8h1M445.3 316.1h1M438.4 318.3h1M435.7 304.5h1M449.4 310.9h1M435.4 309.7h1M453.0 314.5h1M436.9 306.3h1M433.6 311.6h1M428.5 310.2h1M437.8 304.9h1M437.1 306.8h1M441.0 321.6h1M454.9 306.0h1M439.2 315.6h1M437.4 303.1h1M434.5 306.4h1M431.2 313.1h1M439.7 306.9h1M452.8 310.6h1M453.7 310.0h1M441.9 309.8h1M438.1 306.0h1M429.6 306.1h1M445.7 316.9h1M446.7 304.1h1M451.7 314.5h1M432.1 310.3h1M439.0 313.2h1M423.7 302.8h1M444.8 315.1h1M432.2 311.4h1M447.1 312.2h1M437.4 301.5h1M430.9 314.6h1M440.1 314.3h1M431.2 297.3h1M434.7 309.1h1M437.3 320.2h1M450.4 313.8h1M440.3 313.7h1M438.4 318.4h1M426.9 316.7h1M442.6 310.1h1M427.3 313.7h1M430.9 304.6h1M438.6 310.5h1M439.5 307.2h1M439.1 322.0h1M439.6 306.2h1M433.0 307.9h1M451.4 314.8h1M451.3 314.2h1M453.1 301.0h1M427.0 313.0h1M443.7 304.8h1M436.6 308.9h1M445.0 306.6h1M431.0 308.2h1M432.9 312.4h1M439.0 316.7h1M435.0 309.3h1M432.7 324.4h1M433.4 315.4h1M444.0 305.7h1M445.9 314.4h1M433.7 302.5h1M436.5 308.6h1M431.5 306.4h1M443.3 307.0h1M431.0 312.4h1M450.4 305.4h1M430.2 319.8h1M422.9 309.8h1M449.9 310.9h1M434.7 311.8h1M444.9 307.4h1M439.3 308.7h1M443.2 313.4h1M434.2 311.1h1M441.1 319.2h1M439.4 306.9h1M440.4 323.9h1M450.1 320.2h1M428.8 323.7h1M443.9 313.8h1M440.5 315.1h1M424.0 317.9h1M428.8 322.1h1M442.3 307.9h1M431.8 310.4h1M452.1 311.8h1M440.7 307.0h1M452.3 310.2h1M434.5 314.0h1M434.9 310.4h1M426.4 302.1h1M444.0 306.9h1M443.9 314.4h1M445.3 315.7h1M448.4 310.9h1M436.9 318.2h1M430.6 306.2h1M429.5 307.0h1M449.6 319.9h1M436.1 303.1h1M433.6 313.0h1M452.3 310.5h1M447.3 316.6h1M428.2 318.8h1M450.2 315.3h1M439.1 319.2h1M444.5 313.0h1M443.5 320.8h1M432.2 310.7h1M436.1 313.5h1M441.2 309.7h1M442.0 311.2h1M450.2 318.6h1M439.6 312.5h1M437.4 306.9h1M443.5 317.9h1M424.8 306.0h1M448.7 320.4h1M432.5 305.2h1M428.4 318.2h1M441.2 311.2h1M433.2 316.3h1M436.2 320.1h1M438.2 316.9h1M444.1 312.7h1M437.4 322.2h1M450.1 306.0h1M453.3 304.2h1M444.5 316.1h1M440.0 306.0h1M432.6 317.3h1M433.8 312.0h1M441.7 308.1h1M431.4 304.4h1M436.7 318.1h1M439.0 310.3h1M453.7 320.3h1M446.8 314.6h1M444.5 318.0h1M442.3 317.8h1M441.9 318.0h1M429.1 305.6h1M451.9 319.9h1M433.4 305.6h1M448.4 310.6h1M440.6 320.1h1M444.5 312.6h1M450.4 302.0h1M446.0 321.5h1M433.3 323.9h1M429.8 315.6h1M442.7 306.6h1M444.7 293.6h1M446.3 311.9h1M434.8 303.2h1M429.3 305.0h1M431.5 311.8h1M427.8 307.5h1M425.3 324.1h1M443.6 296.0h1M442.0 314.8h1M444.1 323.3h1M457.4 313.6h1M423.9 311.3h1M426.4 303.2h1M448.0 310.7h1M436.8 315.0h1M446.5 306.8h1M452.0 306.7h1M445.4 310.2h1M438.7 310.0h1" stroke="#000" stroke-opacity="0.55" stroke-width="1" fill="none"/><path d="M108.5 129.3h1M107.3 116.2h1M106.5 115.1h1M108.8 140.7h1M106.4 119.2h1M110.6 129.9h1M109.0 115.8h1M108.4 133.6h1M102.7 121.0h1M100.3 111.8h1M100.6 123.4h1M103.0 129.0h1M109.2 123.9h1M97.7 120.1h1M108.3 127.2h1M101.9 120.7h1M104.3 117.1h1M113.1 117.1h1M108.4 135.7h1M106.0 124.8h1M109.0 126.7h1M103.2 126.8h1M114.3 109.0h1M112.2 127.3h1M105.7 148.0h1M111.8 112.8h1M108.8 132.3h1M107.7 133.5h1M108.2 133.3h1M114.7 118.6h1M109.4 120.9h1M109.0 112.9h1M106.0 123.8h1M112.4 138.6h1M102.8 117.3h1M106.5 124.9h1M113.9 133.6h1M107.1 121.9h1M107.4 142.8h1M106.7 122.7h1M110.0 124.7h1M107.7 113.7h1M108.5 121.1h1M113.5 133.2h1M108.4 133.4h1M107.0 137.6h1M108.5 132.4h1M102.9 129.8h1M107.2 116.1h1M109.2 150.7h1M104.9 119.1h1M109.4 131.4h1M107.7 123.7h1M111.5 131.7h1M104.1 125.1h1M108.7 114.4h1M109.6 116.6h1M112.7 128.1h1M108.9 119.5h1M103.6 130.0h1M99.3 135.3h1M101.0 134.3h1M104.9 134.6h1M109.1 109.1h1M113.9 141.9h1M108.2 123.0h1M107.8 115.3h1M113.2 120.0h1M108.3 117.3h1M105.8 111.9h1M113.9 124.3h1M112.7 126.1h1M105.5 122.4h1M106.1 126.1h1M106.9 122.7h1M102.6 117.1h1M115.6 118.6h1M104.0 129.7h1M114.6 110.0h1M107.6 119.0h1M100.9 134.1h1M108.4 126.8h1M105.3 131.0h1M106.2 124.4h1M103.7 112.6h1M114.2 120.4h1M109.8 125.6h1M106.6 120.4h1M111.2 122.7h1M107.8 126.2h1M113.6 133.5h1M110.1 119.8h1M102.6 136.4h1M112.7 124.5h1M110.8 134.6h1M112.1 136.1h1M106.5 142.7h1M103.1 135.5h1M110.6 135.6h1M116.6 142.3h1M112.0 114.8h1M108.4 135.2h1M109.6 126.5h1M107.4 126.4h1M104.8 109.4h1M107.8 115.3h1M101.4 131.6h1M108.2 130.5h1M104.2 118.8h1M104.2 116.2h1M109.3 117.4h1M110.0 129.7h1M117.2 110.7h1M112.3 125.0h1M108.4 110.1h1M106.5 134.2h1M108.1 126.9h1M107.2 138.7h1M94.5 120.2h1M114.2 126.5h1M103.5 115.7h1M113.4 127.7h1M108.7 125.4h1M108.7 134.9h1M110.9 128.4h1M104.0 131.6h1M105.6 138.0h1M103.0 124.5h1M108.5 111.4h1M115.9 142.1h1M106.5 134.5h1M109.6 125.3h1M108.9 114.2h1M107.3 124.0h1M113.6 129.7h1M108.5 142.8h1M106.1 121.7h1M100.7 143.3h1M112.6 136.1h1M111.4 127.2h1M109.4 123.2h1M107.6 126.6h1M115.0 132.1h1M108.2 119.6h1M105.8 143.6h1M110.7 126.7h1M107.0 113.8h1M108.2 135.6h1M106.8 123.5h1M107.5 127.2h1M101.7 123.4h1M104.8 135.7h1M105.2 132.3h1M115.1 122.6h1M105.9 128.1h1M108.5 115.1h1M110.5 148.2h1M107.4 123.8h1M104.0 129.5h1M103.1 113.8h1M114.0 116.0h1M113.1 142.8h1M109.6 132.1h1M116.9 123.8h1M106.0 111.1h1M108.7 142.3h1M112.6 115.6h1M104.8 120.5h1M109.8 123.7h1M109.4 129.3h1M107.2 125.6h1M109.4 125.1h1M110.7 146.6h1M111.0 126.6h1M101.2 130.3h1M100.1 110.5h1M112.2 133.8h1M106.9 118.5h1M111.2 150.8h1M109.4 117.4h1M103.5 125.4h1M107.7 113.3h1M109.0 113.3h1M113.3 137.7h1M113.2 120.8h1M110.7 124.5h1M106.8 122.3h1M102.9 110.1h1M111.9 123.9h1M109.4 137.0h1M101.0 117.4h1M109.3 130.3h1M106.9 137.3h1M109.4 112.7h1M104.5 134.9h1M114.3 132.6h1M114.3 121.8h1M107.2 113.6h1M119.4 124.1h1M115.3 118.9h1M109.2 107.6h1M106.9 136.8h1M103.1 137.8h1M110.0 114.5h1M106.3 121.0h1M108.3 120.1h1M104.9 122.6h1M104.1 111.8h1M108.3 135.7h1M101.9 126.0h1M105.7 115.3h1M112.2 120.3h1M114.9 117.4h1M110.2 123.5h1M105.3 132.5h1M107.8 132.6h1M108.3 114.1h1M108.1 126.6h1M112.6 116.0h1M111.3 114.1h1M100.7 125.3h1M113.3 109.2h1M103.8 117.8h1M103.6 130.2h1M105.0 118.1h1M111.0 117.7h1M110.4 115.3h1M116.5 122.5h1M109.5 125.7h1M109.2 126.5h1M116.7 114.6h1M101.8 114.9h1M102.8 134.2h1M112.0 115.4h1M102.5 122.1h1M110.8 114.2h1M113.0 114.1h1M107.3 109.4h1M104.3 141.2h1M112.0 121.6h1M106.8 125.7h1M108.1 125.0h1M103.7 125.3h1M108.3 140.2h1M116.5 124.5h1M105.2 125.3h1M105.9 117.8h1M108.2 114.5h1M111.1 124.9h1M109.6 124.0h1M105.4 115.6h1M107.5 120.0h1M109.5 126.0h1M102.6 126.7h1M102.7 119.2h1M108.9 127.7h1M107.8 121.3h1M106.9 115.3h1M107.3 119.9h1M108.9 112.8h1M109.5 127.6h1M107.9 121.2h1M110.9 107.7h1M110.5 128.7h1M109.7 130.2h1M105.7 123.1h1M111.2 130.7h1M109.4 109.3h1M110.8 138.9h1M112.8 128.6h1M101.8 136.4h1M110.1 109.6h1M102.9 119.0h1M114.0 121.9h1M109.7 145.2h1M115.4 124.9h1M107.5 112.1h1M105.5 130.7h1M110.2 127.2h1M112.8 117.5h1M108.3 134.0h1M111.0 137.8h1M110.2 122.6h1M110.1 115.0h1M101.5 132.4h1M108.3 129.4h1M101.2 122.0h1M105.9 116.5h1M98.8 122.3h1M112.4 130.2h1M105.9 125.8h1M108.0 132.0h1M111.4 144.7h1M113.4 129.4h1M109.8 134.7h1M106.2 125.6h1M112.4 147.5h1M107.8 125.5h1M109.4 140.8h1M108.4 142.2h1M104.3 124.0h1M107.6 134.7h1M113.0 109.4h1M104.6 129.7h1M105.7 109.3h1M113.0 131.4h1M110.6 120.8h1M112.9 123.4h1M113.2 116.0h1M104.8 128.3h1M105.5 133.4h1M109.6 115.8h1M108.8 122.1h1M112.4 119.0h1M106.6 139.3h1M118.1 148.0h1M108.8 128.4h1M115.1 124.6h1M104.3 127.3h1M110.4 116.9h1M101.4 110.2h1M111.4 117.7h1M107.9 128.3h1M111.2 122.3h1M110.6 116.2h1M106.9 114.7h1M113.4 125.7h1M105.3 122.1h1M107.5 133.7h1M101.6 114.6h1M112.6 124.8h1M111.6 148.6h1M107.5 122.0h1M113.7 131.4h1M111.4 120.4h1M116.8 144.8h1M110.9 133.5h1M99.8 133.0h1M107.7 130.8h1M111.4 122.2h1M101.2 130.0h1M105.3 122.4h1M105.9 122.2h1M98.6 139.4h1M109.6 138.2h1M117.0 126.2h1M100.7 116.2h1M103.3 120.5h1M110.0 109.4h1M109.8 124.8h1M107.2 125.2h1M106.2 119.3h1M101.3 125.7h1M116.4 147.8h1M114.2 133.8h1M105.6 141.9h1M108.3 125.2h1M107.2 127.0h1M106.6 125.1h1M103.8 121.9h1M118.3 125.2h1M107.5 131.9h1M111.5 113.7h1M107.6 136.1h1M109.7 127.3h1M115.2 118.5h1M108.9 120.3h1M105.6 120.2h1M111.4 132.7h1M114.5 108.7h1M111.7 122.8h1M105.6 131.9h1M106.9 109.5h1M105.7 130.1h1M109.8 143.5h1M107.6 109.1h1M105.2 115.9h1M103.3 130.8h1M111.5 124.8h1M110.0 127.2h1M111.2 126.4h1M113.8 130.7h1M110.2 130.5h1M102.2 124.2h1M107.4 128.3h1M102.7 144.0h1M108.9 112.7h1M101.2 122.9h1M108.1 118.1h1M108.9 118.9h1M110.9 118.0h1M108.3 136.8h1M119.6 114.9h1M106.5 116.8h1M111.9 113.4h1M106.4 125.7h1M104.3 115.5h1M102.3 121.5h1M109.1 124.0h1M100.9 120.9h1M111.9 132.1h1M108.2 116.2h1M111.2 119.6h1M103.5 117.2h1M114.7 128.4h1M113.5 120.7h1M112.5 119.4h1M111.8 120.5h1M108.1 129.6h1M113.7 120.6h1M101.0 122.9h1M108.6 127.2h1M114.2 129.5h1M112.0 113.9h1M112.2 149.1h1M111.8 128.8h1M109.2 145.7h1M104.5 124.8h1M110.5 134.2h1M106.6 129.4h1M107.3 127.3h1M107.9 113.4h1M108.4 135.6h1M104.3 123.3h1M111.4 114.2h1M109.3 114.3h1M113.4 151.4h1M117.2 123.6h1M111.7 127.3h1M108.9 143.0h1M102.8 137.6h1M108.3 141.5h1M109.3 118.6h1M109.7 134.1h1M108.7 131.4h1M112.4 133.7h1M109.1 126.8h1M113.0 121.0h1M105.5 123.9h1M113.6 110.7h1M113.6 119.0h1M103.8 139.9h1M108.1 111.7h1M107.0 136.2h1M113.6 121.3h1M110.2 133.9h1M105.7 129.9h1M108.4 120.1h1M106.4 126.7h1M108.6 119.8h1M106.7 138.2h1M109.4 135.7h1M113.7 132.5h1M118.3 116.9h1M112.0 122.5h1M116.5 144.7h1M100.1 115.3h1M111.4 134.7h1M111.7 125.2h1M110.5 133.2h1M108.2 137.3h1M98.8 133.0h1M104.1 136.5h1M107.5 116.2h1M110.1 116.0h1M104.6 108.8h1M108.4 131.5h1M112.9 124.4h1M113.0 126.2h1M108.1 132.3h1M113.1 122.2h1M107.5 124.2h1M108.9 116.1h1M112.9 121.6h1M110.5 116.9h1M110.0 130.3h1M106.7 148.2h1M110.1 145.5h1M112.6 118.7h1M106.9 130.8h1M108.8 126.5h1M110.1 118.0h1M105.4 123.6h1M109.7 110.2h1M101.0 114.3h1M99.7 115.4h1M115.3 114.4h1M111.3 110.9h1M109.8 122.5h1M108.2 132.3h1M116.1 128.1h1M109.0 115.3h1M111.0 123.3h1M112.1 125.5h1M107.2 135.7h1M107.0 117.3h1M107.4 110.8h1M113.4 113.8h1M104.7 121.5h1M112.8 117.0h1M105.5 135.7h1M112.2 121.9h1M103.7 109.0h1M111.7 119.1h1M110.6 146.6h1M113.5 113.3h1M112.2 138.7h1M105.3 115.5h1M108.0 108.4h1M103.7 123.0h1M107.5 127.8h1M109.7 123.7h1M108.5 118.1h1M109.1 128.4h1M104.6 118.9h1M111.9 129.8h1M105.6 148.4h1M118.4 109.9h1M111.9 128.4h1M107.6 120.0h1M107.6 119.9h1M111.7 121.6h1M106.6 112.8h1M108.3 116.2h1M107.7 137.5h1M110.1 131.6h1M110.0 126.7h1M108.0 122.6h1M111.8 114.1h1M114.3 126.4h1M105.3 120.6h1M105.6 127.8h1M105.4 138.6h1M108.3 137.7h1M111.3 111.3h1M105.2 145.6h1M109.9 126.0h1M114.1 127.5h1M110.0 132.8h1M105.9 114.4h1M108.7 115.6h1M108.2 127.1h1M118.6 116.6h1M108.0 124.2h1M110.4 137.5h1M106.4 117.0h1M101.4 115.8h1M110.8 126.5h1M104.1 121.9h1M108.6 131.5h1M105.9 123.2h1M100.7 113.3h1M107.0 128.4h1M106.9 117.1h1M108.2 125.9h1M107.9 116.6h1M106.1 128.5h1M111.3 135.9h1M106.4 136.2h1M113.5 138.5h1M114.5 124.4h1M107.8 135.1h1M102.6 128.3h1M106.2 121.9h1M101.0 116.2h1M108.4 135.8h1M112.8 125.1h1M107.7 116.9h1M110.2 123.3h1M111.1 145.3h1M108.4 109.5h1M104.8 110.0h1M103.4 140.4h1M109.5 109.3h1M111.3 139.9h1M107.0 118.6h1M107.0 129.1h1M111.3 139.0h1M113.7 139.0h1M114.4 133.3h1M101.9 124.6h1M109.8 121.8h1M112.4 122.0h1M104.5 141.9h1M111.4 128.4h1M112.5 137.7h1M105.6 121.0h1M104.3 128.2h1M113.6 120.7h1M103.6 148.3h1M106.6 112.4h1M109.5 130.7h1M105.5 134.7h1M106.4 115.8h1M109.3 134.5h1M105.8 129.6h1M105.5 141.2h1M108.3 124.6h1M111.6 135.8h1M113.9 129.6h1M105.9 120.1h1M110.7 132.4h1M114.5 130.6h1M113.1 142.7h1M109.2 109.7h1M103.4 110.2h1M115.3 116.7h1M113.8 132.4h1M115.9 137.0h1M108.1 123.8h1M225.1 313.6h1M227.8 316.3h1M223.9 326.6h1M234.7 313.0h1M232.3 319.0h1M233.5 315.3h1M241.7 319.3h1M240.9 316.3h1M237.0 318.3h1M238.9 317.9h1M222.5 313.0h1M225.1 322.3h1M231.2 319.6h1M222.9 324.5h1M242.8 315.5h1M225.5 321.2h1M230.3 316.0h1M234.4 314.5h1M218.7 312.9h1M230.0 314.6h1M223.9 322.9h1M227.3 316.9h1M230.2 326.9h1M230.8 322.8h1M221.6 312.8h1M238.2 312.9h1M226.2 322.0h1M229.4 323.9h1M226.0 309.9h1M232.7 325.9h1M219.8 308.7h1M226.3 308.7h1M231.6 312.6h1M233.4 317.1h1M229.8 322.6h1M227.8 313.4h1M234.5 310.9h1M237.4 315.6h1M225.8 321.2h1M231.5 321.8h1M220.2 314.2h1M231.1 321.0h1M228.4 326.1h1M227.9 324.2h1M235.5 320.9h1M227.9 323.1h1M231.7 322.4h1M223.8 321.6h1M238.6 317.5h1M229.9 317.7h1M234.3 307.7h1M238.6 321.8h1M227.7 320.5h1M235.8 321.1h1M233.1 325.6h1M230.1 323.1h1M237.9 322.1h1M225.4 323.3h1M241.3 317.3h1M231.8 321.4h1M234.4 316.8h1M233.2 315.7h1M233.8 319.4h1M238.3 310.3h1M229.7 324.5h1M221.5 315.0h1M231.9 319.3h1M227.3 320.8h1M220.8 314.5h1M239.4 315.6h1M231.7 318.8h1M234.2 320.9h1M231.5 325.5h1M231.0 309.8h1M225.2 326.9h1M235.4 317.8h1M219.7 315.2h1M241.5 325.6h1M236.4 310.3h1M221.1 315.9h1M221.1 319.7h1M222.6 321.7h1M227.8 316.0h1M233.0 321.5h1M229.9 317.1h1M228.8 308.6h1M217.5 315.4h1M231.4 313.7h1M226.2 312.2h1M228.8 318.6h1M228.9 320.5h1M235.2 322.8h1M222.2 323.7h1M223.1 321.1h1M228.5 318.6h1M227.5 323.7h1M230.9 317.6h1M225.9 318.6h1M230.1 309.9h1M239.3 311.3h1M231.5 312.4h1M229.9 323.6h1M232.2 314.5h1M225.3 324.2h1M228.8 319.8h1M234.7 305.5h1M230.7 326.0h1M239.7 322.8h1M224.8 324.4h1M240.2 315.7h1M224.9 318.3h1M226.7 308.1h1M215.2 312.1h1M225.4 321.5h1M226.0 320.1h1M234.3 313.9h1M235.0 319.1h1M231.2 324.3h1M233.7 312.0h1M222.4 320.6h1M232.7 317.1h1M226.3 315.3h1M221.5 312.1h1M225.9 319.6h1M224.6 319.2h1M227.5 317.9h1M226.5 320.7h1M229.2 304.8h1M230.7 319.7h1M225.5 320.0h1M225.0 319.7h1M223.9 322.8h1M231.1 311.3h1M225.0 322.9h1M231.5 319.8h1M222.4 315.4h1M230.0 320.7h1M229.0 314.6h1M227.7 316.4h1M222.2 313.1h1M224.3 311.0h1M231.8 323.2h1M234.3 314.9h1M224.6 320.4h1M226.3 317.4h1M227.2 310.4h1M236.5 311.3h1M219.8 323.4h1M222.6 324.8h1M231.0 320.9h1M226.8 311.4h1M222.1 319.6h1M228.4 312.5h1M222.3 314.4h1M228.6 321.4h1M234.3 317.0h1M237.4 322.9h1M237.6 314.3h1M232.4 324.8h1M218.7 323.9h1M231.4 323.9h1M230.0 325.1h1M226.5 316.2h1M233.2 322.9h1M221.2 325.4h1M235.9 324.5h1M224.8 325.7h1M232.0 324.0h1M228.7 316.7h1M224.9 315.7h1M234.2 314.9h1M225.4 320.8h1M227.5 308.1h1M225.2 317.1h1M238.4 322.6h1M223.2 313.1h1M226.4 320.2h1M224.5 321.3h1M220.8 320.8h1M235.9 304.8h1M228.8 320.4h1M231.6 319.5h1M228.6 320.5h1M229.6 319.5h1M238.2 324.5h1M234.4 315.6h1M226.2 324.6h1M222.9 324.4h1M236.2 316.1h1M226.3 308.1h1M228.7 325.3h1M232.5 317.6h1M240.9 321.9h1M231.4 317.4h1M231.6 310.1h1M235.9 316.3h1M231.0 311.2h1M232.7 314.3h1M225.9 316.0h1M237.6 317.5h1M227.3 316.6h1M230.0 319.0h1M226.5 314.2h1M234.5 314.9h1M226.0 310.0h1M222.6 316.2h1M226.1 310.9h1M225.4 318.2h1M213.8 322.1h1M227.4 311.8h1M227.4 321.3h1M228.9 319.2h1M229.0 322.4h1M221.0 315.8h1M231.2 319.1h1M222.8 317.4h1M224.9 319.0h1M219.3 310.3h1M220.5 318.2h1M243.2 324.1h1M236.0 319.0h1M238.1 320.8h1M229.3 324.7h1M221.8 307.2h1M222.0 326.4h1M234.1 319.9h1M227.5 318.0h1M231.1 314.3h1M233.4 313.7h1M236.7 317.1h1M223.5 317.4h1M223.5 318.2h1M218.4 316.3h1M229.3 320.9h1M226.6 325.3h1M219.0 317.7h1M226.0 318.8h1M227.3 326.2h1M228.8 313.9h1M243.4 319.1h1M227.9 323.6h1M225.4 317.7h1M233.9 312.5h1M226.2 323.9h1M239.3 318.4h1M228.2 324.7h1M220.2 315.1h1M224.2 307.9h1M234.1 322.4h1M236.2 304.2h1M228.0 326.0h1M223.8 311.9h1M230.9 318.9h1M232.6 318.8h1M236.1 322.6h1M230.3 316.8h1M233.0 315.3h1M234.5 325.0h1M234.4 312.0h1M231.4 320.9h1M234.0 310.5h1M225.4 318.5h1M237.0 315.7h1M234.1 319.7h1M240.2 320.6h1M219.4 317.4h1M230.4 325.7h1M232.8 317.4h1M221.5 319.1h1M228.2 326.1h1M234.3 311.4h1M215.3 316.7h1M230.5 313.7h1M225.9 325.3h1M233.2 309.6h1M230.9 319.8h1M227.7 322.0h1M230.3 315.0h1M226.0 322.8h1M240.3 322.2h1M232.1 320.4h1M226.3 319.3h1M221.8 323.0h1M231.7 319.9h1M223.9 317.5h1M225.6 320.6h1M227.3 320.9h1M234.4 325.8h1M222.9 317.2h1M222.5 325.7h1M224.0 326.2h1M226.0 324.5h1M225.8 317.8h1M229.7 319.5h1M228.1 322.6h1M236.0 323.6h1M226.1 309.0h1M229.6 303.7h1M232.9 322.3h1M221.8 322.1h1M225.1 325.8h1M224.5 314.5h1M225.1 320.3h1M227.3 317.3h1M224.8 314.9h1M231.6 325.4h1M229.6 314.2h1M230.2 314.7h1M213.2 319.7h1M218.7 315.6h1M229.3 316.8h1M230.2 320.2h1M239.4 315.6h1M230.9 319.7h1M230.7 322.2h1M229.7 323.3h1M224.0 321.7h1M222.9 324.8h1M234.7 317.9h1M226.0 318.8h1M232.2 310.8h1M223.1 324.0h1M227.7 312.0h1M215.9 316.6h1M218.7 319.6h1M221.6 322.3h1M221.9 313.4h1M227.7 314.3h1M239.5 318.6h1M224.2 316.8h1M227.6 314.7h1M232.3 325.2h1M221.3 316.2h1M226.6 311.3h1M221.1 316.8h1M223.5 320.4h1M233.5 319.7h1M230.4 313.8h1M225.2 320.8h1M232.0 318.3h1M231.9 317.4h1M221.9 320.4h1M226.2 309.6h1M233.6 320.8h1M232.9 316.2h1M237.3 321.3h1M234.4 315.2h1M226.9 325.5h1M228.5 318.8h1M237.3 324.9h1M220.1 318.4h1M225.5 326.5h1M237.8 316.2h1M229.6 323.7h1M231.7 320.2h1M229.4 312.9h1M228.1 318.6h1M226.6 322.5h1M233.0 323.6h1M231.5 320.2h1M222.9 317.0h1M223.8 320.5h1M228.1 318.6h1M231.8 317.3h1M234.9 324.3h1M223.4 325.7h1M226.8 315.0h1M227.0 312.1h1M230.7 325.1h1M220.1 321.0h1M232.1 322.3h1M232.5 321.1h1M226.1 323.5h1M230.7 323.0h1M230.6 317.4h1M228.5 322.0h1M234.7 308.8h1M221.5 310.3h1M225.7 315.3h1M229.9 317.2h1M236.4 315.6h1M224.7 314.5h1M227.1 319.6h1M226.0 313.9h1M221.0 319.7h1M225.6 313.6h1M227.2 320.5h1M223.7 316.4h1M217.6 308.5h1M218.2 323.5h1M227.9 311.1h1M224.9 316.1h1M224.9 326.4h1M217.7 316.3h1M230.1 321.2h1M216.3 319.7h1M221.5 315.7h1M219.6 322.8h1M246.5 324.0h1M227.0 309.5h1M233.7 325.0h1M222.4 323.7h1M218.5 312.0h1M229.5 311.4h1M233.0 326.2h1M229.1 321.3h1M237.9 321.5h1M236.2 326.3h1M235.6 319.7h1M233.6 320.5h1M230.2 313.7h1M226.6 317.2h1M235.1 321.4h1M231.2 318.3h1M236.1 306.1h1M223.7 323.9h1M226.6 322.3h1M238.0 323.1h1M220.5 317.8h1M222.4 321.4h1M234.9 317.7h1M231.9 317.9h1M239.9 319.7h1M230.3 321.9h1M235.0 322.6h1M228.8 319.3h1M231.9 322.1h1M226.8 316.0h1M227.6 321.4h1M226.4 313.3h1M227.1 316.4h1M232.4 316.3h1M231.5 314.2h1M235.9 317.1h1M224.4 322.4h1M221.0 318.7h1M232.2 322.9h1M226.0 316.4h1M228.5 325.3h1M218.8 323.3h1M230.7 326.2h1M222.6 325.0h1M224.1 320.6h1M226.8 306.2h1M228.7 321.1h1M233.9 315.7h1M222.4 322.7h1M227.0 324.5h1M237.1 317.8h1M228.1 315.3h1M217.5 319.0h1M233.2 324.6h1M226.1 318.9h1M226.0 316.8h1M227.5 315.5h1M226.7 320.5h1M229.7 313.6h1M232.0 314.8h1M231.7 319.4h1M218.1 313.7h1M234.5 315.7h1M225.3 316.8h1M229.7 322.1h1M225.8 316.7h1M228.0 320.0h1M227.2 318.2h1M232.7 318.5h1M234.0 313.5h1M234.0 307.7h1M232.1 322.6h1M243.3 314.3h1M233.1 322.5h1M223.7 320.4h1M224.2 313.0h1M220.4 317.9h1M223.0 308.2h1M230.7 310.0h1M233.0 320.3h1M224.3 310.7h1M223.8 311.9h1M226.8 317.1h1M243.3 308.0h1M225.6 322.0h1M235.0 326.1h1M223.3 323.3h1M234.0 322.8h1M220.8 314.6h1M216.5 315.0h1M221.0 320.5h1M224.6 322.2h1M228.3 317.2h1M239.2 325.2h1M221.3 326.4h1M233.4 326.1h1M231.6 309.4h1M226.8 306.0h1M220.8 315.3h1M236.4 319.2h1M230.2 322.9h1M223.7 324.9h1M230.3 313.8h1M225.6 317.7h1M232.5 326.6h1M227.2 317.8h1M239.5 320.0h1M226.9 322.6h1M230.7 314.7h1M224.0 314.7h1M226.0 312.2h1M233.7 311.2h1M232.9 321.1h1M233.3 311.0h1M229.8 320.4h1M234.2 321.0h1M225.5 325.1h1M237.1 326.3h1M224.6 321.8h1M223.6 318.1h1M233.4 311.2h1M245.3 325.6h1M224.4 315.9h1M228.5 318.2h1M221.8 318.2h1M219.9 315.6h1M239.5 318.6h1M230.9 322.4h1M225.6 324.9h1M227.0 323.7h1M234.9 318.9h1M222.7 317.3h1M226.3 306.5h1M231.2 323.4h1M223.5 322.9h1M221.1 320.3h1M228.0 320.7h1M231.5 315.3h1M233.8 316.2h1M229.7 326.7h1M223.5 319.4h1M238.5 325.8h1M224.9 315.6h1M232.2 315.4h1M229.4 311.5h1M232.7 310.2h1M229.8 322.8h1M225.0 310.4h1M221.4 308.5h1M239.6 308.4h1M221.3 320.8h1M229.3 324.6h1M236.8 321.4h1M228.6 315.9h1M227.9 324.1h1M232.6 322.4h1M218.9 314.8h1M224.9 316.0h1M222.6 322.7h1M225.8 318.4h1M229.5 318.9h1M223.9 323.4h1M216.9 316.3h1M217.6 322.4h1M220.6 312.6h1M228.9 313.2h1M230.5 316.8h1M240.7 312.3h1M224.1 322.1h1M229.7 321.4h1M227.2 324.2h1M231.1 326.2h1M220.8 320.4h1M227.6 321.2h1M223.3 323.4h1M221.0 323.9h1M232.3 309.1h1M231.4 308.3h1M232.4 310.2h1M228.6 317.5h1M219.2 308.8h1M232.0 316.3h1M235.5 318.7h1M245.5 320.0h1M239.6 320.9h1M229.5 322.0h1M224.5 315.5h1M239.0 318.0h1M222.1 321.9h1M224.0 319.5h1M235.9 326.2h1M240.0 325.6h1M233.1 322.1h1M230.9 318.9h1M242.8 318.7h1M239.2 318.5h1M236.5 303.5h1M230.1 315.7h1M225.5 318.8h1M234.9 320.9h1M229.9 324.7h1M232.1 303.4h1M223.9 318.9h1M243.1 319.4h1M220.4 327.0h1M231.9 319.4h1M235.8 317.4h1M228.9 325.1h1M232.2 324.9h1M221.1 312.0h1M232.7 317.9h1M230.9 319.8h1M228.8 313.8h1M231.5 326.9h1M239.2 315.0h1M234.6 313.6h1M229.0 313.7h1M226.5 309.5h1M228.8 313.9h1M224.4 308.8h1M227.6 318.9h1M222.9 317.1h1M224.6 311.1h1M224.4 316.8h1M231.6 317.8h1M231.4 326.8h1M235.2 317.3h1M219.1 318.6h1M230.2 325.1h1M227.7 323.2h1M224.1 314.0h1M227.8 320.7h1M233.7 302.2h1M237.7 324.2h1M228.8 322.6h1M237.3 314.2h1M233.6 322.3h1M225.4 314.1h1M229.2 316.0h1M237.6 310.3h1M221.6 321.2h1M234.0 312.9h1M237.3 308.9h1M235.6 314.5h1M229.1 315.8h1M229.8 315.1h1M230.6 312.5h1M225.3 316.2h1M233.2 316.7h1M232.2 325.7h1M238.8 310.0h1M229.0 313.0h1M233.2 320.7h1M229.3 316.4h1M223.5 310.0h1M235.1 318.2h1M229.5 321.1h1M228.2 322.9h1M219.5 317.1h1M225.1 315.8h1M236.2 319.9h1M229.7 319.7h1M228.0 318.1h1M225.4 316.3h1M226.7 318.3h1M218.1 319.6h1M229.1 321.6h1M222.6 314.2h1M234.1 315.3h1M232.2 315.6h1M222.1 311.3h1M225.7 316.7h1M229.4 314.4h1M238.2 323.8h1M224.8 313.7h1M228.2 323.2h1M220.9 325.5h1M227.0 323.8h1M228.5 321.9h1M233.1 326.3h1M221.8 321.0h1M233.4 319.4h1M234.6 310.5h1M229.1 324.7h1M229.4 313.3h1M230.3 320.4h1M223.5 326.5h1M226.2 313.8h1M230.0 315.8h1M228.2 320.6h1M226.9 322.6h1M231.1 325.9h1M223.5 319.7h1M230.9 320.9h1M216.9 313.6h1M231.3 322.5h1M229.6 320.4h1M236.6 317.5h1M403.0 286.0h1M408.0 296.6h1M406.9 282.7h1M403.7 287.9h1M405.9 296.1h1M400.7 306.5h1M408.0 298.7h1M397.4 298.9h1M405.8 292.7h1M405.3 274.6h1M412.3 277.8h1M408.2 294.8h1M417.8 292.1h1M412.4 285.9h1M399.9 294.1h1M411.6 284.6h1M409.4 297.6h1M405.2 292.9h1M406.6 283.5h1M405.6 295.5h1M408.9 282.9h1M408.7 280.8h1M407.3 288.0h1M404.0 289.8h1M409.9 302.8h1M408.5 271.6h1M409.1 290.9h1M413.2 285.8h1M403.5 301.9h1M396.2 285.1h1M400.9 292.9h1M405.2 310.0h1M411.0 275.3h1M408.5 295.4h1M407.0 277.3h1M411.9 311.8h1M407.6 281.2h1M401.4 277.1h1M410.7 289.0h1M406.2 299.7h1M415.4 300.2h1M404.3 295.0h1M406.0 291.2h1M406.9 279.1h1M408.2 275.0h1M410.9 286.8h1M399.5 298.0h1M408.4 292.2h1M400.0 274.9h1M405.5 317.4h1M406.3 294.3h1M409.0 280.9h1M411.1 283.9h1M406.5 281.3h1M400.8 281.3h1M401.7 285.7h1M412.1 294.9h1M402.5 295.4h1M401.7 303.8h1M409.4 287.0h1M405.2 291.7h1M402.1 277.0h1M405.8 280.3h1M404.5 300.8h1M403.9 297.7h1M413.8 286.6h1M412.8 281.9h1M400.2 292.6h1M406.3 273.8h1M410.4 301.5h1M401.3 288.3h1M406.4 276.5h1M408.3 275.3h1M396.3 307.2h1M403.5 281.9h1M405.2 282.5h1M414.6 297.2h1M408.3 301.7h1M408.8 293.4h1M404.7 304.7h1M406.8 289.2h1M408.2 293.0h1M408.1 295.9h1M395.4 298.3h1M406.2 281.7h1M409.8 290.9h1M411.8 304.3h1M399.7 299.7h1M405.5 290.7h1M403.8 302.9h1M401.4 295.8h1M398.3 294.2h1M401.1 275.6h1M406.5 277.8h1M411.6 278.5h1M411.9 301.3h1M405.3 298.5h1M404.0 318.8h1M408.4 284.3h1M407.6 287.2h1M405.8 284.1h1M402.2 300.7h1M404.5 300.0h1M404.2 289.9h1M402.1 306.0h1M413.0 290.7h1M411.0 274.5h1M399.1 299.2h1M394.8 323.2h1M408.3 311.9h1M406.5 275.2h1M402.4 280.5h1M410.4 279.3h1M400.3 309.3h1M400.7 283.2h1M409.1 321.3h1M402.2 293.4h1M405.9 284.6h1M398.8 300.7h1M403.9 283.3h1M404.2 308.5h1M403.7 322.0h1M403.5 298.4h1M396.5 282.7h1M406.2 283.0h1M402.6 284.4h1M401.7 284.5h1M405.6 295.8h1M400.9 288.4h1M401.0 301.9h1M413.3 294.4h1M407.8 288.4h1M408.1 289.1h1M398.5 305.7h1M415.2 299.8h1M405.1 297.1h1M413.8 286.6h1M408.8 293.9h1M396.1 286.4h1M407.9 296.0h1M406.4 276.6h1M406.6 293.8h1M406.3 313.2h1M404.7 304.8h1M405.0 324.9h1M405.2 323.6h1M402.4 276.8h1M408.1 290.3h1M410.9 302.1h1M410.4 282.9h1M404.7 302.1h1M403.2 292.0h1M411.4 292.1h1M405.6 306.8h1M409.4 274.8h1M406.4 292.5h1M405.0 319.7h1M410.9 294.4h1M401.9 302.1h1M405.3 308.0h1M406.3 304.3h1M402.3 289.8h1M406.9 282.4h1M408.0 287.8h1M404.9 283.7h1M407.1 272.5h1M409.5 297.4h1M407.1 307.4h1M407.4 288.6h1M412.3 288.0h1M403.3 291.5h1M408.2 298.5h1M410.8 285.6h1M403.0 294.1h1M402.5 286.7h1M398.0 295.9h1M401.6 300.3h1M404.5 278.9h1M408.7 288.6h1M408.0 283.5h1M402.3 287.1h1M402.2 288.8h1M400.6 295.0h1M408.7 297.2h1M398.5 305.4h1M397.4 293.0h1M405.2 300.4h1M403.0 284.9h1M409.7 305.2h1M401.2 287.4h1M411.4 283.8h1M405.6 294.2h1M398.7 301.5h1M404.0 273.5h1M406.9 293.3h1M403.1 290.3h1M412.6 300.2h1M406.0 286.9h1M414.4 286.7h1M395.3 305.0h1M400.6 274.4h1M396.3 281.2h1M401.1 310.4h1M405.8 284.1h1M404.6 293.4h1M408.7 307.2h1M398.1 272.7h1M403.4 314.0h1M402.1 303.9h1M403.6 284.2h1M402.9 307.6h1M403.3 291.8h1M406.1 302.3h1M404.9 301.9h1M412.5 301.4h1M404.0 289.5h1M407.1 288.2h1M401.4 279.6h1M418.0 302.7h1M403.8 282.1h1M412.7 274.9h1M399.8 303.3h1M404.4 300.6h1M406.1 291.3h1M402.1 296.8h1M406.4 294.2h1M402.4 305.5h1M405.3 298.6h1M409.6 283.8h1M401.3 295.4h1M412.0 288.6h1M403.8 296.5h1M408.0 292.3h1M396.5 299.8h1M399.9 316.0h1M402.2 293.7h1M405.1 293.7h1M417.4 289.3h1M410.3 291.9h1M403.2 300.4h1M407.4 289.4h1M400.7 296.1h1M421.4 291.2h1M409.1 284.7h1M423.1 275.7h1M408.6 293.6h1M407.6 291.5h1M411.4 308.6h1M401.3 292.4h1M412.6 296.2h1M414.2 278.1h1M403.2 278.6h1M403.6 281.9h1M396.2 306.3h1M409.0 281.7h1M394.9 304.5h1M396.3 277.1h1M400.5 281.9h1M406.8 301.8h1M408.2 277.4h1M410.3 306.1h1M406.7 320.1h1M401.5 281.6h1M402.6 283.4h1M408.3 294.0h1M402.5 304.9h1M405.8 284.4h1M404.0 275.2h1M405.4 280.6h1M404.6 295.5h1M408.1 285.8h1M415.5 277.9h1M408.7 291.6h1M407.5 283.0h1M401.2 298.3h1M397.4 291.9h1M406.4 284.1h1M406.1 292.3h1M406.8 285.3h1M397.3 299.1h1M408.5 295.9h1M405.5 305.5h1M409.3 299.7h1M401.5 302.9h1M401.1 295.3h1M401.1 288.6h1M409.5 287.6h1M410.4 285.7h1M413.3 289.8h1M416.7 300.7h1M406.5 277.5h1M401.5 314.5h1M401.4 271.7h1M405.6 306.2h1M404.7 280.5h1M404.7 288.3h1M408.7 314.0h1M405.7 281.0h1M406.8 272.2h1M409.0 288.4h1M400.7 307.9h1M396.5 301.1h1M405.7 294.1h1M406.6 277.2h1M407.0 305.5h1M396.0 291.3h1M405.2 287.3h1M407.6 288.6h1M402.3 305.0h1M401.4 285.5h1M404.3 281.0h1M401.5 307.4h1M398.9 320.5h1M403.5 275.1h1M410.7 296.7h1M400.7 287.8h1M401.2 322.2h1M405.8 293.9h1M407.6 293.6h1M406.3 280.2h1M405.6 293.2h1M399.1 291.0h1M404.5 296.8h1M410.3 284.2h1M399.6 279.2h1M404.3 289.1h1M407.7 288.5h1M410.9 283.3h1M406.9 298.5h1M406.6 297.2h1M399.4 300.8h1M403.2 288.2h1M400.3 294.6h1M404.1 282.2h1M409.4 281.7h1M406.9 293.0h1M407.8 291.5h1M399.6 292.0h1M405.1 313.4h1M413.1 302.1h1M404.1 277.4h1M407.7 297.5h1M407.3 298.1h1M407.2 289.7h1M402.0 299.2h1M404.4 303.7h1M403.7 287.4h1M401.1 298.5h1M402.4 282.2h1M405.8 286.5h1M411.0 295.3h1M408.5 308.2h1M409.4 302.5h1M402.8 296.1h1M404.2 300.3h1M402.1 298.8h1M402.4 299.8h1M409.9 306.4h1M402.2 306.9h1M397.4 292.4h1M398.9 290.7h1M400.1 290.1h1M400.9 306.2h1M414.6 302.5h1M409.8 297.3h1M405.4 288.5h1M401.0 281.3h1M409.7 286.6h1M408.3 280.7h1M414.8 308.7h1M403.2 314.0h1M406.8 304.9h1M405.4 286.0h1M411.4 301.0h1M408.4 304.0h1M406.7 286.1h1M404.9 305.2h1M402.7 313.9h1M405.2 279.0h1M408.5 289.7h1M409.2 284.1h1M408.1 293.2h1M405.8 303.1h1M402.3 289.3h1M409.5 306.7h1M410.1 278.5h1M407.0 286.8h1M405.8 272.9h1M395.0 302.5h1M410.9 274.4h1M403.9 292.0h1M402.4 297.2h1M405.3 274.6h1M403.2 296.6h1M400.6 300.0h1M409.8 299.1h1M408.3 290.5h1M408.9 282.9h1M395.6 282.0h1M411.2 304.3h1M400.9 288.2h1M403.5 276.8h1M403.2 300.5h1M406.1 288.2h1M393.3 316.4h1M400.2 290.9h1M409.1 293.6h1M402.2 282.6h1M410.9 276.1h1M409.6 302.2h1M405.4 274.2h1M403.5 282.1h1M403.3 281.4h1M406.0 287.5h1M405.3 290.6h1M409.0 315.4h1M405.6 290.0h1M403.7 302.3h1M408.5 292.6h1M404.2 297.8h1M410.7 286.2h1M401.9 296.4h1M399.8 272.3h1M401.8 315.6h1M405.3 312.0h1M413.4 282.6h1M404.2 295.4h1M409.0 308.5h1M408.7 295.3h1M399.6 303.1h1M401.8 302.6h1M413.1 274.3h1M414.9 289.6h1M409.5 302.8h1M412.8 306.0h1M412.1 301.8h1M402.1 288.6h1M407.7 302.8h1M407.0 282.7h1M399.7 291.7h1M419.4 290.9h1M402.7 298.2h1M408.8 293.0h1M397.1 282.2h1M402.0 298.4h1M402.9 288.2h1M401.1 284.1h1M414.8 302.0h1M408.4 281.3h1M398.9 303.0h1M404.9 298.4h1M406.8 292.9h1M393.3 301.1h1M413.6 292.9h1M404.6 293.8h1M403.9 291.0h1M411.5 280.0h1M404.1 291.4h1M405.7 314.7h1M407.8 299.5h1M398.4 310.0h1M396.3 306.8h1M409.5 293.0h1M400.2 297.4h1M402.0 307.4h1M392.1 291.3h1M393.5 291.3h1M403.3 301.3h1M401.4 279.1h1M396.2 285.1h1M406.6 288.4h1M401.4 288.2h1M407.8 295.2h1M397.1 284.5h1M408.0 295.3h1M400.2 297.1h1M407.2 285.5h1M407.2 288.8h1M401.3 303.3h1M396.4 313.4h1M407.2 286.3h1M408.5 280.1h1M401.6 314.9h1M407.9 289.5h1M403.9 302.2h1M410.1 287.7h1M411.0 291.5h1M404.6 300.3h1M403.8 272.3h1M404.0 301.8h1M403.3 301.7h1M411.5 287.6h1M405.8 289.7h1M408.1 297.5h1M405.0 307.9h1M407.1 295.0h1M402.2 292.0h1M411.0 300.4h1M406.3 290.4h1M402.1 282.4h1M410.3 292.2h1M404.7 306.7h1M404.3 285.6h1M411.5 299.6h1M398.4 290.8h1M402.6 285.2h1M406.3 272.0h1M400.5 313.0h1M405.2 285.8h1M411.5 275.7h1M403.3 306.9h1M405.4 295.7h1M404.3 295.7h1M409.1 289.9h1M405.9 294.7h1M396.1 301.8h1M413.2 302.2h1M407.2 287.4h1M405.3 315.2h1M413.2 284.1h1M413.4 284.1h1M403.0 289.9h1M408.8 289.4h1M410.0 295.9h1M414.4 276.1h1M405.6 299.9h1M408.3 285.5h1M406.2 304.1h1M410.0 289.9h1M403.0 298.6h1M402.7 301.9h1M401.5 299.0h1M398.9 293.8h1M418.5 279.6h1M402.2 302.9h1M398.1 293.8h1M410.7 293.7h1M405.0 305.1h1M404.3 308.1h1M412.9 289.1h1M410.9 301.1h1M405.3 291.9h1M412.0 277.9h1M397.4 305.4h1M414.5 296.3h1M412.3 273.1h1M400.4 285.1h1M404.0 293.9h1M403.7 291.0h1M404.3 299.3h1M409.8 303.0h1M412.4 290.3h1M397.3 300.9h1M407.9 292.6h1M405.6 277.0h1M396.3 284.0h1M412.5 284.2h1M406.4 307.6h1M412.9 288.7h1M409.2 303.1h1M405.7 295.7h1M401.4 294.5h1M402.9 288.9h1M405.2 303.1h1M404.9 288.4h1M400.9 324.4h1M403.3 297.2h1M398.7 291.7h1M400.8 284.5h1M407.3 312.8h1M405.9 299.1h1M407.0 286.5h1M405.1 303.5h1M407.0 287.2h1M403.0 297.3h1M403.2 302.7h1M398.4 300.3h1M402.0 290.5h1M414.4 305.1h1M403.7 286.9h1M408.9 303.4h1M404.8 300.8h1M411.3 286.3h1M408.7 289.9h1M405.3 280.9h1M408.4 302.2h1M410.8 300.8h1M408.3 285.7h1M405.5 297.0h1M395.5 276.8h1M404.0 301.6h1M410.4 313.0h1M402.1 292.3h1M404.2 281.7h1M404.0 293.0h1M411.0 274.2h1M406.1 279.6h1M410.4 312.9h1M404.3 282.9h1M407.5 303.5h1M401.6 286.1h1M408.0 279.0h1M412.6 292.7h1M407.2 277.6h1M412.8 275.8h1M402.9 284.0h1M406.6 274.1h1M401.4 298.3h1M405.3 292.9h1M409.7 297.3h1M410.3 292.2h1M399.8 311.1h1M399.2 274.2h1M397.8 319.5h1M404.9 304.5h1M399.6 277.6h1M407.6 286.0h1M405.5 298.8h1M406.0 292.6h1M406.8 289.1h1M406.1 303.3h1M401.1 294.5h1M410.0 289.6h1M403.3 313.8h1M408.4 319.6h1M414.6 288.3h1M402.8 287.9h1M404.6 306.2h1M405.6 295.6h1M410.4 288.6h1M407.9 292.1h1M414.2 298.2h1M407.8 290.7h1M401.5 296.2h1M410.7 292.2h1M396.6 281.5h1M415.2 285.8h1M404.0 281.1h1M408.7 299.6h1M407.2 304.1h1M401.7 311.9h1M403.6 302.7h1M416.0 286.3h1M407.6 290.4h1M406.0 295.4h1M405.4 291.9h1M410.4 276.1h1M402.8 285.4h1M399.0 295.3h1M404.5 281.2h1M400.4 280.5h1M409.0 276.6h1M409.2 299.6h1M401.1 303.9h1M404.7 282.3h1M402.0 295.9h1M396.2 303.2h1M407.8 279.3h1M399.7 294.8h1M413.8 277.9h1M399.2 290.2h1M406.9 282.4h1M400.4 309.8h1M403.1 271.7h1M402.4 306.9h1M408.8 291.2h1M399.8 289.8h1M418.1 299.8h1M412.1 272.8h1M404.3 284.5h1M413.9 288.6h1M405.8 285.5h1M391.3 303.9h1M397.5 283.7h1M399.0 283.5h1M404.0 285.0h1M413.5 277.5h1M403.6 297.7h1M404.2 284.9h1M413.7 301.4h1M401.5 294.1h1M401.0 296.4h1M398.2 300.4h1M407.0 295.5h1M405.3 294.0h1M401.5 291.7h1M407.9 296.7h1M400.7 297.7h1M400.8 282.0h1M402.3 283.6h1M404.3 299.3h1M410.0 297.0h1M401.4 299.9h1M410.9 282.4h1M400.2 288.8h1M414.8 288.3h1M404.0 299.5h1M401.2 277.6h1M404.1 301.2h1M404.8 283.2h1M396.2 309.5h1M398.3 306.4h1M401.0 304.6h1M414.3 281.2h1M407.4 300.2h1M411.6 287.9h1M411.1 292.8h1M399.8 302.7h1M411.4 291.4h1M404.1 300.3h1M414.6 276.9h1M408.3 315.9h1M400.9 297.6h1M405.4 295.4h1M413.0 272.4h1M404.6 274.3h1M402.1 313.4h1M401.2 285.0h1M402.3 295.6h1M404.9 281.5h1M402.1 288.8h1M410.8 293.1h1M402.9 288.8h1M409.8 281.0h1M406.2 284.6h1M397.6 307.4h1M400.8 281.0h1M404.3 299.1h1M408.2 276.2h1M401.3 310.5h1M405.6 279.7h1M409.9 287.7h1M397.7 279.9h1M409.9 289.3h1M404.4 298.6h1M403.5 272.5h1M406.0 283.3h1M406.2 282.1h1M403.5 273.5h1M404.7 314.3h1M398.6 304.3h1M409.3 283.4h1M400.2 297.0h1M404.2 287.4h1M401.4 313.7h1M397.6 295.5h1M414.1 293.7h1M415.4 291.9h1M405.5 300.5h1M402.2 291.2h1M408.9 283.3h1M406.5 304.4h1M400.3 289.2h1M408.1 282.7h1M408.9 306.4h1M402.7 293.9h1M402.8 289.5h1M407.9 289.6h1M406.8 286.0h1M410.1 303.0h1M402.1 297.8h1M418.2 286.8h1M409.2 324.1h1M403.8 301.0h1M394.1 307.2h1M407.7 301.9h1M405.5 303.3h1M410.1 300.6h1M404.6 289.5h1M406.1 289.0h1M403.2 276.0h1M406.2 280.5h1M405.3 276.1h1M399.8 286.0h1M402.3 317.5h1M404.2 304.1h1M407.6 295.4h1M403.6 299.2h1M409.6 274.9h1M409.0 289.4h1M399.1 281.6h1M407.9 303.1h1M403.8 306.2h1M410.9 273.3h1M400.2 295.3h1M402.2 283.6h1M407.3 288.1h1M403.9 274.3h1M416.6 275.5h1M402.5 304.4h1M406.2 280.0h1M399.1 304.9h1M398.5 298.5h1M413.7 285.5h1M411.7 272.5h1M399.2 275.6h1M407.7 294.0h1M413.8 287.1h1M417.7 295.6h1M397.2 290.1h1" stroke="#000" stroke-opacity="0.6" stroke-width="1" fill="none"/><path d="M427.3 135.0h1M412.4 122.3h1M410.8 143.0h1M415.7 139.5h1M410.2 122.0h1M409.4 128.9h1M422.6 145.5h1M407.4 129.1h1M412.0 129.2h1M403.5 132.3h1M416.0 134.4h1M403.8 130.9h1M399.6 138.1h1M405.3 129.8h1M409.7 127.6h1M405.0 119.3h1M426.7 133.5h1M415.3 146.4h1M412.4 135.6h1M413.4 140.0h1M417.2 133.9h1M411.3 133.7h1M412.2 128.8h1M419.0 125.8h1M411.5 128.2h1M400.2 128.6h1M398.9 125.1h1M410.8 131.7h1M413.7 130.8h1M429.9 134.8h1M403.7 127.4h1M408.1 130.5h1M408.6 125.7h1M426.1 132.0h1M410.6 130.0h1M411.6 141.5h1M417.0 139.6h1M421.5 145.6h1M413.5 119.7h1M417.9 127.6h1M399.3 127.4h1M421.5 140.2h1M418.9 124.4h1M432.9 123.6h1M412.7 121.6h1M423.6 134.9h1M420.2 132.4h1M412.8 133.0h1M398.6 138.7h1M420.4 129.0h1M413.2 133.9h1M425.6 134.8h1M413.7 128.2h1M401.6 127.6h1M413.9 130.0h1M413.9 137.0h1M416.7 133.7h1M418.5 133.1h1M413.1 135.1h1M399.9 140.6h1M403.3 137.7h1M413.5 139.6h1M413.6 125.2h1M421.7 133.1h1M414.3 132.4h1M421.2 137.6h1M415.2 121.0h1M410.2 132.6h1M427.4 134.6h1M412.7 140.2h1M412.5 131.7h1M414.6 121.4h1M420.9 134.9h1M411.2 123.9h1M415.1 141.7h1M408.4 124.5h1M416.7 120.7h1M396.1 128.8h1M408.1 130.0h1M409.1 134.2h1M411.7 127.7h1M409.9 136.3h1M420.9 138.2h1M405.6 129.7h1M415.1 120.6h1M424.6 134.0h1M408.6 133.1h1M410.8 126.6h1M417.4 128.7h1M402.5 127.5h1M412.6 124.4h1M423.3 124.3h1M427.2 138.2h1M406.1 132.8h1M422.7 130.6h1M404.2 132.7h1M429.0 121.5h1M417.8 132.0h1M412.6 129.2h1M411.0 139.2h1M418.2 125.0h1M425.7 122.9h1M418.7 133.3h1M422.9 134.5h1M421.8 131.8h1M421.1 134.4h1M430.3 127.1h1M422.9 135.3h1M414.9 128.0h1M417.1 121.7h1M402.9 137.0h1M401.4 142.1h1M411.4 133.8h1M414.2 135.0h1M411.4 129.4h1M412.6 139.4h1M422.4 140.9h1M416.4 130.6h1M400.5 136.5h1M420.1 129.2h1M419.9 141.1h1M414.3 139.4h1M416.0 119.9h1M409.9 129.2h1M417.7 126.0h1M410.2 125.3h1M413.3 132.5h1M421.2 137.6h1M414.9 133.7h1M414.4 132.8h1M412.2 134.2h1M422.4 124.4h1M416.3 138.1h1M410.1 118.7h1M410.8 123.6h1M418.7 126.1h1M427.5 133.0h1M407.3 128.5h1M405.1 134.8h1M425.2 130.5h1M420.8 125.4h1M416.0 148.2h1M402.6 140.7h1M422.8 118.9h1M402.4 125.2h1M421.2 129.0h1M412.3 137.0h1M414.5 133.6h1M411.1 139.9h1M407.5 143.8h1M411.0 126.4h1M418.6 135.2h1M398.1 133.6h1M403.1 126.2h1M419.7 126.0h1M416.3 129.4h1M428.7 131.3h1M404.4 124.3h1M406.5 132.9h1M413.5 138.8h1M414.8 132.9h1M416.1 131.1h1M415.8 137.5h1M419.6 128.1h1M399.7 126.3h1M409.8 135.1h1M409.1 124.1h1M427.2 141.6h1M411.5 141.2h1M423.6 124.0h1M434.4 125.4h1M411.4 124.2h1M414.1 122.7h1M413.4 139.5h1M415.1 130.0h1M425.5 125.6h1M421.0 129.8h1M415.1 132.1h1M414.4 131.5h1M407.3 127.9h1M416.8 131.1h1M404.3 126.9h1M408.0 131.4h1M414.7 132.5h1M408.2 131.9h1M412.9 120.2h1M405.9 123.3h1M418.2 123.3h1M415.4 128.3h1M403.6 120.7h1M416.8 134.4h1M419.3 144.5h1M415.3 133.6h1M412.2 132.4h1M410.4 125.4h1M428.7 118.6h1M415.1 134.7h1M414.3 124.9h1M411.6 128.4h1M404.7 131.3h1M409.9 127.7h1M418.4 124.1h1M416.5 127.3h1M416.4 132.0h1M414.9 124.7h1M407.0 125.5h1M414.3 136.7h1M421.4 128.0h1M413.6 120.2h1M395.7 125.4h1M407.8 120.6h1M399.1 135.2h1M406.7 119.7h1M431.0 132.6h1M410.4 136.1h1M407.0 142.5h1M400.9 122.2h1M411.8 126.0h1M423.8 120.2h1M407.1 133.0h1M417.2 138.3h1M415.5 146.7h1M409.1 132.5h1M419.4 129.1h1M410.5 128.0h1M407.7 123.4h1M408.4 120.4h1M415.7 120.1h1M428.7 143.1h1M421.3 129.7h1M408.1 139.7h1M414.1 135.1h1M407.1 138.6h1M406.4 131.9h1M399.2 126.6h1M416.5 128.0h1M409.2 136.7h1M412.1 139.8h1M416.5 120.4h1M402.5 137.3h1M404.3 126.7h1M417.2 128.8h1M416.3 125.1h1M414.9 138.7h1M417.6 131.5h1M405.6 140.8h1M399.0 144.2h1M407.7 142.1h1M412.2 121.9h1M413.3 133.4h1M416.8 138.5h1M405.6 134.6h1M418.3 129.2h1M405.3 124.5h1M418.4 136.7h1M406.1 121.8h1M422.2 120.3h1M413.8 125.5h1M398.9 132.0h1M411.1 141.1h1M430.2 129.8h1M420.5 138.4h1M408.5 125.1h1M425.1 128.6h1M412.4 129.1h1M411.5 126.9h1M418.4 139.9h1M409.7 121.5h1M413.0 120.7h1M407.6 139.7h1M430.6 133.7h1M404.3 136.5h1M424.4 136.3h1M401.8 119.5h1M419.2 130.8h1M408.0 134.0h1M418.8 126.6h1M404.8 121.8h1M414.5 125.5h1M417.4 129.2h1M421.0 128.4h1M404.0 136.1h1M436.3 122.4h1M404.5 133.5h1M416.3 126.4h1M413.2 119.9h1M410.3 137.4h1M425.3 129.9h1M410.6 134.3h1M421.2 134.5h1M406.7 133.6h1M420.1 126.2h1M402.2 134.7h1M415.4 137.9h1M413.3 126.6h1M409.2 124.0h1M405.2 127.2h1M408.8 138.9h1M403.1 130.8h1M408.0 141.5h1M414.6 128.5h1M418.9 131.6h1M408.9 141.8h1M418.1 143.2h1M421.6 136.6h1M413.7 123.6h1M418.1 131.7h1M417.9 131.1h1M407.3 124.2h1M418.1 140.2h1M410.4 134.4h1M423.4 125.4h1M410.0 123.4h1M421.8 133.0h1M409.1 119.7h1M411.3 138.1h1M410.4 128.3h1M417.6 122.6h1M413.1 135.4h1M406.6 125.5h1M414.6 130.5h1M410.9 132.7h1M414.4 124.8h1M407.5 134.4h1M421.4 140.6h1M406.2 138.8h1M418.6 131.0h1M416.5 137.0h1M426.6 123.9h1M417.4 130.3h1M411.1 139.2h1M419.1 124.2h1M410.5 132.8h1M401.8 137.3h1M412.2 132.4h1M415.3 143.8h1M413.0 128.8h1M426.2 127.8h1M408.7 121.7h1M421.1 133.2h1M416.4 132.4h1M411.7 125.8h1M406.7 134.3h1M413.7 142.6h1M406.9 127.9h1M404.9 140.8h1M403.3 136.6h1M423.9 130.3h1M409.8 119.8h1M414.1 131.4h1M406.9 137.8h1M415.5 127.7h1M408.8 121.1h1M411.4 146.0h1M407.3 134.2h1M408.6 136.9h1M416.2 129.7h1M399.1 127.8h1M422.1 129.6h1M417.7 128.0h1M398.4 134.3h1M415.3 127.3h1M409.9 133.3h1M408.2 133.7h1M411.7 127.2h1M406.4 134.1h1M409.0 135.1h1M421.2 132.3h1M400.9 126.3h1M419.9 129.6h1M406.6 130.7h1M416.7 133.1h1M417.8 125.6h1M410.7 129.6h1M411.0 122.1h1M423.6 142.1h1M425.8 137.0h1M409.1 138.0h1M411.3 135.6h1M405.9 127.3h1M416.4 143.6h1M412.7 147.0h1M434.1 122.5h1M412.7 124.8h1M411.8 127.7h1M412.4 138.1h1M420.1 133.2h1M412.9 132.2h1M413.9 135.4h1M412.9 134.9h1M402.8 136.9h1M426.4 132.7h1M402.0 140.7h1M411.2 135.6h1M415.9 140.0h1M417.7 132.3h1M397.7 123.7h1M414.3 136.1h1M405.0 127.2h1M397.9 129.8h1M414.8 128.1h1M402.6 135.9h1M412.1 133.2h1M417.9 127.8h1M419.3 140.0h1M416.0 140.6h1M408.1 137.8h1M415.0 124.6h1M412.3 127.7h1M408.6 132.0h1M421.1 129.2h1M413.9 121.2h1M413.7 139.4h1M419.2 134.7h1M408.8 124.7h1M412.2 122.1h1M403.4 138.0h1M405.8 143.9h1M401.9 134.4h1M403.9 132.6h1M404.9 131.7h1M411.7 128.3h1M416.9 141.9h1M408.3 137.6h1M413.6 131.2h1M407.7 118.9h1M410.5 129.8h1M442.4 133.8h1M426.8 140.4h1M409.5 134.7h1M425.8 132.6h1M414.5 134.9h1M401.3 125.8h1M415.5 135.2h1M405.8 129.2h1M412.0 130.4h1M418.3 132.2h1M414.2 121.6h1M404.8 133.6h1M400.6 133.3h1M407.8 125.8h1M417.9 126.7h1M406.2 126.7h1M413.3 150.5h1M396.5 131.2h1M411.0 138.0h1M423.1 123.8h1M412.4 121.9h1M404.4 127.9h1M419.5 137.2h1M408.2 134.8h1M409.9 132.1h1M414.0 135.6h1M408.0 130.4h1M414.5 131.9h1M406.6 143.3h1M409.2 136.6h1M414.4 139.8h1M395.9 145.6h1M411.1 122.7h1M413.8 147.0h1M416.7 122.7h1M409.2 140.6h1M401.9 130.0h1M410.5 146.4h1M410.5 140.4h1M407.5 125.7h1M420.5 135.6h1M399.4 135.7h1M417.7 127.0h1M414.5 133.2h1M409.0 127.2h1M407.6 129.4h1M402.5 131.0h1M401.2 131.8h1M412.1 124.1h1M419.4 144.7h1M423.0 121.8h1M422.6 132.8h1M412.3 127.1h1M412.7 140.9h1M417.0 128.4h1M407.6 128.4h1M417.3 144.2h1M404.5 131.2h1M409.8 126.0h1M415.8 135.1h1M401.8 124.1h1M422.0 133.5h1M416.8 127.8h1M409.8 134.4h1M408.9 123.6h1M412.7 137.5h1M404.8 138.6h1M418.2 125.3h1M412.8 131.0h1M417.6 135.9h1M402.7 121.9h1M420.7 132.0h1M416.0 133.6h1M424.6 122.9h1M421.1 125.6h1M418.4 140.6h1M402.1 134.1h1M410.6 129.2h1M413.1 124.0h1M405.3 135.8h1M419.3 127.3h1M401.5 147.3h1M421.2 133.8h1M404.8 127.2h1M414.6 124.6h1M425.1 132.2h1M415.8 124.1h1M405.7 125.8h1M414.9 129.4h1M410.5 133.4h1M414.5 141.5h1M411.2 124.3h1M412.6 141.4h1M408.5 131.6h1M410.0 134.1h1M414.7 125.7h1M411.0 137.8h1M421.1 137.6h1M419.4 129.0h1M409.9 137.7h1M403.7 130.9h1M398.5 128.7h1M407.3 123.0h1M417.2 126.2h1M409.9 129.5h1M407.1 141.1h1M409.0 132.6h1M402.7 128.0h1M410.3 129.2h1M408.3 132.3h1M424.7 130.4h1M411.7 128.6h1M432.2 142.4h1M417.0 136.1h1M407.3 130.2h1M414.4 132.1h1M406.2 125.9h1M416.7 133.4h1M396.6 131.9h1M422.5 126.8h1M414.6 121.3h1M419.1 123.6h1M403.2 129.1h1M430.9 127.1h1M403.1 134.5h1M414.5 142.7h1M403.1 120.3h1M410.3 133.9h1M415.5 138.7h1M401.3 125.6h1M411.8 137.1h1M416.4 128.4h1M405.0 137.3h1M420.0 149.9h1M411.4 142.4h1M403.5 127.6h1M407.6 128.1h1M406.1 127.6h1M412.4 128.2h1M417.8 130.7h1M412.8 141.4h1M415.2 132.4h1M412.6 131.7h1M417.2 125.8h1M421.5 142.1h1M421.6 127.9h1M400.6 128.3h1M413.9 137.0h1M411.4 129.2h1M424.4 126.7h1M420.9 137.5h1M402.6 133.2h1M408.5 124.8h1M398.6 120.6h1M415.9 128.6h1M414.9 124.0h1M410.3 129.4h1M401.0 119.9h1M416.1 132.3h1M405.6 130.6h1M417.8 143.9h1M406.0 135.5h1M429.0 131.7h1M423.8 131.2h1M398.4 136.6h1M420.8 139.6h1M421.9 131.1h1M407.1 128.1h1M412.5 134.1h1M409.1 131.6h1M419.5 133.5h1M430.3 146.1h1M404.0 127.4h1M402.8 123.3h1M417.0 124.5h1M404.8 129.4h1M418.9 128.9h1M410.0 137.6h1M416.4 134.4h1M420.0 124.3h1M414.4 126.9h1M420.6 136.9h1M404.8 140.5h1M403.8 139.3h1M414.3 125.3h1M404.2 129.2h1M412.6 126.4h1M417.1 121.7h1M412.7 131.3h1M398.4 133.4h1M408.1 129.7h1M419.7 127.9h1M424.1 141.2h1M421.2 140.4h1M415.5 127.5h1M417.7 138.0h1M414.6 129.6h1M400.7 136.0h1M415.5 122.3h1M413.5 136.3h1M411.9 136.7h1M418.6 121.1h1M410.4 134.6h1M419.8 141.0h1M398.0 130.8h1M418.3 139.7h1M425.8 124.8h1M409.9 124.0h1M419.1 122.1h1M421.9 137.8h1M407.5 136.5h1M401.8 129.6h1M412.0 137.4h1M414.9 133.2h1M409.4 131.3h1M411.7 136.3h1M411.4 138.4h1M399.7 139.6h1M411.4 139.1h1M413.4 137.2h1M424.3 127.4h1M413.4 130.1h1M414.4 120.1h1M411.4 129.6h1M406.7 129.9h1M400.9 140.9h1M416.2 144.3h1M406.0 123.2h1M414.9 119.7h1M414.5 126.4h1M410.2 133.0h1M413.1 144.1h1M417.6 122.3h1M420.3 122.0h1M413.4 122.6h1M406.3 140.3h1M408.4 126.8h1M408.4 129.1h1M423.8 123.1h1M403.2 135.3h1M400.4 128.7h1M421.4 131.2h1M409.0 126.3h1M405.6 127.1h1M413.7 139.8h1M420.1 127.3h1M407.0 136.0h1M398.7 128.2h1M410.1 123.5h1M405.0 133.6h1M399.9 124.8h1M407.6 131.7h1M402.0 138.6h1M410.2 129.3h1M409.8 126.5h1M405.0 139.0h1M414.1 130.3h1M420.2 126.2h1M417.4 131.2h1M405.7 136.3h1M401.0 135.5h1M405.7 133.9h1M423.1 134.9h1M407.8 130.8h1M409.6 122.9h1M403.9 131.3h1M416.5 118.8h1M411.9 134.5h1M413.2 124.0h1M420.3 122.6h1M417.3 142.0h1M396.7 132.7h1M414.8 132.5h1M406.4 128.8h1M401.6 131.8h1M416.4 126.3h1M405.2 127.6h1M412.2 131.3h1M411.5 131.3h1M417.0 140.6h1M401.4 126.3h1M414.6 137.4h1M417.2 139.6h1M411.8 133.7h1M415.4 127.9h1M421.4 135.1h1M419.7 128.1h1M420.1 123.6h1M404.5 135.9h1M408.8 132.0h1M399.8 141.4h1M416.8 130.6h1M415.4 133.1h1M423.0 132.3h1M401.0 129.1h1M422.0 134.7h1M409.0 135.0h1M413.1 135.0h1M400.1 124.7h1M417.3 129.3h1M414.9 144.2h1M409.8 132.5h1M408.0 126.5h1M411.7 120.9h1M396.2 140.1h1M411.4 138.5h1M413.2 131.8h1M417.3 135.7h1M403.1 139.1h1M404.8 132.2h1M431.7 131.4h1M424.9 128.4h1M416.9 131.2h1M415.4 125.0h1M405.2 133.1h1M400.3 125.0h1M417.1 126.6h1M405.5 123.2h1M413.4 128.3h1M413.4 129.5h1M426.3 127.8h1M397.3 131.6h1M412.3 131.9h1M400.0 138.5h1M412.0 130.5h1M400.2 134.0h1M411.7 140.0h1M409.1 122.4h1M413.2 124.6h1M415.4 123.4h1M411.3 129.3h1M412.0 127.3h1M406.1 130.4h1M407.8 131.9h1M411.8 140.3h1M414.5 134.9h1M415.7 127.6h1M402.1 136.3h1M420.2 134.7h1M415.4 133.5h1M412.0 132.7h1M412.3 133.0h1M405.1 126.6h1M416.5 128.5h1M417.7 135.4h1M407.3 123.2h1M410.7 131.0h1M406.5 131.9h1M417.4 134.9h1M412.3 126.4h1M415.6 141.9h1M424.6 132.8h1M420.6 141.9h1M412.6 132.7h1M418.7 130.6h1M408.6 125.9h1M412.4 126.7h1M418.3 128.7h1M423.3 139.0h1M403.1 138.2h1M409.4 140.1h1M416.2 130.6h1M417.4 127.2h1M414.8 133.5h1M411.3 133.6h1M405.0 134.7h1M403.4 135.1h1M415.9 135.7h1M408.3 151.3h1M410.8 132.0h1M406.9 140.6h1M409.0 137.7h1M405.5 133.1h1M409.8 137.3h1M410.4 125.3h1M415.9 123.2h1M405.5 136.2h1M398.7 136.2h1M409.6 125.0h1M414.4 135.3h1M408.3 130.0h1M418.5 136.2h1M412.3 126.1h1M405.7 127.2h1M417.7 135.0h1M414.9 140.4h1M410.5 128.7h1M409.9 143.9h1M397.5 133.2h1M416.0 131.7h1M429.9 139.0h1M418.4 125.3h1M416.4 128.8h1M413.1 132.6h1M409.2 135.5h1M424.8 138.2h1M414.4 118.6h1M420.8 138.5h1M411.4 128.2h1M417.7 126.0h1M418.7 124.3h1M406.1 131.5h1M402.2 131.4h1M416.8 122.7h1M419.7 127.7h1M416.9 132.8h1M409.6 128.0h1M400.4 126.8h1M407.3 142.2h1M420.4 122.4h1M418.8 132.9h1M410.2 134.5h1M418.7 127.7h1M410.9 132.5h1M405.7 132.7h1M412.4 127.0h1M406.8 133.5h1M419.4 133.6h1M406.7 136.4h1M414.2 135.4h1M421.5 125.6h1M412.0 127.6h1M406.6 144.6h1M419.8 119.9h1M416.1 127.8h1M421.4 132.0h1M411.7 132.4h1M415.8 131.7h1M411.4 130.6h1M416.7 124.1h1M413.0 130.7h1M409.4 136.3h1M403.6 129.1h1M406.8 135.1h1M409.6 131.8h1M415.8 121.0h1M416.3 126.6h1M411.1 130.8h1M418.9 136.3h1M425.9 132.7h1M409.5 128.2h1M417.8 142.0h1M415.5 127.7h1M415.0 133.2h1M413.2 126.6h1M420.7 132.9h1M396.9 131.5h1M399.5 144.5h1M414.4 123.6h1M418.8 126.4h1M417.1 131.6h1M404.4 135.8h1M403.2 140.3h1M413.4 124.8h1M399.8 142.1h1M423.6 123.3h1M425.0 132.6h1M411.4 130.9h1M411.0 140.9h1M414.1 119.5h1M428.2 137.3h1M405.1 129.2h1M406.4 131.8h1M415.9 133.1h1M408.6 126.3h1M419.2 130.8h1M429.4 126.2h1M418.7 131.8h1M407.5 140.4h1M413.9 125.7h1M410.7 138.2h1M404.1 140.5h1M418.0 129.7h1M422.9 142.9h1M417.4 132.6h1M426.5 141.3h1M406.2 130.1h1M411.4 128.8h1M402.1 137.4h1M413.6 132.1h1M423.3 127.8h1M412.6 133.3h1M409.8 130.8h1M418.6 131.4h1M422.7 126.6h1M414.5 122.1h1M412.1 126.9h1M423.0 136.4h1M416.7 143.6h1M423.6 136.2h1M407.9 122.0h1M412.8 129.2h1M408.3 129.6h1M400.9 141.3h1M404.6 127.1h1M417.2 120.8h1M419.8 137.7h1M410.7 124.4h1M409.5 119.3h1M423.2 131.9h1M407.6 125.5h1M417.2 141.4h1M403.6 127.7h1M400.0 136.0h1M414.2 146.4h1M412.1 128.6h1M407.8 137.1h1M401.0 136.5h1M414.8 128.2h1M406.3 138.5h1M426.7 128.5h1M416.9 143.1h1M408.4 129.8h1M404.0 130.5h1M412.4 128.7h1M407.5 121.0h1M403.0 125.0h1M417.7 128.1h1M406.7 135.9h1M417.2 126.5h1M408.4 135.9h1M415.7 125.9h1M414.8 131.3h1M421.3 125.7h1M419.6 134.4h1M405.5 138.5h1M419.8 122.7h1M427.7 123.9h1M406.2 129.3h1M418.7 135.4h1M412.3 140.6h1M416.0 140.8h1M434.0 132.8h1M405.0 132.1h1M413.7 123.3h1M404.4 129.7h1M420.3 131.7h1M412.9 133.5h1M405.3 131.2h1M420.8 138.8h1M416.5 129.6h1M406.8 140.4h1M417.0 128.6h1M396.6 125.6h1M398.4 140.0h1M414.4 126.4h1M410.9 149.2h1M422.2 122.3h1M412.0 123.1h1M399.9 132.7h1M431.4 142.2h1M413.3 128.9h1M414.5 138.6h1M401.8 118.7h1M427.4 133.4h1M425.3 133.1h1M424.3 127.3h1M416.8 142.2h1M420.8 128.3h1M419.9 126.9h1M402.0 135.1h1M423.8 137.4h1M403.3 137.5h1M418.2 128.3h1M419.8 134.9h1M399.6 121.2h1M420.8 137.1h1M416.8 129.8h1M416.0 127.7h1M410.6 125.5h1M415.0 128.6h1M420.4 136.5h1M406.7 144.3h1M404.3 134.6h1M421.4 140.4h1M395.9 138.5h1M422.5 141.5h1M395.7 126.8h1M412.2 128.4h1M423.4 126.8h1M422.6 135.4h1M401.7 124.6h1M409.3 132.2h1M420.7 130.2h1M420.1 120.5h1M416.6 129.0h1M405.1 134.5h1M428.1 130.8h1M407.3 125.6h1M428.3 131.2h1M417.8 140.0h1M421.4 125.0h1M420.5 137.4h1M416.8 138.6h1M408.6 131.0h1M408.9 136.8h1M407.9 134.3h1M404.5 130.6h1M410.2 130.7h1M414.0 130.2h1M421.6 127.1h1M411.1 125.7h1M420.8 125.2h1M416.9 139.7h1M425.8 139.8h1M417.8 123.1h1M423.1 139.8h1M419.5 137.1h1M413.6 127.9h1M421.5 140.4h1M405.0 137.9h1M415.0 137.7h1M415.2 139.3h1M421.0 137.8h1M402.4 137.3h1M413.5 123.7h1M418.6 122.1h1M420.1 143.4h1M409.2 138.0h1M416.6 136.2h1M402.7 135.9h1M414.2 136.8h1M413.2 139.3h1M415.3 136.4h1M423.8 132.9h1M420.9 133.3h1M417.2 128.0h1M419.2 140.2h1M412.6 137.2h1M416.5 124.1h1M416.0 140.8h1M409.5 119.4h1M414.8 127.3h1M427.9 131.4h1M413.2 127.4h1M415.2 127.8h1M406.3 131.3h1M407.0 140.8h1M404.3 131.2h1M408.0 122.2h1M424.4 122.0h1M414.0 147.3h1M397.0 122.3h1M423.3 132.9h1M409.1 131.5h1M405.9 132.6h1M424.7 129.1h1M414.3 140.0h1M428.5 127.7h1M415.6 127.9h1M408.3 129.0h1M408.4 119.9h1M398.1 126.7h1M414.3 140.1h1M409.2 130.6h1M418.3 136.8h1M412.4 131.4h1M427.6 129.5h1M409.5 120.6h1M416.6 129.9h1M427.9 129.5h1M419.5 138.1h1M425.9 122.8h1M425.2 131.8h1M412.5 129.6h1M410.3 129.4h1M413.8 125.2h1M412.8 147.5h1M416.2 129.1h1M426.3 126.3h1M412.1 128.0h1M411.5 136.7h1M417.7 126.7h1M412.3 132.3h1M410.2 131.5h1M407.8 126.7h1M413.6 124.7h1M416.4 130.4h1M406.2 127.5h1M409.6 130.6h1M414.1 130.3h1M406.7 141.5h1M420.1 132.5h1M420.5 133.9h1M411.3 132.3h1M433.4 138.5h1M421.1 129.0h1M417.8 147.1h1M416.5 139.0h1M422.8 136.1h1M425.2 133.3h1M417.0 127.4h1M433.2 133.8h1M414.1 141.1h1M409.5 131.7h1M407.3 131.9h1M410.3 135.4h1M412.3 127.6h1M411.0 130.9h1M409.3 138.0h1M418.3 132.7h1M404.2 135.2h1M403.6 132.9h1M413.6 127.7h1M407.0 127.0h1M428.7 129.9h1M411.7 138.2h1M416.4 138.8h1M404.0 124.3h1M438.3 131.4h1M411.0 132.8h1M420.7 123.6h1M415.3 131.5h1M418.3 132.9h1M409.2 125.8h1M402.2 129.0h1M425.7 128.9h1M417.8 130.3h1M418.5 131.9h1M409.4 140.8h1M411.2 122.7h1M410.7 135.3h1M404.8 137.0h1M418.9 146.0h1M408.4 136.1h1M400.7 128.9h1M414.0 134.4h1M412.8 131.1h1M408.6 128.7h1M415.5 135.4h1M418.0 138.4h1M422.1 119.6h1M409.3 130.6h1M408.4 138.7h1M418.8 131.0h1M414.1 140.2h1M410.6 129.6h1M420.0 134.8h1M423.8 134.2h1M418.8 128.0h1M406.2 131.6h1M420.5 132.2h1M411.6 139.0h1M412.9 138.3h1M429.6 136.5h1M420.2 135.0h1M415.1 133.5h1M413.7 138.9h1M401.2 129.9h1M418.1 126.0h1M412.4 127.0h1M416.5 137.5h1M424.1 135.0h1M407.8 133.4h1M417.5 141.1h1M397.2 134.2h1M399.6 136.5h1M416.5 135.0h1M419.8 134.3h1M408.4 134.0h1M422.2 130.9h1M413.4 123.6h1M421.9 128.3h1M407.7 128.7h1M406.8 130.0h1M422.7 137.0h1M423.8 141.6h1M406.5 134.9h1M424.4 147.0h1M402.7 122.2h1M416.7 129.4h1M405.8 134.2h1M413.0 132.5h1M417.9 138.0h1M414.5 130.1h1M408.2 120.7h1M409.9 138.3h1M418.0 145.4h1M412.0 119.7h1M419.3 138.6h1M404.5 120.9h1M414.3 136.4h1M435.7 128.7h1M438.0 122.7h1M434.3 132.2h1M440.6 126.3h1M425.7 143.7h1M436.8 130.2h1M435.5 133.8h1M433.0 131.8h1M441.9 137.7h1M435.8 126.5h1M441.5 146.1h1M433.3 133.2h1M438.7 133.3h1M447.5 132.1h1M444.8 133.1h1M439.2 129.5h1M432.0 128.5h1M437.9 129.3h1M448.0 133.8h1M446.2 139.0h1M427.1 134.1h1M442.9 130.4h1M434.3 135.0h1M450.7 138.4h1M442.5 135.6h1M449.2 144.1h1M451.2 132.1h1M443.7 132.2h1M444.6 127.5h1M448.2 126.1h1M437.7 133.6h1M439.2 129.3h1M429.2 136.7h1M443.0 130.1h1M446.1 132.5h1M438.4 145.4h1M440.0 138.0h1M455.2 126.6h1M443.6 125.2h1M450.0 128.6h1M435.7 140.4h1M449.2 124.7h1M450.9 132.4h1M461.2 143.3h1M439.3 129.1h1M437.2 132.0h1M443.3 136.3h1M443.6 120.5h1M437.6 141.1h1M450.7 129.9h1M442.1 129.8h1M443.2 119.0h1M449.0 126.3h1M444.6 140.6h1M428.1 141.9h1M446.2 125.8h1M432.4 139.3h1M444.7 135.2h1M441.2 125.3h1M448.8 124.2h1M449.0 119.0h1M436.8 120.6h1M451.8 118.5h1M435.4 135.7h1M444.5 146.7h1M455.3 135.4h1M437.1 128.6h1M441.8 121.1h1M436.8 124.9h1M450.1 134.1h1M440.8 129.0h1M444.9 126.0h1M441.2 118.6h1M447.5 137.9h1M445.4 134.4h1M445.4 145.6h1M444.4 121.5h1M436.0 136.1h1M450.1 136.5h1M448.6 132.3h1M433.0 125.9h1M430.9 128.2h1M433.8 131.7h1M447.9 136.4h1M433.6 132.0h1M447.8 128.9h1M448.7 132.3h1M450.2 132.3h1M441.8 134.6h1M448.2 132.7h1M439.9 125.2h1M440.4 126.8h1M444.3 132.1h1M442.4 130.9h1M444.1 142.2h1M451.0 126.7h1M445.8 128.5h1M442.3 129.1h1M438.7 121.1h1M426.3 132.3h1M450.9 124.3h1M446.3 128.1h1M444.8 125.0h1M441.3 130.1h1M426.8 132.4h1M447.3 130.6h1M444.2 133.5h1M440.0 123.1h1M439.8 127.7h1M457.9 144.2h1M439.5 127.8h1M445.0 134.9h1M438.2 123.6h1M455.9 138.5h1M437.2 132.4h1M446.5 128.3h1M431.9 132.4h1M446.9 130.8h1M439.4 135.0h1M442.4 122.6h1M443.4 121.4h1M449.3 134.2h1M436.0 132.3h1M441.8 142.8h1M432.2 129.6h1M433.1 130.3h1M426.4 118.9h1M439.1 131.8h1M445.4 133.9h1M450.6 135.9h1M447.8 123.6h1M458.3 136.9h1M447.9 138.0h1M440.0 145.2h1M440.2 130.2h1M438.3 130.1h1M440.4 132.1h1M437.5 130.0h1M434.6 127.9h1M433.2 135.6h1M433.9 135.9h1M439.9 128.5h1M450.9 131.6h1M429.7 134.5h1M422.8 132.8h1M440.0 120.4h1M443.3 128.5h1M456.7 127.5h1M456.2 141.0h1M438.6 124.7h1M451.9 129.8h1M443.9 128.9h1M434.4 128.0h1M436.1 119.4h1M440.8 144.0h1M454.0 130.3h1M443.7 134.6h1M452.2 133.1h1M439.5 127.9h1M450.7 150.2h1M448.4 130.2h1M443.8 140.0h1M443.3 120.9h1M429.1 130.4h1M434.7 132.9h1M433.9 128.1h1M432.5 128.1h1M439.7 135.2h1M452.2 129.4h1M436.8 145.4h1M445.3 135.4h1M447.1 141.7h1M449.9 135.9h1M448.2 124.4h1M438.6 130.0h1M443.5 130.9h1M445.0 131.0h1M439.8 118.7h1M448.7 135.2h1M436.7 134.5h1M445.6 131.4h1M430.0 121.8h1M438.6 142.9h1M436.8 128.2h1M435.1 127.1h1M423.0 135.8h1M443.1 126.3h1M449.6 138.1h1M428.2 129.5h1M450.6 125.8h1M440.6 137.9h1M440.9 121.8h1M438.0 120.9h1M449.8 118.5h1M443.1 119.8h1M440.6 138.5h1M450.7 140.6h1M442.2 131.6h1M444.4 135.4h1M440.0 139.0h1M445.1 139.4h1M446.2 135.9h1M437.7 127.7h1M433.8 128.6h1M441.6 137.1h1M442.0 140.2h1M441.0 141.9h1M425.8 136.6h1M436.4 127.3h1M444.2 126.0h1M437.6 136.1h1M467.4 133.4h1M446.7 130.4h1M437.7 132.7h1M453.4 132.2h1M449.0 129.1h1M460.4 118.4h1M446.9 134.8h1M444.7 122.4h1M434.8 129.0h1M443.5 121.7h1M435.3 135.0h1M450.0 126.5h1M437.9 125.3h1M460.1 134.4h1M442.3 138.3h1M458.8 139.5h1M432.8 130.1h1M439.9 128.2h1M434.2 127.8h1M435.1 133.3h1M443.1 120.1h1M430.8 127.1h1M447.3 134.4h1M439.3 125.1h1M440.4 121.5h1M439.7 125.7h1M461.8 136.0h1M441.4 130.3h1M441.9 132.1h1M439.9 130.6h1M449.9 137.0h1M444.9 140.7h1M444.3 123.3h1M430.5 125.5h1M442.3 133.7h1M450.3 126.4h1M437.1 136.5h1M451.0 127.1h1M445.1 141.0h1M445.0 130.3h1M428.1 140.7h1M447.2 131.6h1M439.5 121.3h1M442.0 129.9h1M450.4 121.6h1M452.8 131.0h1M451.1 123.4h1M445.2 139.9h1M443.5 119.6h1M440.4 134.7h1M432.9 119.8h1M444.4 123.6h1M447.5 121.9h1M429.8 124.9h1M453.2 124.2h1M442.7 132.6h1M436.1 138.9h1M444.0 134.1h1M423.4 129.3h1M441.1 136.1h1M453.1 128.8h1M440.8 134.1h1M453.5 124.5h1M447.1 128.9h1M440.4 136.8h1M437.2 122.7h1M447.4 130.5h1M440.9 129.7h1M446.2 127.9h1M448.1 133.8h1M453.1 140.2h1M448.8 129.2h1M443.6 126.3h1M462.7 129.1h1M446.6 140.9h1M433.2 124.5h1M440.0 123.3h1M433.9 126.9h1M451.8 136.2h1M443.0 131.0h1M431.1 136.0h1M445.8 122.6h1M444.2 129.3h1M439.1 123.3h1M438.0 123.7h1M446.0 133.5h1M445.0 129.4h1M439.9 146.1h1M429.7 139.7h1M445.3 131.3h1M439.2 129.1h1M434.5 120.4h1M442.0 118.4h1M448.7 139.1h1M418.7 119.1h1M444.7 132.4h1M443.6 133.9h1M448.0 137.3h1M455.3 131.0h1M448.9 118.6h1M441.9 121.6h1M452.6 148.3h1M446.6 121.0h1M442.0 131.0h1M444.2 139.0h1M452.4 127.1h1M438.9 141.4h1M441.0 120.5h1M433.6 131.3h1M449.2 142.1h1M441.6 127.3h1M454.2 127.4h1M453.0 132.6h1M444.5 129.1h1M444.9 127.3h1M438.1 129.8h1M438.3 133.1h1M443.4 128.9h1M441.4 129.1h1M455.0 130.8h1M438.7 128.6h1M447.5 129.3h1M441.8 128.9h1M444.0 133.8h1M445.9 118.6h1M448.4 139.1h1M451.9 131.9h1M450.9 130.5h1M442.0 119.3h1M437.4 126.4h1M449.3 143.3h1M439.6 133.6h1M444.8 125.0h1M430.8 125.2h1M432.8 128.4h1M441.8 129.5h1M441.6 134.4h1M436.3 137.5h1M431.1 131.3h1M445.5 124.9h1M431.7 135.6h1M438.1 136.7h1M448.2 130.8h1M442.8 138.2h1M445.4 123.8h1M444.0 134.9h1M444.2 132.2h1M441.8 129.9h1M436.3 120.1h1M450.7 126.0h1M444.4 119.6h1M443.9 124.6h1M463.5 123.2h1M436.1 137.8h1M444.6 137.3h1M434.3 135.9h1M439.1 123.3h1M440.4 127.3h1M433.1 147.5h1M439.6 125.2h1M448.7 130.2h1M452.1 128.8h1M445.2 131.5h1M444.0 129.2h1M442.1 143.3h1M438.1 126.7h1M440.4 135.0h1M445.6 137.7h1M433.5 132.7h1M441.6 128.7h1M444.7 131.9h1M432.9 130.1h1M453.6 127.9h1M446.9 129.1h1M437.2 123.9h1M440.0 140.5h1M448.5 125.5h1M449.7 129.8h1M438.0 134.0h1M436.5 119.1h1M446.6 119.5h1M442.6 129.3h1M442.1 130.5h1M436.6 130.3h1M449.7 125.5h1M444.6 122.3h1M445.5 135.5h1M460.0 137.5h1M445.8 141.2h1M435.9 138.7h1M439.1 126.2h1M450.4 132.5h1M452.0 120.1h1M444.7 126.9h1M449.3 132.4h1M436.0 120.9h1M436.9 141.2h1M442.2 128.4h1M446.3 130.9h1M444.5 136.4h1M445.2 137.4h1M434.7 131.3h1M440.5 131.7h1M442.6 126.2h1M440.5 137.9h1M439.1 121.7h1M447.0 138.1h1M441.1 131.9h1M437.2 129.4h1M450.5 136.8h1M444.0 128.9h1M431.8 133.3h1M446.1 138.7h1M456.8 133.7h1M449.5 122.8h1M451.2 137.4h1M452.3 136.0h1M446.1 141.9h1M438.5 135.7h1M450.4 125.3h1M435.1 134.2h1M443.9 135.5h1M447.4 125.4h1M445.4 139.3h1M440.6 129.0h1M435.4 137.0h1M456.4 121.1h1M448.3 137.7h1M439.3 128.4h1M436.0 125.4h1M444.2 135.9h1M443.9 137.4h1M444.5 122.6h1M453.0 139.8h1M438.3 144.1h1M446.3 132.1h1M432.2 136.3h1M441.5 124.2h1M453.4 134.7h1M434.4 126.3h1M448.9 144.2h1M429.5 133.0h1M440.6 118.4h1M442.0 119.5h1M439.5 143.0h1M446.7 136.9h1M447.3 133.8h1M449.8 122.7h1M440.8 137.5h1M438.2 128.0h1M451.5 142.5h1M439.1 125.3h1M447.2 133.2h1M438.7 135.6h1M447.0 131.9h1M463.3 141.2h1M448.8 138.8h1M463.5 139.3h1M438.4 133.6h1M443.8 127.1h1M445.1 133.1h1M442.9 127.7h1M449.0 119.6h1M448.9 131.4h1M454.8 118.6h1M437.4 136.0h1M439.1 128.3h1M428.0 128.1h1M444.8 136.3h1M441.3 132.9h1M446.3 126.4h1M438.2 145.7h1M437.5 140.4h1M443.8 142.1h1M438.9 135.1h1M445.6 129.7h1M445.4 125.7h1M442.8 128.4h1M448.5 130.7h1M433.8 128.6h1M442.6 124.7h1M452.4 134.3h1M449.1 125.7h1M440.6 138.8h1M433.5 134.0h1M443.9 127.7h1M443.9 123.4h1M444.9 122.4h1M434.6 141.6h1M450.0 125.7h1M419.1 130.9h1M449.7 133.9h1M455.1 130.4h1M447.4 123.9h1M444.4 142.6h1M446.8 132.5h1M429.7 128.6h1M434.5 137.1h1M438.2 134.0h1M436.4 145.3h1M435.3 132.4h1M461.4 132.9h1M437.3 135.9h1M450.2 137.8h1M429.8 133.0h1M428.7 145.4h1M443.8 127.9h1M448.0 135.0h1M435.2 143.4h1M441.7 118.4h1M453.0 142.7h1M452.0 135.4h1M437.2 138.3h1M456.2 137.4h1M454.4 125.6h1M450.4 138.3h1M433.0 119.3h1M438.4 132.0h1M446.5 129.7h1M442.9 130.5h1M444.0 135.7h1M446.8 131.0h1M445.2 128.0h1M448.9 127.6h1M454.8 131.2h1M445.3 125.7h1M441.0 132.6h1M443.5 126.8h1M435.3 131.7h1M444.4 135.5h1M452.0 129.1h1M429.5 130.3h1M430.5 121.8h1M450.5 135.6h1M438.9 126.7h1M442.8 118.3h1M446.7 128.8h1M456.2 123.5h1M450.4 126.3h1M450.5 124.1h1M448.5 128.1h1M437.6 130.3h1M446.7 134.4h1M454.4 137.5h1M425.0 128.4h1M429.5 128.6h1M447.7 121.4h1M435.2 132.5h1M441.4 143.2h1M445.6 135.4h1M455.6 127.7h1M443.4 124.0h1M445.2 139.2h1M452.9 131.2h1M438.4 125.7h1M433.7 132.3h1M428.2 141.9h1M432.2 133.9h1M434.6 137.3h1M448.9 132.7h1M449.2 131.8h1M447.4 145.1h1M451.1 126.5h1M437.8 129.7h1M441.8 132.0h1M439.2 136.4h1M443.7 134.2h1M443.5 136.1h1M435.1 143.3h1M445.9 134.9h1M447.8 139.6h1M448.6 133.3h1M442.2 119.2h1M445.0 129.2h1M441.3 149.6h1M430.5 132.0h1M452.0 138.8h1M452.2 122.1h1M436.8 136.2h1M441.5 144.4h1M445.1 133.1h1M446.6 129.6h1M444.4 126.5h1M443.3 128.0h1M445.4 121.0h1M433.1 135.1h1M445.2 124.4h1M442.0 123.8h1M457.9 119.9h1M455.6 125.5h1M446.5 129.7h1M440.9 138.7h1M449.3 129.5h1M437.2 147.2h1M453.4 132.7h1M441.5 133.9h1M444.2 140.6h1M436.9 131.8h1M438.1 141.5h1M456.2 131.0h1M447.4 142.2h1M441.5 124.7h1M450.9 135.5h1M442.2 142.6h1M445.3 118.3h1M446.1 131.2h1M456.8 131.6h1M442.2 135.0h1M445.4 121.1h1M444.5 129.2h1M453.5 149.7h1M435.8 124.4h1M437.7 126.8h1M438.8 132.1h1M451.3 121.9h1M451.4 141.6h1M432.9 119.5h1M444.6 139.9h1M450.8 133.2h1M448.4 134.2h1M439.8 146.0h1M443.6 123.4h1M440.4 120.1h1M443.8 139.9h1M434.8 140.2h1M458.3 134.5h1M435.6 125.3h1M441.3 122.1h1M434.9 129.8h1M442.4 136.3h1M435.3 145.8h1M451.1 138.4h1M439.1 144.8h1M441.3 145.3h1M451.2 125.0h1M440.5 145.8h1M450.7 130.5h1M445.1 133.2h1M438.3 130.2h1M439.0 128.5h1M446.9 124.5h1M448.8 132.5h1M449.0 138.4h1M452.4 136.4h1M448.6 130.4h1M447.7 124.9h1M441.9 137.3h1M443.3 135.1h1M436.3 142.0h1M439.6 134.7h1M443.5 138.7h1M441.0 124.2h1M430.4 129.4h1M435.3 135.7h1M434.6 134.0h1M452.3 134.0h1M445.9 135.5h1M447.7 144.1h1M448.0 122.4h1M440.3 133.3h1M438.0 129.7h1M440.0 126.4h1M448.5 128.8h1M436.0 126.3h1M443.9 147.6h1M445.5 142.9h1M446.3 125.3h1M434.1 123.6h1M456.2 119.8h1M439.3 140.4h1M448.3 118.8h1M442.9 127.8h1M442.3 137.4h1M439.6 129.3h1M441.0 135.2h1M434.9 126.9h1M434.4 132.9h1M439.3 137.6h1M450.8 132.0h1M441.0 133.7h1M444.0 122.5h1M451.2 133.4h1M449.2 121.4h1M449.8 147.6h1M448.0 120.7h1M443.9 131.2h1M445.2 129.9h1M447.1 128.2h1M445.2 126.5h1M444.3 139.2h1M440.2 136.7h1M437.4 128.8h1M441.9 141.1h1M438.2 140.9h1M433.3 130.5h1M450.1 136.9h1M436.5 122.4h1M449.8 122.1h1M447.7 127.7h1M443.5 149.2h1M454.6 138.0h1M433.9 134.1h1M444.0 130.9h1M453.0 118.6h1M445.8 132.6h1M438.3 144.7h1M434.6 131.8h1M433.5 124.3h1M449.2 138.8h1M447.8 133.4h1M428.0 133.2h1M439.9 140.5h1M453.1 148.6h1M448.6 137.8h1M436.3 132.2h1M434.8 138.4h1M435.1 130.0h1M437.7 128.0h1M446.8 127.3h1M445.1 124.0h1M453.4 126.7h1M450.7 147.8h1M426.2 124.0h1M442.1 140.5h1M440.1 134.5h1M438.3 135.8h1M434.9 137.9h1M456.5 132.9h1M437.1 148.3h1M451.0 140.2h1M440.5 136.3h1M447.1 118.9h1M447.7 130.1h1M452.7 141.5h1M438.9 126.9h1M444.9 136.5h1M440.6 130.7h1M447.9 134.8h1M451.8 133.4h1M449.3 129.0h1M441.0 129.3h1M432.2 128.5h1M424.9 128.4h1M437.1 145.6h1M446.7 129.9h1M444.6 137.1h1M438.1 129.7h1M440.9 150.6h1M449.2 151.4h1M443.0 139.2h1M439.4 129.4h1M434.6 123.4h1M428.0 140.3h1M435.2 134.3h1M445.8 126.5h1M443.8 130.7h1M439.9 131.9h1M443.8 123.6h1M434.1 124.9h1M444.3 142.1h1M454.0 133.9h1M450.3 132.4h1M451.4 132.4h1M446.3 129.3h1M443.4 146.1h1M434.8 131.5h1M439.1 138.9h1M456.5 129.0h1M423.4 136.2h1M447.9 118.4h1M441.7 130.9h1M426.7 136.7h1M446.6 133.3h1M435.7 125.9h1M438.8 135.1h1M436.3 142.8h1M455.6 132.6h1M439.4 132.2h1M430.1 132.9h1M425.5 123.4h1M453.2 141.2h1M440.9 123.8h1M450.1 131.0h1M444.9 136.2h1M435.5 137.5h1M427.9 142.8h1M431.9 126.5h1M438.5 137.0h1M448.7 134.1h1M447.3 135.0h1M442.9 129.5h1M442.3 133.1h1M441.6 123.5h1M452.1 138.4h1M433.4 129.1h1M446.5 143.8h1M438.9 132.6h1M437.9 131.0h1M438.0 147.8h1M449.6 132.8h1M436.2 138.0h1M447.9 127.2h1M440.0 119.8h1M442.7 138.0h1M450.5 135.8h1M449.2 126.6h1M439.8 140.7h1M446.5 125.0h1M446.9 137.7h1M448.4 132.1h1M439.4 134.3h1M455.6 132.4h1M438.3 133.9h1M434.2 133.0h1M441.0 138.7h1M443.9 139.4h1M460.0 129.5h1M437.1 134.8h1M442.5 132.3h1M438.8 135.5h1M441.4 133.8h1M451.8 126.7h1M437.3 140.1h1M438.7 132.0h1M446.6 136.9h1M443.2 122.5h1M450.5 127.8h1M439.4 146.8h1M449.5 122.9h1M439.6 129.2h1M449.0 137.2h1M444.9 128.0h1M444.7 136.1h1M435.6 128.6h1M439.1 136.6h1M445.0 121.0h1M438.7 144.9h1M436.1 132.3h1M438.6 140.8h1M442.7 127.7h1M434.6 129.2h1M449.1 136.4h1M433.5 143.3h1M441.3 122.9h1M444.0 126.3h1M438.9 126.2h1M442.4 127.2h1M430.7 135.2h1M439.3 140.4h1M447.0 135.9h1M444.4 141.2h1M440.7 123.4h1M440.4 132.8h1M440.1 140.8h1M448.2 132.0h1M440.2 139.6h1M438.2 127.9h1M448.5 135.7h1M457.8 129.4h1M429.5 136.2h1M452.2 129.8h1M454.3 144.9h1M438.2 127.3h1M434.0 135.3h1M448.2 135.7h1M434.1 125.1h1M432.7 118.6h1M433.3 118.8h1M441.7 134.3h1M447.5 130.9h1M438.2 130.9h1M447.1 128.7h1M443.4 128.7h1M439.2 131.3h1M435.0 139.1h1M431.7 134.6h1M433.2 142.7h1M449.3 124.7h1M439.8 122.3h1M442.6 134.2h1M461.4 120.4h1M451.9 126.5h1M445.0 137.8h1M446.9 134.3h1M441.6 130.9h1M444.1 140.3h1M432.4 127.2h1M434.0 123.6h1M437.3 139.5h1M458.4 141.5h1M434.5 131.6h1M434.8 134.4h1M452.2 135.5h1M449.3 129.9h1M442.3 135.4h1M452.1 128.3h1M443.5 133.0h1M450.6 130.5h1M435.1 139.3h1M446.0 133.9h1M433.9 130.9h1M441.3 127.6h1M447.1 142.1h1M442.7 144.8h1M438.8 136.9h1M433.9 132.0h1M440.7 129.4h1M443.8 124.7h1M443.8 134.0h1M440.3 128.1h1M434.7 135.2h1M438.2 134.4h1M432.8 141.5h1M435.7 139.9h1M439.8 135.2h1M442.0 136.2h1M443.0 140.8h1M447.8 136.2h1M455.0 125.6h1M452.3 131.5h1M432.4 134.7h1M441.5 144.0h1M439.5 131.4h1M446.6 123.4h1M453.1 143.8h1M442.9 118.8h1M444.3 132.4h1M448.2 128.7h1M434.5 129.9h1M436.4 144.6h1M437.9 126.0h1M442.7 121.5h1M439.8 130.0h1M439.5 129.1h1M451.9 134.3h1M433.4 127.7h1M448.4 126.0h1M443.6 130.8h1M446.8 129.6h1M442.0 124.4h1M445.6 123.9h1M455.4 130.8h1M441.4 137.1h1M442.4 131.7h1M442.6 125.4h1M436.4 125.6h1M451.1 126.2h1M440.1 127.5h1M448.0 146.2h1M436.4 135.2h1M443.9 128.7h1M446.6 121.2h1M449.0 132.7h1M435.9 143.2h1M449.1 139.9h1M432.6 128.9h1M439.3 135.8h1M443.1 130.0h1M450.2 130.7h1M433.9 129.5h1M435.6 125.0h1M443.3 127.3h1M445.0 119.4h1M459.6 140.7h1M448.1 121.1h1M427.5 124.4h1M441.3 148.1h1M452.4 127.0h1M451.6 140.4h1M443.1 140.3h1M445.4 126.0h1M434.6 130.1h1M450.1 120.6h1M431.5 135.2h1M423.6 145.0h1M439.9 136.6h1M456.3 119.9h1M435.5 148.2h1M441.0 130.0h1M444.6 139.1h1M452.5 131.8h1M440.6 130.7h1M445.2 141.0h1M444.0 145.0h1M436.9 135.1h1M455.6 140.9h1M445.4 124.2h1M437.9 129.8h1M445.2 129.1h1M432.6 125.3h1M446.7 137.4h1M433.0 128.2h1M431.0 126.7h1M468.4 131.5h1M440.5 126.5h1M442.7 128.9h1M453.6 118.5h1M446.1 141.3h1M429.0 136.0h1M431.5 135.0h1M453.6 131.0h1M445.1 125.7h1M445.1 139.7h1M441.7 129.9h1M445.8 137.3h1M431.3 131.5h1M438.1 134.8h1M450.4 133.4h1M452.2 123.4h1M440.1 123.4h1M443.4 131.7h1M441.6 121.7h1M442.5 127.6h1M447.3 128.9h1M451.3 132.8h1M429.7 129.7h1M432.8 138.4h1M453.3 130.8h1M446.2 119.9h1M426.9 126.7h1M441.2 119.4h1M443.7 133.4h1M447.6 142.9h1M448.8 128.2h1M443.8 135.6h1M435.5 141.2h1M449.5 129.3h1M449.0 138.2h1M455.9 138.6h1M444.5 136.4h1M436.5 136.5h1M432.0 134.3h1M447.0 119.1h1M456.8 122.2h1M450.5 127.0h1M445.3 126.0h1M460.9 139.0h1M456.0 137.1h1M448.1 132.3h1M441.4 135.8h1M444.3 130.0h1M433.3 128.8h1M447.5 127.5h1M445.6 130.1h1M435.7 124.2h1M437.8 128.9h1M441.3 139.8h1M448.1 127.7h1M442.3 150.8h1M453.7 135.7h1M450.0 132.1h1M450.1 126.5h1M438.1 127.6h1M454.5 143.2h1M438.8 140.1h1M442.1 139.5h1M440.9 138.6h1M442.4 129.0h1M443.1 132.5h1M439.1 120.7h1M455.4 128.2h1M423.1 126.5h1M453.0 118.7h1M451.2 134.1h1M445.6 141.7h1M455.1 139.2h1M439.1 121.1h1M456.3 129.8h1M444.2 132.8h1M457.8 127.0h1M451.8 133.6h1M449.9 125.6h1M440.0 133.1h1M444.0 140.0h1M438.5 132.6h1M445.3 131.5h1M448.2 129.4h1M452.0 125.8h1M432.9 131.0h1M451.8 127.3h1M438.8 128.6h1M444.5 130.0h1M454.1 135.8h1M437.1 141.9h1M446.5 142.7h1M434.8 144.1h1M448.7 129.0h1M436.0 129.7h1M429.3 135.8h1M441.7 129.2h1M453.5 131.6h1M438.5 124.0h1M442.9 139.5h1M439.1 123.3h1M449.9 131.8h1M443.1 147.4h1M434.5 132.9h1M430.5 129.0h1M447.5 140.0h1M434.1 137.8h1M448.9 130.4h1M461.0 131.3h1M436.9 134.6h1M429.9 143.4h1M450.4 128.2h1M447.7 135.5h1M457.2 126.6h1M441.2 119.2h1M442.0 134.5h1M440.1 124.0h1M451.9 129.8h1M445.0 138.7h1M433.9 124.2h1M461.3 130.1h1M435.8 129.3h1M439.2 121.8h1M440.3 131.2h1M443.2 135.5h1M430.8 119.8h1M449.0 127.9h1M452.1 133.7h1M433.1 135.5h1M436.0 133.3h1M452.1 147.6h1M442.8 136.7h1M445.5 137.4h1M424.9 128.3h1M445.4 134.9h1M437.9 137.7h1M451.2 131.9h1M441.7 128.6h1M444.3 140.4h1M454.1 127.7h1M436.6 125.2h1M450.4 133.0h1M445.4 135.0h1M446.0 130.4h1M435.8 126.6h1M444.2 134.3h1M440.6 128.1h1M453.1 127.7h1M444.9 128.9h1M437.1 119.6h1M439.4 125.0h1M449.4 122.5h1M440.3 136.3h1M442.5 135.1h1M449.3 118.6h1M440.3 123.9h1M453.0 130.4h1M446.8 144.3h1M440.7 131.9h1M446.2 129.3h1M452.3 137.6h1M450.5 131.7h1M440.8 128.6h1M440.7 118.7h1M445.9 137.5h1M443.2 127.5h1M443.5 133.0h1M445.6 145.0h1M437.2 134.1h1M448.2 131.9h1M441.6 123.5h1M439.0 136.7h1M453.6 126.3h1M446.6 135.3h1M450.4 133.2h1M446.4 138.1h1M435.0 131.6h1M437.4 119.6h1M446.9 138.8h1M441.1 130.2h1M441.6 129.3h1M444.2 133.9h1M440.0 125.3h1M439.6 137.3h1M440.3 142.3h1M425.3 290.4h1M426.5 287.2h1M415.8 298.3h1M423.1 291.3h1M432.0 282.7h1M429.3 286.7h1M424.1 295.1h1M426.4 292.9h1M414.9 297.9h1M423.8 289.1h1M423.2 287.9h1M415.3 295.6h1M422.1 292.0h1M422.6 289.2h1M418.6 294.4h1M429.3 278.4h1M411.1 298.2h1M428.5 283.6h1M413.5 297.2h1M413.5 297.1h1M421.7 292.5h1M415.3 294.9h1M430.6 291.7h1M426.1 292.0h1M416.5 303.5h1M422.6 294.5h1M416.7 296.2h1M430.0 291.7h1M414.7 295.6h1M419.9 286.0h1M436.0 287.5h1M420.2 291.6h1M415.2 297.1h1M429.9 290.2h1M425.4 288.1h1M420.4 292.6h1M411.8 294.7h1M426.3 293.8h1M427.3 283.6h1M434.3 280.4h1M422.1 296.1h1M431.1 289.7h1M427.5 288.2h1M419.1 292.4h1M418.1 295.4h1M434.0 286.5h1M422.7 294.4h1M416.5 296.1h1M417.0 296.8h1M421.0 291.7h1M429.2 285.2h1M423.0 291.4h1M423.2 294.3h1M414.7 296.6h1M424.3 292.5h1M434.2 292.0h1M413.0 294.7h1M419.4 296.4h1M415.5 293.7h1M418.2 292.7h1M432.2 290.4h1M415.0 295.1h1M414.0 295.2h1M433.9 288.4h1M416.4 300.8h1M423.5 290.4h1M424.9 291.1h1M415.8 294.1h1M429.0 287.4h1M415.6 296.5h1M413.2 295.2h1M414.6 297.7h1M429.7 285.4h1M419.0 294.4h1M415.7 295.9h1M418.5 295.3h1M415.9 291.6h1M426.0 291.8h1M414.6 297.8h1M416.1 292.8h1M424.4 288.2h1M425.8 290.4h1M431.6 281.8h1M412.4 297.0h1M422.9 292.0h1M421.9 291.4h1M416.5 293.8h1M417.3 295.2h1M430.6 286.9h1M430.0 287.0h1M422.8 293.1h1M427.1 288.6h1M413.9 301.1h1M415.0 299.8h1M422.8 292.9h1M411.2 298.5h1M434.7 285.6h1M416.2 295.6h1M414.6 297.0h1M425.6 291.2h1M423.6 289.7h1M422.6 291.0h1M421.1 285.6h1M416.5 295.5h1M418.7 302.5h1M422.2 291.0h1M415.8 292.6h1M425.3 289.6h1M427.1 288.6h1M413.7 297.7h1M426.7 292.4h1M413.4 295.4h1M428.3 286.0h1M423.3 285.7h1M431.4 284.8h1M431.1 288.3h1M425.8 289.7h1M429.1 287.0h1M420.6 292.7h1M413.5 291.0h1M429.2 284.4h1M431.6 288.6h1M420.4 293.2h1M435.5 285.2h1M424.8 290.0h1M418.1 296.7h1M415.8 297.5h1M421.5 291.5h1M423.1 291.9h1M416.9 296.3h1M419.3 293.5h1M424.5 296.6h1M431.6 284.7h1M417.0 297.7h1M426.0 290.4h1M412.7 298.9h1M425.1 296.3h1M415.3 296.2h1M430.3 291.3h1M427.1 292.3h1M418.3 292.6h1M425.6 289.9h1M427.9 291.3h1M419.3 295.2h1M429.6 282.7h1M430.4 285.0h1M421.5 298.3h1M414.5 296.5h1M427.5 287.1h1M424.4 291.7h1M419.6 295.3h1M412.5 297.9h1M420.3 298.2h1M415.6 296.9h1M422.7 292.2h1M414.4 297.9h1M425.6 292.7h1M426.9 286.7h1M426.1 288.5h1M433.1 288.2h1M430.5 288.5h1M415.1 295.2h1M421.9 292.7h1M418.4 293.7h1M429.2 292.0h1M425.9 290.9h1M411.9 295.9h1M423.9 293.0h1M425.5 293.8h1M431.1 294.9h1M432.3 286.1h1M415.4 298.4h1M416.5 295.0h1M415.9 294.1h1M418.9 294.8h1M432.2 289.9h1M416.0 298.9h1M409.2 293.8h1M423.5 292.0h1M418.5 299.1h1M430.7 287.7h1M422.7 288.4h1M418.5 296.9h1M423.5 290.8h1M426.7 284.4h1M421.8 290.9h1M421.2 290.9h1M432.1 286.4h1M424.2 291.6h1M429.9 285.7h1M414.2 297.1h1M424.3 292.6h1M415.4 297.4h1M429.5 289.9h1M436.5 288.6h1M415.0 292.8h1M433.6 282.5h1M427.8 288.9h1M418.2 292.1h1M416.5 294.8h1M430.0 288.1h1M424.9 289.3h1M429.6 291.6h1M432.6 285.7h1M430.7 288.2h1M421.2 289.4h1M429.0 287.6h1M429.7 291.8h1M413.0 296.8h1M415.8 298.3h1M415.8 300.0h1M427.2 288.6h1M433.8 288.0h1M426.9 287.4h1M418.8 294.7h1M413.5 300.6h1M430.0 284.7h1M416.5 294.6h1M423.1 289.9h1M415.8 299.0h1M425.1 291.0h1M420.5 293.3h1M431.8 286.2h1M421.6 293.7h1M420.1 293.1h1M424.4 289.8h1M423.8 291.5h1M424.6 290.3h1M434.9 286.6h1M424.7 292.8h1M429.7 288.0h1M429.8 282.6h1M417.1 294.2h1M417.1 296.2h1M430.4 294.0h1M418.1 293.8h1M423.9 293.1h1M430.4 292.4h1M426.2 291.7h1M417.3 297.5h1M422.8 291.8h1M423.3 290.8h1M422.1 293.4h1M421.6 289.1h1M413.6 299.3h1M417.5 295.4h1M417.5 295.3h1M421.5 294.7h1M424.6 290.5h1M418.0 296.8h1M410.5 297.8h1M421.0 288.8h1M427.5 289.8h1M420.1 293.1h1M428.8 285.8h1M417.6 295.8h1M427.8 290.2h1M413.9 297.4h1M419.2 296.3h1M421.8 293.0h1M417.5 295.0h1M419.6 296.3h1M428.7 289.9h1M418.4 289.8h1M431.1 288.5h1M417.5 298.6h1M428.7 293.8h1M420.0 292.5h1M417.7 294.3h1M419.7 290.8h1M432.4 290.9h1M425.3 286.6h1M414.5 291.6h1M413.4 296.8h1M414.8 289.5h1M414.0 295.7h1M425.2 288.3h1M421.7 294.4h1M423.2 292.0h1M430.0 288.2h1M431.4 289.6h1M411.5 298.4h1M413.9 289.9h1M410.2 296.7h1M425.4 284.9h1M425.5 297.7h1M422.4 293.4h1M425.4 289.4h1M419.7 291.2h1M426.3 289.0h1M417.8 298.4h1M412.3 299.2h1M433.0 285.4h1M413.4 299.7h1M427.8 289.9h1M420.8 291.7h1M422.7 290.1h1M425.3 288.2h1M419.2 293.2h1M417.9 296.7h1M436.1 289.0h1M413.2 299.8h1M431.2 284.7h1M420.4 291.5h1M424.7 288.2h1M425.6 283.9h1M419.7 295.7h1M420.2 295.5h1M425.4 293.4h1M418.7 295.4h1M416.1 296.2h1M412.1 298.7h1M431.4 286.6h1M424.3 286.2h1M433.0 287.6h1M419.9 293.3h1M425.8 287.9h1M421.3 297.7h1M428.5 285.8h1M422.4 293.3h1M430.0 288.8h1M425.6 291.4h1M416.3 293.1h1M415.3 297.8h1M423.3 293.5h1M431.7 285.0h1M431.7 283.6h1M426.8 291.7h1M422.7 295.4h1M423.0 290.9h1M428.0 287.0h1M429.0 290.8h1M419.9 297.2h1M428.8 284.3h1M429.0 288.1h1M419.5 292.4h1M419.1 298.2h1M430.4 288.1h1M418.0 293.0h1M428.5 289.2h1M428.3 286.7h1M423.8 291.9h1M424.8 292.3h1M414.7 294.0h1M419.0 292.6h1M425.8 291.4h1M420.9 294.3h1M434.5 286.2h1M430.2 286.2h1M416.1 294.8h1M418.1 296.1h1M424.8 293.7h1M416.7 293.5h1M412.6 294.3h1M423.7 293.4h1M418.7 298.7h1M421.3 296.2h1M417.6 296.1h1M425.1 289.4h1M413.8 301.9h1M426.8 291.9h1M432.1 287.6h1M423.7 288.8h1M410.6 296.2h1M424.6 288.2h1M421.8 292.4h1M419.4 293.1h1M425.2 285.5h1M411.7 295.2h1M425.4 287.7h1M415.3 297.7h1M416.3 295.0h1M414.1 295.4h1M412.0 294.7h1M423.8 286.0h1M424.0 293.1h1M422.4 292.1h1M421.7 294.1h1M426.4 289.4h1M424.1 292.1h1M420.3 290.5h1M434.2 290.1h1M414.9 302.2h1M423.1 288.7h1M429.2 290.5h1M430.3 286.2h1M420.8 292.0h1M421.5 298.5h1M428.9 288.2h1M420.4 294.5h1M422.0 292.8h1M425.7 291.6h1M429.1 287.3h1M413.6 292.9h1M429.4 289.5h1M414.8 295.9h1M429.6 286.2h1M417.6 293.2h1M421.9 290.0h1M417.2 289.9h1" stroke="#000" stroke-opacity="0.65" stroke-width="1" fill="none"/><path d="M105.5 259.8h1M85.2 254.8h1M105.3 247.6h1M90.1 254.8h1M98.0 250.9h1M112.3 257.9h1M104.5 252.4h1M98.3 257.3h1M99.3 259.8h1M108.4 249.6h1M106.3 259.1h1M104.1 248.8h1M98.1 252.2h1M101.0 253.4h1M98.3 257.3h1M109.3 249.7h1M90.3 256.4h1M100.6 255.2h1M95.7 255.3h1M94.7 258.9h1M111.5 248.0h1M82.1 254.0h1M96.9 254.8h1M100.9 255.5h1M119.0 248.5h1M98.1 255.7h1M88.1 258.6h1M95.4 248.1h1M94.9 256.4h1M107.1 257.9h1M103.2 250.1h1M104.4 252.7h1M115.6 242.7h1M112.2 255.2h1M103.4 252.8h1M96.2 250.1h1M91.0 263.6h1M107.6 255.5h1M102.1 245.3h1M98.8 254.4h1M108.2 248.3h1M102.5 252.4h1M100.5 250.3h1M103.3 253.6h1M88.5 260.5h1M115.5 247.8h1M108.2 248.4h1M98.2 261.5h1M103.1 259.8h1M103.5 257.6h1M100.5 259.8h1M113.7 254.8h1M96.8 252.7h1M94.7 257.1h1M104.1 250.3h1M107.0 250.4h1M114.0 255.4h1M111.6 249.2h1M93.0 247.1h1M104.8 248.4h1M110.4 253.0h1M105.6 247.7h1M97.0 255.1h1M105.4 247.7h1M102.9 250.0h1M106.5 252.0h1M99.2 255.8h1M108.9 251.6h1M108.9 248.4h1M102.4 248.8h1M102.0 249.8h1M101.7 256.3h1M93.3 247.4h1M100.1 256.1h1M102.1 249.7h1M106.6 251.7h1M105.8 249.3h1M104.7 258.2h1M96.3 253.2h1M105.6 255.3h1M103.4 252.9h1M90.2 255.2h1M92.1 255.3h1M85.7 261.9h1M114.3 253.7h1M94.9 253.3h1M107.4 255.6h1M96.8 259.3h1M106.2 255.2h1M98.5 254.0h1M96.1 255.2h1M97.1 259.2h1M101.3 254.5h1M103.4 254.7h1M91.9 260.3h1M101.3 251.3h1M93.8 251.8h1M96.7 254.3h1M95.0 255.0h1M101.5 250.7h1M116.0 251.0h1M103.2 253.8h1M100.1 256.6h1M110.3 252.0h1M95.2 256.7h1M86.1 256.4h1M99.7 255.2h1M90.2 253.3h1M93.4 252.4h1M104.7 252.2h1M97.3 259.0h1M99.6 245.2h1M93.7 256.3h1M103.7 254.0h1M101.9 249.6h1M99.2 248.7h1M94.3 250.6h1M94.5 252.9h1M98.4 250.4h1M107.5 250.6h1M111.5 256.1h1M92.6 258.2h1M91.6 260.7h1M101.9 249.0h1M85.0 253.9h1M91.6 259.2h1M91.5 253.6h1M103.5 252.9h1M101.7 252.1h1M104.5 248.8h1M103.2 247.8h1M100.6 248.5h1M99.0 255.9h1M107.4 244.7h1M94.2 250.0h1M107.8 248.6h1M104.5 250.5h1M90.2 255.1h1M92.6 257.4h1M106.4 257.9h1M93.9 260.7h1M105.5 245.0h1M116.0 258.1h1M93.0 255.6h1M90.7 254.0h1M101.5 255.6h1M94.3 253.9h1M93.8 255.7h1M104.5 252.9h1M108.2 255.3h1M103.1 257.7h1M91.4 254.3h1M87.8 254.9h1M97.2 257.1h1M96.5 251.1h1M99.2 252.8h1M102.9 249.2h1M88.7 248.2h1M107.1 247.0h1M96.1 249.2h1M105.6 250.1h1M107.9 249.2h1M102.4 256.1h1M105.9 247.4h1M97.4 253.3h1M87.8 258.0h1M102.9 255.0h1M90.5 255.4h1M103.5 257.1h1M96.8 256.6h1M113.2 249.6h1M96.9 252.3h1M89.5 253.2h1M110.6 247.9h1M99.3 258.4h1M104.0 253.7h1M97.6 253.1h1M100.4 256.1h1M101.1 257.1h1M87.7 258.5h1M96.4 253.9h1M97.5 256.3h1M99.5 256.0h1M94.6 254.9h1M109.0 256.7h1M97.6 254.2h1M97.4 253.2h1M100.8 258.3h1M104.8 258.7h1M109.8 246.6h1M101.9 251.2h1M88.3 250.4h1M97.5 260.7h1M100.5 252.5h1M99.4 250.3h1M101.2 252.8h1M88.6 252.7h1M123.3 252.7h1M99.8 256.1h1M93.5 254.6h1M105.1 245.9h1M94.8 252.4h1M97.8 251.5h1M102.5 257.2h1M103.0 257.2h1M106.8 249.9h1M101.7 251.5h1M104.3 251.3h1M99.8 260.4h1M98.0 247.1h1M101.0 254.4h1M96.7 254.1h1M106.7 250.2h1M98.4 250.6h1M102.2 252.5h1M93.7 253.6h1M111.5 244.7h1M90.9 256.0h1M91.8 262.6h1M89.2 249.5h1M97.2 258.2h1M105.9 254.9h1M102.9 258.3h1M87.9 256.2h1M109.2 247.6h1M103.0 258.0h1M108.5 251.6h1M113.0 253.6h1M106.7 248.0h1M94.6 251.0h1M110.7 242.2h1M88.1 258.3h1M99.4 241.2h1M97.3 252.5h1M107.2 244.4h1M97.1 258.2h1M104.7 248.9h1M97.3 247.6h1M109.1 250.3h1M109.2 255.4h1M94.1 253.6h1M104.8 254.5h1M111.1 256.4h1M102.7 255.8h1M95.0 251.6h1M104.4 254.2h1M92.7 254.1h1M94.5 251.9h1M108.3 248.3h1M96.1 256.3h1M100.8 254.0h1M90.5 254.6h1M97.2 250.5h1M96.3 252.7h1M106.9 260.2h1M101.8 259.3h1M100.2 247.3h1M101.4 258.5h1M109.1 248.5h1M114.8 248.3h1M95.1 252.0h1M110.2 253.7h1M105.1 243.6h1M99.9 253.0h1M104.7 250.9h1M107.9 249.5h1M90.0 248.1h1M109.2 255.3h1M95.7 258.6h1M99.1 253.1h1M90.2 252.6h1M101.2 254.2h1M97.1 258.0h1M109.5 248.8h1M102.2 246.9h1M102.6 249.2h1M99.4 254.3h1M99.3 257.9h1M94.9 252.3h1M102.5 253.0h1M101.9 252.4h1M95.3 256.9h1M101.4 257.0h1M109.1 250.8h1M95.2 252.3h1M94.9 246.1h1M111.6 253.6h1M115.7 249.0h1M104.5 254.0h1M100.5 257.5h1M100.4 253.2h1M100.2 244.4h1M95.2 251.2h1M111.8 254.3h1M106.0 255.3h1M100.1 260.3h1M98.2 248.0h1M105.3 257.6h1M101.3 254.8h1M107.7 258.7h1M105.3 259.7h1M103.6 261.6h1M91.8 258.6h1M102.4 253.7h1M92.5 259.0h1M98.6 249.7h1M96.1 253.2h1M100.6 249.8h1M94.5 256.0h1M101.1 261.4h1M98.1 256.9h1M112.0 251.1h1M107.2 253.8h1M101.7 259.9h1M93.5 252.0h1M88.6 254.7h1M106.9 251.6h1M105.5 249.7h1M108.0 252.0h1M98.2 260.5h1M100.7 255.8h1M101.7 256.2h1M100.6 248.6h1M102.6 255.1h1M102.9 252.2h1M112.1 248.9h1M101.4 254.2h1M92.6 249.7h1M105.2 255.6h1M100.5 247.0h1M98.7 254.7h1M105.2 257.7h1M104.0 256.9h1M110.2 242.6h1M106.8 250.8h1M103.8 253.9h1M93.1 250.8h1M103.2 252.4h1M105.1 251.3h1M114.6 250.5h1M113.8 248.5h1M104.8 257.4h1M91.2 250.8h1M103.8 257.7h1M109.8 254.4h1M106.7 247.9h1M98.4 259.6h1M96.6 253.0h1M88.8 254.3h1M90.0 256.4h1M110.3 253.3h1M101.3 251.7h1M103.4 248.5h1M98.5 262.5h1M91.4 252.4h1M91.8 259.7h1M98.1 248.6h1M92.7 259.0h1M105.3 256.0h1M100.4 257.1h1M109.4 254.9h1M88.6 247.1h1M90.7 255.9h1M89.7 250.5h1M100.0 249.9h1M92.3 258.4h1M103.9 256.1h1M107.1 258.3h1M99.8 252.7h1M88.3 254.0h1M96.7 258.1h1M105.4 258.6h1M108.0 257.1h1M103.7 253.4h1M97.5 253.6h1M94.0 255.8h1M98.4 245.3h1M81.7 252.9h1M96.8 252.5h1M108.3 249.6h1M91.8 256.0h1M107.6 258.9h1M93.1 253.2h1M98.0 259.7h1M104.6 252.7h1M104.6 251.2h1M98.6 253.3h1M96.5 252.7h1M102.4 253.9h1M110.3 255.3h1M98.2 244.6h1M89.8 252.6h1M96.6 248.4h1M97.5 254.1h1M95.6 253.3h1M98.9 250.5h1M94.1 253.5h1M101.0 248.8h1M85.8 251.3h1M102.3 246.3h1M105.6 250.0h1M100.2 250.0h1M103.7 252.9h1M101.2 245.1h1M103.6 245.9h1M97.9 255.6h1M98.8 255.4h1M100.9 253.4h1M95.0 257.9h1M106.9 250.0h1M94.0 254.8h1M94.8 254.4h1M105.5 255.1h1M109.7 253.6h1M92.4 250.8h1M104.3 260.2h1M96.9 249.9h1M108.8 251.4h1M104.9 256.8h1M93.1 252.7h1M96.4 255.8h1M103.7 250.6h1M102.4 245.6h1M102.2 254.2h1M98.9 247.5h1M98.5 249.1h1M109.1 250.7h1M98.3 252.9h1M103.3 253.0h1M102.7 249.0h1M106.6 250.2h1M104.8 253.4h1M106.7 251.9h1M89.5 250.0h1M99.0 258.8h1M97.0 253.8h1M107.6 249.8h1M101.9 254.0h1M95.9 254.6h1M107.1 256.3h1M99.1 264.9h1M101.8 251.8h1M94.5 250.0h1M103.5 241.2h1M98.0 248.0h1M98.6 253.2h1M90.7 250.5h1M107.7 249.9h1M99.5 252.0h1M105.8 257.2h1M106.0 254.5h1M102.7 248.0h1M107.9 249.8h1M93.7 252.5h1M94.8 255.5h1M105.1 257.5h1M98.8 250.9h1M97.3 248.9h1M96.0 261.7h1M94.4 252.1h1M103.9 253.6h1M104.2 249.1h1M93.5 259.3h1M95.2 253.4h1M100.1 245.8h1M98.1 250.8h1M102.9 251.5h1M85.5 258.3h1M82.9 253.9h1M94.9 251.4h1M100.1 256.9h1M93.7 251.6h1M104.8 254.5h1M104.6 253.8h1M97.9 251.5h1M97.1 257.2h1M110.5 259.5h1M92.8 253.2h1M99.6 252.5h1M93.6 262.7h1M109.5 251.2h1M96.8 253.6h1M91.6 253.0h1M105.7 259.0h1M106.2 257.4h1M91.1 241.5h1M108.8 252.6h1M100.1 259.8h1M92.9 250.3h1M95.8 260.2h1M104.9 245.3h1M110.6 251.7h1M102.1 249.8h1M112.3 253.2h1M107.8 248.0h1M104.4 252.9h1M97.8 250.2h1M94.5 249.2h1M95.4 253.7h1M102.7 246.5h1M92.6 251.7h1M88.8 253.6h1M97.9 252.7h1M103.0 256.5h1M105.1 253.5h1M103.2 249.5h1M93.9 256.6h1M104.7 261.3h1M97.7 249.5h1M101.4 251.1h1M94.6 259.4h1M112.6 252.9h1M95.6 254.8h1M98.6 247.7h1M105.4 253.8h1M107.7 249.8h1M99.6 252.7h1M89.8 264.7h1M85.3 250.6h1M96.5 247.3h1M102.3 251.0h1M100.4 254.1h1M100.3 253.5h1M99.0 255.0h1M105.0 251.4h1M96.6 252.0h1M101.6 251.5h1M96.5 247.6h1M111.9 246.5h1M111.4 254.8h1M106.8 253.3h1M103.3 253.9h1M104.3 256.0h1M109.5 247.9h1M104.1 259.3h1M108.6 247.9h1M102.2 254.1h1M100.3 244.1h1M104.8 246.1h1M114.9 253.9h1M99.7 255.9h1M100.7 251.0h1M99.6 254.8h1M95.1 256.9h1M108.1 256.6h1M108.7 257.4h1M105.5 257.9h1M100.7 254.9h1M110.7 259.8h1M96.9 247.8h1M115.1 256.0h1M112.9 255.3h1M101.4 250.6h1M94.5 260.1h1M106.9 253.7h1M92.4 252.3h1M95.8 252.7h1M80.9 257.0h1M110.4 249.7h1M100.5 254.5h1M93.7 256.0h1M94.4 252.4h1M101.8 252.9h1M100.3 249.6h1M104.4 248.3h1M105.6 250.6h1M92.1 254.1h1M92.7 252.2h1M99.6 256.7h1M105.8 254.6h1M97.4 247.5h1M98.5 252.3h1M99.0 251.4h1M97.1 257.1h1M91.1 254.7h1M108.2 249.0h1M93.4 253.4h1M98.0 254.8h1M109.2 251.6h1M103.6 250.5h1M97.0 255.0h1M96.3 258.9h1M97.3 253.1h1M92.8 252.6h1M93.1 252.3h1M88.1 255.0h1M110.9 244.1h1M111.9 251.2h1M105.6 248.4h1M113.3 247.0h1M100.5 259.8h1M90.1 245.1h1M99.2 250.3h1M93.0 250.5h1M90.9 260.5h1M107.6 246.6h1M99.1 251.6h1M107.1 248.9h1M111.2 251.8h1M94.7 253.7h1M97.4 263.2h1M100.8 251.2h1M101.6 259.3h1M92.5 247.3h1M109.4 254.6h1M96.9 253.4h1M106.1 241.1h1M108.7 251.4h1M104.7 252.5h1M121.0 247.8h1M106.1 241.5h1M100.8 256.5h1M88.2 246.4h1M101.3 257.4h1M107.8 249.3h1M101.6 247.1h1M111.8 249.3h1M108.7 251.0h1M98.7 260.4h1M94.8 259.5h1M97.1 250.0h1M94.9 258.8h1M99.3 251.9h1M90.3 259.6h1M107.5 253.6h1M103.5 239.1h1M96.4 254.5h1M100.4 250.8h1M101.2 250.0h1M94.7 248.8h1M100.5 250.2h1M97.3 259.5h1M99.7 253.2h1M89.1 252.6h1M107.1 254.6h1M100.3 252.5h1M100.7 254.9h1M96.3 243.3h1M114.3 256.1h1M99.8 259.3h1M91.7 259.9h1M101.8 256.8h1M97.7 254.3h1M104.7 257.1h1M103.8 254.6h1M96.9 261.0h1M101.3 252.2h1M97.0 248.6h1M94.0 247.7h1M101.4 252.8h1M100.8 247.9h1M96.7 251.0h1M106.0 246.1h1M90.2 260.1h1M101.6 246.4h1M110.2 258.2h1M106.7 243.6h1M100.3 249.6h1M97.2 247.0h1M111.6 248.7h1M102.4 256.4h1M104.5 254.4h1M97.4 254.6h1M97.1 244.1h1M106.6 249.7h1M96.1 252.1h1M89.6 249.6h1M87.7 257.0h1M108.2 252.5h1M92.8 259.8h1M96.8 247.0h1M87.0 255.9h1M109.8 250.3h1M95.4 252.8h1M93.8 251.8h1M101.3 250.0h1M105.9 248.3h1M105.1 254.0h1M97.1 252.4h1M98.7 260.6h1M95.0 259.0h1M106.8 250.9h1M109.8 241.8h1M101.7 253.6h1M100.6 256.7h1M97.1 252.9h1M107.9 251.7h1M93.1 256.7h1M99.0 251.0h1M103.3 249.5h1M93.0 253.1h1M98.7 253.7h1M92.6 261.6h1M104.7 253.2h1M100.1 242.6h1M105.8 248.1h1M102.7 247.8h1M106.5 250.1h1M99.4 259.8h1M106.0 246.6h1M95.2 254.8h1M98.8 256.9h1M94.1 246.1h1M93.5 253.4h1M104.2 255.8h1M108.7 253.0h1M99.0 256.5h1M99.0 251.4h1M97.2 257.6h1M111.0 257.3h1M89.5 259.4h1M92.0 252.9h1M103.2 247.2h1M91.0 251.4h1M112.3 256.1h1M93.8 254.7h1M101.1 254.4h1M95.9 260.0h1M97.8 257.1h1M88.5 256.6h1M101.8 258.8h1M82.3 258.1h1M105.4 251.4h1M110.3 260.7h1M106.5 255.8h1M109.6 253.8h1M108.8 254.6h1M94.6 249.6h1M108.5 254.6h1M95.3 254.0h1M109.1 244.7h1M94.1 257.1h1M105.0 247.6h1M93.2 254.9h1M109.7 252.0h1M84.5 259.8h1M99.6 251.4h1M92.6 259.4h1M102.1 254.7h1M102.7 254.8h1M106.8 259.6h1M92.6 254.0h1M97.8 260.7h1M97.0 246.9h1M99.4 250.3h1M94.6 252.1h1M89.8 246.5h1M113.4 250.9h1M93.8 256.8h1M108.2 244.7h1M97.0 254.9h1M94.4 256.0h1M91.0 251.7h1M99.4 255.2h1M99.8 250.4h1M96.2 244.8h1M114.5 249.5h1M98.1 254.7h1M104.1 254.2h1M94.3 247.0h1M98.3 250.1h1M96.1 253.8h1M102.4 258.4h1M97.9 246.2h1M104.5 256.6h1M88.9 257.4h1M100.9 250.8h1M101.4 254.7h1M104.7 257.5h1M99.8 253.3h1M116.1 246.5h1M97.8 252.1h1M105.9 257.1h1M91.5 259.7h1M93.2 265.3h1M95.9 258.5h1M98.5 256.5h1M94.8 254.6h1M100.2 253.6h1M105.2 250.7h1M96.9 248.1h1M98.7 251.4h1M106.5 255.2h1M95.2 255.8h1M108.9 251.1h1M93.2 264.7h1M104.2 255.7h1M116.9 247.5h1M101.0 245.1h1M103.6 254.4h1M94.0 250.5h1M98.6 252.5h1M110.8 250.7h1M98.7 252.7h1M88.6 252.8h1M90.6 255.1h1M84.1 250.7h1M100.5 244.3h1M89.7 258.9h1M90.7 254.5h1M101.5 248.6h1M89.1 261.3h1M96.4 256.0h1M94.9 255.5h1M90.0 248.8h1M92.3 251.7h1M95.4 252.5h1M102.6 250.6h1M106.0 249.6h1M105.3 258.1h1M110.9 243.3h1M110.9 244.2h1M109.8 251.8h1M101.8 249.0h1M106.8 255.2h1M95.7 251.2h1M106.5 256.7h1M105.1 250.9h1M100.5 257.2h1M106.4 257.2h1M100.5 250.2h1M102.2 254.9h1M96.5 255.7h1M94.3 255.2h1M97.0 262.7h1M108.4 253.2h1M90.1 249.4h1M104.7 252.0h1M101.2 246.4h1M89.6 255.2h1M97.7 247.9h1M94.9 257.3h1M97.3 256.1h1M111.6 253.1h1M100.5 250.7h1M107.6 246.1h1M92.3 254.3h1M90.3 258.8h1M95.9 256.1h1M97.7 252.5h1M98.9 245.1h1M92.1 252.4h1M115.8 254.5h1M104.4 248.3h1M106.9 257.6h1M106.7 263.5h1M90.0 250.1h1M97.5 249.5h1M100.6 255.4h1M99.9 253.7h1M103.2 256.1h1M95.0 251.1h1M108.0 250.7h1M94.3 255.3h1M97.6 254.1h1M99.9 256.0h1M105.8 248.9h1M92.4 261.1h1M94.3 247.5h1M86.7 255.0h1M94.4 246.3h1M92.7 249.8h1M107.0 253.3h1M99.1 248.0h1M99.0 256.2h1M101.6 257.5h1M100.8 256.1h1M102.7 250.4h1M109.4 253.5h1M105.0 248.0h1M92.3 253.6h1M94.7 256.6h1M103.4 258.0h1M103.3 248.0h1M106.1 249.6h1M94.8 254.2h1M100.4 257.6h1M119.7 252.3h1M109.8 251.0h1M101.9 250.8h1M97.7 259.2h1M103.3 254.7h1M95.3 261.1h1M98.3 250.7h1M100.1 256.1h1M105.9 258.6h1M92.3 252.5h1M112.0 261.2h1M95.5 253.5h1M88.7 251.3h1M93.7 253.7h1M92.2 258.3h1M99.4 252.3h1M106.1 251.3h1M91.3 254.6h1M115.0 251.6h1M103.4 251.9h1M98.7 255.6h1M80.9 250.7h1M95.6 252.7h1M111.4 262.0h1M104.5 254.3h1M105.5 258.8h1M92.8 252.2h1M101.2 254.3h1M87.0 256.9h1M89.4 258.0h1M104.4 243.1h1M103.5 253.6h1M96.2 257.8h1M114.0 253.4h1M91.5 248.3h1M91.2 250.2h1M107.8 253.4h1M100.2 256.9h1M100.0 253.4h1M93.7 251.5h1M99.4 248.4h1M111.4 252.2h1M96.7 257.8h1M93.2 258.7h1M101.6 261.0h1M95.9 252.1h1M93.3 248.9h1M101.0 248.6h1M101.7 250.3h1M105.7 241.6h1M102.8 253.0h1M99.5 250.6h1M111.7 249.8h1M102.7 251.7h1M97.4 254.0h1M103.9 248.0h1M95.8 247.9h1M102.1 249.3h1M95.1 256.7h1M100.0 254.9h1M99.1 255.1h1M99.8 248.5h1M101.1 251.6h1M98.4 254.6h1M95.4 249.4h1M109.1 259.7h1M98.1 258.3h1M102.1 250.2h1M93.9 252.9h1M96.7 252.3h1M98.3 248.7h1M105.2 247.7h1M93.0 258.1h1M106.0 258.5h1M100.4 250.4h1M107.7 251.7h1M98.5 249.8h1M101.3 243.0h1M102.3 244.4h1M105.0 245.9h1M106.0 262.8h1M97.2 248.7h1M113.0 249.5h1M92.9 259.5h1M90.3 251.6h1M86.3 258.6h1M106.9 252.0h1M96.1 247.1h1M102.7 249.9h1M104.7 256.9h1M98.9 244.4h1M94.2 259.8h1M102.6 258.9h1M84.3 254.9h1M97.7 246.7h1M96.0 257.9h1M103.3 250.5h1M102.8 257.9h1M92.5 255.5h1M106.7 249.4h1M108.8 251.6h1M108.1 256.0h1M101.5 251.8h1M95.4 254.6h1M102.2 258.9h1M99.5 254.8h1M111.8 253.0h1M104.0 259.5h1M100.8 254.8h1M105.1 252.0h1M91.3 248.3h1M99.1 258.1h1M107.7 259.1h1M105.8 249.7h1M89.5 252.5h1M97.6 250.4h1M105.8 249.1h1M104.4 255.9h1M87.6 253.2h1M109.1 255.5h1M100.1 248.5h1M95.1 254.3h1M108.9 254.1h1M99.4 254.3h1M104.2 245.2h1M93.0 254.3h1M108.9 256.6h1M94.5 254.1h1M94.5 252.3h1M100.7 251.6h1M95.3 248.9h1M88.8 254.0h1M101.6 255.6h1M93.8 251.0h1M108.8 253.7h1M105.7 250.0h1M94.2 249.2h1M106.1 247.6h1M87.4 251.8h1M108.6 252.1h1M101.5 253.5h1M99.4 252.6h1M91.1 261.5h1M99.5 258.4h1M89.4 257.0h1M90.9 249.0h1M102.3 257.3h1M110.1 257.4h1M98.4 256.8h1M95.4 251.6h1M101.5 252.5h1M104.7 244.8h1M107.4 249.7h1M110.7 256.5h1M91.9 254.2h1M104.1 249.3h1M94.6 252.7h1M105.5 256.3h1M97.4 257.1h1M110.6 255.6h1M94.3 250.5h1M102.3 256.4h1M102.6 251.2h1M94.2 259.4h1M99.9 261.1h1M91.8 253.0h1M96.6 261.5h1M108.1 250.0h1M87.3 259.9h1M100.2 248.5h1M89.8 256.4h1M98.6 254.1h1" stroke="#000" stroke-opacity="0.7" stroke-width="1" fill="none"/><path d="M279.0 139.3h1M274.1 149.8h1M278.1 136.7h1M277.0 136.9h1M279.4 137.0h1M271.4 144.3h1M272.9 145.5h1M276.3 141.4h1M264.5 135.4h1M271.3 137.1h1M279.2 143.8h1M275.6 140.0h1M274.5 142.4h1M271.9 142.8h1M274.7 148.5h1M277.7 144.4h1M274.7 143.2h1M275.9 143.8h1M279.3 139.3h1M271.0 142.8h1M281.4 134.8h1M277.9 146.7h1M281.1 139.0h1M279.6 149.2h1M278.4 141.8h1M271.4 139.3h1M271.2 148.3h1M276.5 139.9h1M267.4 143.2h1M270.7 139.8h1M281.8 141.2h1M288.8 132.9h1M271.1 142.3h1M277.1 145.0h1M279.3 141.0h1M277.9 142.7h1M278.7 133.7h1M270.4 140.5h1M285.0 138.7h1M275.6 136.1h1M275.6 140.8h1M275.4 141.2h1M276.6 139.0h1M279.5 139.2h1M274.1 142.9h1M275.7 145.7h1M275.1 143.8h1M270.4 140.0h1M276.5 135.9h1M279.2 140.3h1M266.7 146.3h1M271.5 142.1h1M272.6 148.5h1M275.5 143.9h1M274.5 144.4h1M272.5 144.9h1M277.9 139.8h1M271.1 141.2h1M277.0 142.2h1M272.6 141.2h1M283.6 145.8h1M275.1 144.0h1M270.8 134.3h1M274.3 139.8h1M280.4 135.9h1M271.9 144.6h1M274.8 140.0h1M272.0 139.0h1M276.5 144.8h1M285.0 135.9h1M279.4 143.8h1M283.5 142.0h1M279.5 137.4h1M277.0 141.4h1M277.2 141.3h1M267.3 140.0h1M268.0 139.8h1M275.8 141.7h1M270.5 150.3h1M279.2 138.8h1M286.6 139.9h1M273.2 149.3h1M278.3 141.3h1M277.5 136.6h1M271.2 142.4h1M272.3 144.8h1M267.2 145.2h1M277.6 139.5h1M272.5 135.9h1M271.1 143.8h1M274.2 140.5h1M279.1 138.2h1M275.6 142.0h1M277.2 138.1h1M281.1 138.7h1M276.2 141.5h1M280.0 142.4h1M280.1 139.2h1M279.3 138.8h1M280.4 137.0h1M273.1 138.8h1M272.6 140.7h1M285.0 134.9h1M270.6 149.5h1M278.5 148.2h1M265.9 140.8h1M274.9 140.9h1M268.7 138.5h1M281.2 144.3h1M278.9 149.9h1M276.8 139.8h1M281.1 138.9h1M274.9 146.1h1M269.2 139.7h1M282.7 133.1h1M273.9 145.2h1M266.1 144.9h1M272.3 142.7h1M278.5 144.4h1M274.8 145.1h1M275.3 137.0h1M274.1 138.8h1M280.8 138.9h1M272.3 138.7h1M274.1 139.7h1M278.0 138.9h1M274.5 147.4h1M276.9 137.7h1M279.4 136.7h1M274.6 143.5h1M271.5 143.9h1M278.5 146.3h1M280.8 135.4h1M281.8 135.5h1M279.1 142.6h1M282.5 146.7h1M273.6 138.2h1M279.7 135.8h1M267.1 136.0h1M281.4 140.0h1M281.0 141.2h1M282.1 135.2h1M277.4 136.5h1M276.6 145.9h1M273.8 137.2h1M276.5 140.1h1M273.3 146.3h1M270.1 139.8h1M275.4 150.7h1M270.0 148.5h1M279.5 141.1h1M269.9 146.1h1M278.0 143.4h1M270.1 141.8h1M282.1 140.7h1M275.5 139.1h1M277.4 140.7h1M275.8 135.7h1M275.6 141.2h1M271.6 146.9h1M274.7 140.9h1M273.7 137.0h1M276.3 143.2h1M279.2 143.5h1M267.1 143.1h1M277.5 142.1h1M285.4 135.1h1M274.0 147.4h1M268.6 141.8h1M286.6 132.5h1M279.7 140.5h1M283.4 135.5h1M277.9 134.7h1M273.4 150.9h1M282.6 137.4h1M276.8 141.5h1M276.5 148.4h1M279.3 140.6h1M279.5 143.0h1M279.3 141.8h1M272.1 147.9h1M282.9 132.1h1M277.1 144.7h1M280.8 139.7h1M270.3 149.6h1M268.8 144.7h1M277.0 139.1h1M286.3 146.4h1M280.3 140.7h1M270.4 144.0h1M270.0 144.9h1M269.6 144.7h1M272.3 140.4h1M266.6 144.3h1M277.4 140.3h1M282.1 140.4h1M275.8 145.0h1M279.7 136.7h1M271.8 147.5h1M266.2 147.5h1M278.6 139.2h1M275.8 146.2h1M272.1 146.8h1M271.5 141.9h1M274.9 137.8h1M281.6 133.1h1M280.7 131.5h1M275.0 136.7h1M270.6 147.7h1M275.1 136.3h1M278.3 135.4h1M276.9 142.4h1M273.5 135.3h1M283.3 136.9h1M271.4 141.2h1M265.5 145.4h1M276.8 139.0h1M269.8 145.2h1M280.9 135.0h1M276.4 147.6h1M277.4 140.3h1M269.4 140.7h1M269.7 145.5h1M275.5 143.7h1M278.2 140.4h1M274.0 138.7h1M265.7 149.3h1M270.2 144.2h1M271.4 140.1h1M270.9 146.2h1M274.4 140.0h1M276.9 139.5h1M271.6 146.1h1M281.3 132.9h1M283.4 140.7h1M279.5 134.1h1M283.8 134.3h1M273.9 142.5h1M278.0 139.7h1M277.9 145.8h1M270.1 142.4h1M280.3 140.6h1M277.3 135.1h1M280.9 138.9h1M279.5 132.0h1M275.7 140.5h1M267.5 146.6h1M278.8 136.4h1M274.7 146.9h1M281.8 140.5h1M272.2 145.0h1M278.0 136.3h1M274.5 147.0h1M278.9 133.0h1M261.7 148.8h1M271.2 145.7h1M277.6 139.2h1M273.1 145.1h1M271.6 145.7h1M279.4 151.0h1M276.7 136.8h1M270.5 144.9h1M267.2 146.8h1M274.7 147.0h1M271.9 141.8h1M267.4 144.5h1M274.7 141.7h1M278.5 136.0h1M280.3 138.4h1M270.7 137.2h1M272.2 148.9h1M281.5 137.0h1M277.5 138.0h1M272.4 141.9h1M280.2 139.0h1M273.8 142.1h1M278.5 140.6h1M276.3 149.4h1M276.5 141.0h1M283.8 138.6h1M276.4 143.6h1M269.7 144.7h1M269.6 151.2h1M269.9 142.9h1M275.4 143.4h1M282.2 143.8h1M279.0 142.7h1M274.8 146.1h1M275.0 140.3h1M275.0 142.2h1M277.2 142.2h1M271.7 142.2h1M274.4 135.0h1M276.8 148.2h1M263.1 151.1h1M274.3 135.3h1M279.6 125.5h1M284.9 140.1h1M278.6 137.8h1M274.8 138.4h1M276.0 136.1h1M276.8 145.5h1M270.2 145.5h1M272.9 138.1h1M280.9 138.2h1M269.4 147.9h1M270.8 143.5h1M274.1 140.0h1M277.6 136.5h1M279.3 138.0h1M277.6 137.3h1M270.7 141.2h1M280.0 142.0h1M287.0 136.7h1M276.0 140.5h1M277.0 140.4h1M283.6 138.5h1M270.5 143.7h1M281.7 137.3h1M277.4 145.8h1M273.3 142.9h1M269.0 139.1h1M276.0 135.7h1M271.5 142.5h1M278.2 139.0h1M271.5 137.9h1M271.6 138.8h1M277.6 141.7h1M280.3 147.0h1M279.0 141.3h1M275.6 141.0h1M282.0 140.8h1M272.9 149.7h1M279.8 142.3h1M274.4 137.2h1M275.2 151.0h1M273.1 137.6h1M276.0 139.8h1M262.7 143.8h1M269.8 149.0h1M274.7 141.6h1M278.1 142.3h1M266.5 149.6h1M269.3 142.3h1M273.0 143.9h1M270.9 139.6h1M278.4 148.8h1M267.3 142.1h1M278.0 142.3h1M274.6 137.5h1M277.6 136.2h1M269.5 145.0h1M276.8 144.1h1M277.9 139.5h1M279.4 138.5h1M275.7 135.1h1M271.1 150.1h1M269.3 146.8h1M273.9 141.2h1M277.1 147.1h1M284.6 133.0h1M277.2 143.8h1M279.9 131.9h1M275.4 141.2h1M278.1 140.2h1M277.1 138.4h1M274.1 140.2h1M272.5 144.3h1M272.1 139.7h1M281.4 135.5h1M272.7 150.1h1M273.8 146.2h1M276.0 142.7h1M274.8 139.9h1M280.6 146.7h1M266.8 151.0h1M274.7 137.7h1M279.0 148.5h1M277.8 140.1h1M278.9 141.6h1M281.2 138.4h1M276.5 141.9h1M282.8 138.6h1M270.0 144.4h1M275.3 139.2h1M271.7 141.2h1M275.5 144.1h1M279.5 138.1h1M283.5 133.6h1M290.6 131.8h1M276.3 138.8h1M280.8 145.9h1M276.2 144.7h1M275.8 145.0h1M273.1 138.9h1M280.9 139.9h1M280.3 142.1h1M279.8 137.6h1M266.8 144.0h1M282.6 138.4h1M274.9 140.6h1M275.7 141.9h1M272.5 141.7h1M284.6 134.0h1M270.0 141.3h1M274.4 146.6h1M278.0 138.5h1M275.0 141.1h1M274.2 149.5h1M282.9 146.5h1M272.2 144.7h1M278.4 137.9h1M267.7 145.2h1M276.7 142.4h1M277.5 144.8h1M280.2 138.8h1M275.0 141.3h1M279.9 142.0h1M276.8 142.8h1M270.8 139.9h1M273.4 147.8h1M281.1 144.1h1M277.8 143.9h1M283.1 139.2h1M272.6 144.0h1M273.6 139.1h1M279.8 142.6h1M278.3 148.6h1M273.9 142.7h1M272.9 141.2h1M277.2 140.4h1M283.5 136.9h1M277.1 139.3h1M269.7 147.4h1M274.4 147.7h1M279.4 146.1h1M280.4 141.1h1M276.9 141.6h1M280.3 141.6h1M273.9 146.0h1M285.7 131.4h1M272.8 141.3h1M272.6 150.6h1M276.5 142.5h1M288.8 140.7h1M274.5 148.1h1M278.9 140.5h1M277.3 140.0h1M283.3 137.2h1M279.9 143.6h1M280.2 139.6h1M281.0 144.9h1M277.3 139.8h1M271.3 144.6h1M271.6 146.4h1M271.6 136.0h1M277.2 143.5h1M273.9 139.0h1M278.9 135.3h1M268.1 144.3h1M277.8 144.4h1M280.6 137.9h1M269.2 145.1h1M271.5 145.1h1M268.8 149.3h1M277.7 139.1h1M275.1 137.9h1M268.2 146.2h1M282.6 139.9h1M276.6 146.7h1M277.9 146.9h1M276.3 139.0h1M276.8 137.0h1M268.3 142.2h1M276.4 140.8h1M274.2 141.3h1M280.2 135.3h1M275.6 147.9h1M281.9 137.2h1M267.2 147.4h1M278.0 139.6h1M278.4 132.6h1M276.7 137.8h1M280.6 136.6h1M278.0 136.4h1M267.2 144.9h1M270.6 141.9h1M283.5 140.5h1M274.1 138.4h1M273.4 140.8h1M282.0 137.0h1M276.5 139.1h1M265.7 148.1h1M272.0 147.3h1M274.0 139.7h1M277.7 147.3h1M269.5 143.6h1M272.9 141.2h1M275.1 145.0h1M278.1 130.9h1M275.5 142.2h1M274.7 141.9h1M276.6 145.8h1M273.4 143.5h1M275.8 142.3h1M277.2 145.1h1M275.9 142.5h1M272.9 139.8h1M269.7 142.8h1M274.5 139.5h1M271.9 146.8h1M273.3 135.7h1M282.3 135.4h1M277.6 145.0h1M274.3 140.3h1M281.6 130.7h1M277.2 144.4h1M271.0 146.0h1M282.8 146.2h1M271.9 145.4h1M278.3 139.6h1M271.7 147.7h1M277.0 142.6h1M282.4 140.0h1M277.9 141.1h1M270.8 146.0h1M275.4 140.2h1M273.9 139.6h1M286.7 141.1h1M274.9 144.5h1M277.6 146.0h1M277.4 140.5h1M274.9 143.2h1M273.2 147.6h1M274.0 146.1h1M278.6 144.1h1M277.9 144.5h1M273.3 147.1h1M275.1 143.4h1M278.0 144.0h1M268.3 150.8h1M272.5 150.8h1M265.3 147.4h1M270.7 147.4h1M269.1 139.8h1M275.8 144.9h1M277.0 145.0h1M274.1 143.4h1M274.8 144.3h1M283.9 135.4h1M274.8 139.7h1M276.0 148.5h1M268.9 144.2h1M274.1 141.4h1M277.6 128.6h1M278.6 142.3h1M269.5 144.9h1M281.1 144.2h1M268.1 141.8h1M283.0 141.8h1M268.9 138.0h1M280.8 135.8h1M279.8 137.4h1M272.9 142.4h1M284.8 139.6h1M264.8 148.2h1M281.7 134.1h1M270.1 147.4h1M274.8 142.2h1M272.9 143.2h1M274.5 144.6h1M271.6 144.5h1M278.1 145.7h1M276.7 140.3h1M278.6 140.9h1M281.0 138.9h1M285.8 138.1h1M274.3 141.2h1M280.2 139.7h1M271.6 138.8h1M269.1 150.1h1M280.5 140.9h1M272.9 149.6h1M274.3 145.0h1M275.2 138.4h1M268.2 139.4h1M267.5 141.3h1M277.4 140.4h1M280.0 139.2h1M273.8 145.3h1M275.4 145.0h1M274.4 138.4h1M275.6 142.1h1M276.4 145.4h1M281.4 134.3h1M268.7 138.0h1M273.9 141.5h1M267.6 151.3h1M276.1 137.9h1M271.7 141.2h1M274.9 135.3h1M279.0 147.9h1M276.8 142.9h1M272.1 139.8h1M276.3 143.1h1M272.3 146.9h1M283.0 139.6h1M266.9 145.9h1M271.7 151.0h1M279.6 141.3h1M269.2 142.7h1M276.0 141.9h1M272.5 145.7h1M278.6 140.0h1M266.3 141.0h1M274.9 143.4h1M273.4 142.0h1M274.5 146.5h1M275.6 142.5h1M270.2 144.4h1M273.7 138.9h1M269.7 146.2h1M280.7 137.7h1M281.0 135.9h1M270.9 139.9h1M276.7 147.7h1M278.6 142.5h1M278.3 139.2h1M275.0 143.1h1M279.3 140.4h1M277.8 140.4h1M271.8 144.4h1M274.2 148.1h1M266.7 149.8h1M284.1 131.7h1M271.0 146.5h1M280.2 136.5h1M278.2 139.8h1M281.6 151.1h1M274.5 140.4h1M274.5 144.9h1M279.0 142.2h1M272.6 138.0h1M276.9 139.2h1M270.8 139.6h1M271.5 142.5h1M271.9 138.7h1M276.0 142.1h1M269.6 144.9h1M274.3 147.6h1M264.7 151.2h1M267.9 147.5h1M277.3 137.1h1M274.0 139.4h1M285.4 136.5h1M276.8 134.3h1M273.7 149.0h1M274.1 142.1h1M273.8 137.7h1M278.6 139.0h1M275.8 138.5h1M275.8 138.3h1M282.0 140.9h1M280.4 139.6h1M271.5 133.0h1M278.1 138.0h1M275.2 140.9h1M268.7 146.2h1M281.5 142.8h1M270.9 142.3h1M279.1 134.1h1M283.8 133.9h1M274.4 147.9h1M278.8 131.8h1M281.0 135.2h1M280.5 135.2h1M270.5 149.5h1M284.2 143.4h1M284.0 136.8h1M273.3 141.7h1M272.3 141.2h1M268.3 137.0h1M276.1 141.2h1M287.5 133.7h1M275.0 145.3h1M269.2 145.4h1M275.0 136.8h1M277.5 144.5h1M278.4 141.0h1M270.6 143.9h1M278.1 143.8h1M269.5 142.6h1M277.8 135.2h1M280.3 138.3h1M283.2 142.7h1M280.1 141.1h1M270.2 144.0h1M281.7 143.1h1M286.6 142.1h1M277.2 141.3h1M279.5 138.1h1M272.7 139.7h1M276.8 135.5h1M274.1 136.6h1M277.4 135.2h1M275.0 134.8h1M276.6 146.6h1M272.5 145.4h1M268.1 138.3h1M277.8 141.8h1M272.5 147.8h1M269.9 142.7h1M273.9 140.3h1M280.8 129.2h1M280.8 141.5h1M263.5 145.7h1M276.6 138.6h1M279.8 143.2h1M271.5 140.9h1M272.6 146.4h1M273.1 137.8h1M284.9 137.8h1M276.0 135.8h1M272.6 142.3h1M271.2 140.9h1M277.8 140.8h1M275.7 139.3h1M281.1 137.3h1M263.1 151.3h1M277.6 144.5h1M273.7 142.6h1M274.5 146.2h1M272.3 142.3h1M273.9 146.3h1M269.4 140.1h1M276.3 137.8h1M277.8 141.5h1M282.8 139.7h1M272.8 143.9h1M274.4 151.1h1M280.6 143.6h1M269.3 138.3h1M281.8 136.2h1M276.2 141.6h1M279.3 140.7h1M271.8 150.9h1M272.3 143.0h1M284.6 137.4h1M269.7 138.9h1M277.4 142.7h1M272.2 139.3h1M269.4 142.1h1M278.3 143.1h1M277.8 136.2h1M277.8 142.4h1M273.1 143.7h1M284.4 134.1h1M278.0 137.5h1M271.5 137.7h1M278.3 145.0h1M286.7 136.6h1M278.3 139.4h1M272.7 144.0h1M276.0 137.7h1M276.8 135.9h1M266.0 146.6h1M265.6 145.3h1M279.5 137.0h1M279.1 143.9h1M279.3 135.8h1M281.7 137.7h1M276.6 143.0h1M268.0 145.8h1M276.5 143.9h1M273.7 143.2h1M282.7 141.6h1M281.6 142.0h1M273.2 142.9h1M276.0 140.0h1M277.5 148.0h1M272.4 140.5h1M281.8 144.5h1M278.8 144.6h1M272.6 142.6h1M272.4 144.4h1M280.0 132.0h1M279.6 133.1h1M276.6 144.9h1M278.7 140.2h1M269.8 149.4h1M275.1 143.3h1M269.8 145.4h1M272.7 149.5h1M275.8 144.4h1M271.6 143.5h1M278.3 134.6h1M269.3 150.1h1M269.9 145.5h1M277.1 136.4h1M277.3 136.9h1M284.6 139.3h1M273.1 143.4h1M272.7 145.8h1M276.6 134.0h1M275.9 135.2h1M267.8 141.1h1M284.0 133.8h1M274.8 139.4h1M274.7 132.7h1M280.9 147.2h1M274.0 143.6h1M276.2 137.4h1M277.9 144.2h1M277.2 142.1h1M274.9 144.1h1M279.2 145.3h1M277.8 138.5h1M276.3 136.8h1M264.8 147.2h1M276.6 135.8h1M274.2 144.3h1M280.3 137.1h1M273.8 141.1h1M284.5 138.1h1M271.8 139.0h1M273.8 146.5h1M274.8 147.0h1M277.6 141.3h1M279.3 140.6h1M271.3 144.6h1M281.9 129.8h1M276.2 146.4h1M272.9 140.7h1M271.5 148.5h1M282.9 141.3h1M278.2 144.3h1M271.8 146.5h1M273.2 145.1h1M281.0 141.6h1M274.6 149.0h1M271.2 141.4h1M271.3 139.2h1M276.2 142.7h1M276.0 144.1h1M274.3 143.3h1M269.9 147.8h1M271.0 144.3h1M275.6 142.8h1M265.2 144.8h1M275.4 144.3h1M279.1 142.7h1M281.8 138.0h1M272.9 139.6h1M270.6 144.6h1M277.1 141.5h1M275.1 141.6h1M278.5 140.0h1M277.4 141.6h1M270.9 141.7h1M278.4 141.1h1M273.6 141.9h1M282.7 131.2h1M275.3 143.5h1M271.2 146.9h1M284.9 137.1h1M279.4 140.9h1M278.2 143.9h1M273.9 141.6h1M278.1 143.8h1M278.4 142.3h1M288.0 135.9h1M272.2 141.2h1M274.2 138.5h1M277.1 137.9h1M282.6 141.5h1M268.2 150.8h1M269.3 141.4h1M272.5 143.9h1M275.9 134.2h1M284.5 142.7h1M279.2 140.9h1M272.6 139.2h1M278.5 140.8h1M284.6 145.3h1" stroke="#000" stroke-opacity="0.75" stroke-width="1" fill="none"/>
<rect x="42.40" y="24.90" width="128.10" height="127.50" fill="none" stroke="#555" stroke-width="1"/>
<path d="M42.40 24.90V152.40H170.50" fill="none" stroke="#333" stroke-width="1.05"/>
<path d="M42.40 152.40v2.6M42.40 152.40h-2.6M52.04 152.40v1.6M42.40 142.80h-1.6M57.68 152.40v1.6M42.40 137.19h-1.6M61.68 152.40v1.6M42.40 133.21h-1.6M64.78 152.40v1.6M42.40 130.12h-1.6M67.32 152.40v1.6M42.40 127.60h-1.6M69.46 152.40v1.6M42.40 125.46h-1.6M71.32 152.40v1.6M42.40 123.61h-1.6M72.96 152.40v1.6M42.40 121.98h-1.6M74.42 152.40v2.6M42.40 120.53h-2.6M84.07 152.40v1.6M42.40 110.93h-1.6M89.70 152.40v1.6M42.40 105.32h-1.6M93.71 152.40v1.6M42.40 101.33h-1.6M96.81 152.40v1.6M42.40 98.25h-1.6M99.35 152.40v1.6M42.40 95.72h-1.6M101.49 152.40v1.6M42.40 93.59h-1.6M103.35 152.40v1.6M42.40 91.74h-1.6M104.98 152.40v1.6M42.40 90.11h-1.6M106.45 152.40v2.6M42.40 88.65h-2.6M116.09 152.40v1.6M42.40 79.05h-1.6M121.73 152.40v1.6M42.40 73.44h-1.6M125.73 152.40v1.6M42.40 69.46h-1.6M128.83 152.40v1.6M42.40 66.37h-1.6M131.37 152.40v1.6M42.40 63.85h-1.6M133.51 152.40v1.6M42.40 61.71h-1.6M135.37 152.40v1.6M42.40 59.86h-1.6M137.01 152.40v1.6M42.40 58.23h-1.6M138.47 152.40v2.6M42.40 56.78h-2.6M148.12 152.40v1.6M42.40 47.18h-1.6M153.75 152.40v1.6M42.40 41.57h-1.6M157.76 152.40v1.6M42.40 37.58h-1.6M160.86 152.40v1.6M42.40 34.50h-1.6M163.40 152.40v1.6M42.40 31.97h-1.6M165.54 152.40v1.6M42.40 29.84h-1.6M167.40 152.40v1.6M42.40 27.99h-1.6M169.03 152.40v1.6M42.40 26.36h-1.6M170.50 152.40v2.6M42.40 24.90h-2.6" stroke="#333" stroke-width="0.8" fill="none"/>
<text x="36.51" y="164.60" font-size="8.6" fill="#000">10<tspan font-size="5" dy="-2.3">0</tspan></text>
<text x="25.80" y="156.30" font-size="8.6" fill="#000">10<tspan font-size="5" dy="-2.3">0</tspan></text>
<text x="68.53" y="164.60" font-size="8.6" fill="#000">10<tspan font-size="5" dy="-2.3">1</tspan></text>
<text x="25.80" y="124.43" font-size="8.6" fill="#000">10<tspan font-size="5" dy="-2.3">1</tspan></text>
<text x="100.56" y="164.60" font-size="8.6" fill="#000">10<tspan font-size="5" dy="-2.3">2</tspan></text>
<text x="25.80" y="92.55" font-size="8.6" fill="#000">10<tspan font-size="5" dy="-2.3">2</tspan></text>
<text x="132.58" y="164.60" font-size="8.6" fill="#000">10<tspan font-size="5" dy="-2.3">3</tspan></text>
<text x="25.80" y="60.68" font-size="8.6" fill="#000">10<tspan font-size="5" dy="-2.3">3</tspan></text>
<text x="164.61" y="164.60" font-size="8.6" fill="#000">10<tspan font-size="5" dy="-2.3">4</tspan></text>
<text x="25.80" y="28.80" font-size="8.6" fill="#000">10<tspan font-size="5" dy="-2.3">4</tspan></text>
<path d="M77.50 24.90V152.40M42.40 106.00H170.50" stroke="#5a5a5a" stroke-width="1" fill="none"/>
<text x="48.25" y="44.06" font-size="14" >0.0</text>
<text x="140.35" y="43.66" font-size="14" >0.1</text>
<text x="50.25" y="140.76" font-size="14" >0.0</text>
<text x="134.54" y="140.86" font-size="14" >99.9</text>
<rect x="212.70" y="24.40" width="128.90" height="128.00" fill="none" stroke="#555" stroke-width="1"/>
<path d="M212.70 24.40V152.40H341.60" fill="none" stroke="#333" stroke-width="1.05"/>
<path d="M212.70 152.40v2.6M212.70 152.40h-2.6M222.40 152.40v1.6M212.70 142.77h-1.6M228.08 152.40v1.6M212.70 137.13h-1.6M232.10 152.40v1.6M212.70 133.13h-1.6M235.22 152.40v1.6M212.70 130.03h-1.6M237.78 152.40v1.6M212.70 127.50h-1.6M239.93 152.40v1.6M212.70 125.36h-1.6M241.80 152.40v1.6M212.70 123.50h-1.6M243.45 152.40v1.6M212.70 121.86h-1.6M244.93 152.40v2.6M212.70 120.40h-2.6M254.63 152.40v1.6M212.70 110.77h-1.6M260.30 152.40v1.6M212.70 105.13h-1.6M264.33 152.40v1.6M212.70 101.13h-1.6M267.45 152.40v1.6M212.70 98.03h-1.6M270.00 152.40v1.6M212.70 95.50h-1.6M272.16 152.40v1.6M212.70 93.36h-1.6M274.03 152.40v1.6M212.70 91.50h-1.6M275.68 152.40v1.6M212.70 89.86h-1.6M277.15 152.40v2.6M212.70 88.40h-2.6M286.85 152.40v1.6M212.70 78.77h-1.6M292.53 152.40v1.6M212.70 73.13h-1.6M296.55 152.40v1.6M212.70 69.13h-1.6M299.67 152.40v1.6M212.70 66.03h-1.6M302.23 152.40v1.6M212.70 63.50h-1.6M304.38 152.40v1.6M212.70 61.36h-1.6M306.25 152.40v1.6M212.70 59.50h-1.6M307.90 152.40v1.6M212.70 57.86h-1.6M309.38 152.40v2.6M212.70 56.40h-2.6M319.08 152.40v1.6M212.70 46.77h-1.6M324.75 152.40v1.6M212.70 41.13h-1.6M328.78 152.40v1.6M212.70 37.13h-1.6M331.90 152.40v1.6M212.70 34.03h-1.6M334.45 152.40v1.6M212.70 31.50h-1.6M336.61 152.40v1.6M212.70 29.36h-1.6M338.48 152.40v1.6M212.70 27.50h-1.6M340.13 152.40v1.6M212.70 25.86h-1.6M341.60 152.40v2.6M212.70 24.40h-2.6" stroke="#333" stroke-width="0.8" fill="none"/>
<text x="206.81" y="164.60" font-size="8.6" fill="#000">10<tspan font-size="5" dy="-2.3">0</tspan></text>
<text x="196.10" y="156.30" font-size="8.6" fill="#000">10<tspan font-size="5" dy="-2.3">0</tspan></text>
<text x="239.04" y="164.60" font-size="8.6" fill="#000">10<tspan font-size="5" dy="-2.3">1</tspan></text>
<text x="196.10" y="124.30" font-size="8.6" fill="#000">10<tspan font-size="5" dy="-2.3">1</tspan></text>
<text x="271.26" y="164.60" font-size="8.6" fill="#000">10<tspan font-size="5" dy="-2.3">2</tspan></text>
<text x="196.10" y="92.30" font-size="8.6" fill="#000">10<tspan font-size="5" dy="-2.3">2</tspan></text>
<text x="303.49" y="164.60" font-size="8.6" fill="#000">10<tspan font-size="5" dy="-2.3">3</tspan></text>
<text x="196.10" y="60.30" font-size="8.6" fill="#000">10<tspan font-size="5" dy="-2.3">3</tspan></text>
<text x="335.71" y="164.60" font-size="8.6" fill="#000">10<tspan font-size="5" dy="-2.3">4</tspan></text>
<text x="196.10" y="28.30" font-size="8.6" fill="#000">10<tspan font-size="5" dy="-2.3">4</tspan></text>
<path d="M252.50 24.40V152.40M212.70 119.10H341.60" stroke="#5a5a5a" stroke-width="1" fill="none"/>
<text x="221.85" y="43.86" font-size="14" >0.6</text>
<text x="309.45" y="43.96" font-size="14" >0.5</text>
<text x="305.99" y="140.86" font-size="14" >89.9</text>
<rect x="186.85" y="126.05" width="35.30" height="20.60" fill="#fff" stroke="#3a3a3a" stroke-width="1.3"/>
<text x="194.04" y="140.56" font-size="14" >9.0</text>
<rect x="384.50" y="24.20" width="129.80" height="128.40" fill="none" stroke="#555" stroke-width="1"/>
<path d="M384.50 24.20V152.60H514.30" fill="none" stroke="#333" stroke-width="1.05"/>
<path d="M384.50 152.60v2.6M384.50 152.60h-2.6M394.27 152.60v1.6M384.50 142.94h-1.6M399.98 152.60v1.6M384.50 137.28h-1.6M404.04 152.60v1.6M384.50 133.27h-1.6M407.18 152.60v1.6M384.50 130.16h-1.6M409.75 152.60v1.6M384.50 127.62h-1.6M411.92 152.60v1.6M384.50 125.47h-1.6M413.81 152.60v1.6M384.50 123.61h-1.6M415.47 152.60v1.6M384.50 121.97h-1.6M416.95 152.60v2.6M384.50 120.50h-2.6M426.72 152.60v1.6M384.50 110.84h-1.6M432.43 152.60v1.6M384.50 105.18h-1.6M436.49 152.60v1.6M384.50 101.17h-1.6M439.63 152.60v1.6M384.50 98.06h-1.6M442.20 152.60v1.6M384.50 95.52h-1.6M444.37 152.60v1.6M384.50 93.37h-1.6M446.26 152.60v1.6M384.50 91.51h-1.6M447.92 152.60v1.6M384.50 89.87h-1.6M449.40 152.60v2.6M384.50 88.40h-2.6M459.17 152.60v1.6M384.50 78.74h-1.6M464.88 152.60v1.6M384.50 73.08h-1.6M468.94 152.60v1.6M384.50 69.07h-1.6M472.08 152.60v1.6M384.50 65.96h-1.6M474.65 152.60v1.6M384.50 63.42h-1.6M476.82 152.60v1.6M384.50 61.27h-1.6M478.71 152.60v1.6M384.50 59.41h-1.6M480.37 152.60v1.6M384.50 57.77h-1.6M481.85 152.60v2.6M384.50 56.30h-2.6M491.62 152.60v1.6M384.50 46.64h-1.6M497.33 152.60v1.6M384.50 40.98h-1.6M501.39 152.60v1.6M384.50 36.97h-1.6M504.53 152.60v1.6M384.50 33.86h-1.6M507.10 152.60v1.6M384.50 31.32h-1.6M509.27 152.60v1.6M384.50 29.17h-1.6M511.16 152.60v1.6M384.50 27.31h-1.6M512.82 152.60v1.6M384.50 25.67h-1.6M514.30 152.60v2.6M384.50 24.20h-2.6" stroke="#333" stroke-width="0.8" fill="none"/>
<text x="378.61" y="164.80" font-size="8.6" fill="#000">10<tspan font-size="5" dy="-2.3">0</tspan></text>
<text x="367.90" y="156.50" font-size="8.6" fill="#000">10<tspan font-size="5" dy="-2.3">0</tspan></text>
<text x="411.06" y="164.80" font-size="8.6" fill="#000">10<tspan font-size="5" dy="-2.3">1</tspan></text>
<text x="367.90" y="124.40" font-size="8.6" fill="#000">10<tspan font-size="5" dy="-2.3">1</tspan></text>
<text x="443.51" y="164.80" font-size="8.6" fill="#000">10<tspan font-size="5" dy="-2.3">2</tspan></text>
<text x="367.90" y="92.30" font-size="8.6" fill="#000">10<tspan font-size="5" dy="-2.3">2</tspan></text>
<text x="475.96" y="164.80" font-size="8.6" fill="#000">10<tspan font-size="5" dy="-2.3">3</tspan></text>
<text x="367.90" y="60.20" font-size="8.6" fill="#000">10<tspan font-size="5" dy="-2.3">3</tspan></text>
<text x="508.41" y="164.80" font-size="8.6" fill="#000">10<tspan font-size="5" dy="-2.3">4</tspan></text>
<text x="367.90" y="28.10" font-size="8.6" fill="#000">10<tspan font-size="5" dy="-2.3">4</tspan></text>
<path d="M420.50 24.20V152.60M384.50 117.20H514.30" stroke="#5a5a5a" stroke-width="1" fill="none"/>
<text x="390.95" y="43.86" font-size="14" >0.2</text>
<text x="484.55" y="43.96" font-size="14" >0.4</text>
<text x="476.39" y="140.86" font-size="14" >66.0</text>
<rect x="358.85" y="126.65" width="34.80" height="20.40" fill="#fff" stroke="#3a3a3a" stroke-width="1.3"/>
<text x="362.97" y="140.66" font-size="14" >33.4</text>
<rect x="42.50" y="200.30" width="128.00" height="127.50" fill="none" stroke="#555" stroke-width="1"/>
<path d="M42.50 200.30V327.80H170.50" fill="none" stroke="#333" stroke-width="1.05"/>
<path d="M42.50 327.80v2.6M42.50 327.80h-2.6M52.13 327.80v1.6M42.50 318.20h-1.6M57.77 327.80v1.6M42.50 312.59h-1.6M61.77 327.80v1.6M42.50 308.61h-1.6M64.87 327.80v1.6M42.50 305.52h-1.6M67.40 327.80v1.6M42.50 303.00h-1.6M69.54 327.80v1.6M42.50 300.86h-1.6M71.40 327.80v1.6M42.50 299.01h-1.6M73.04 327.80v1.6M42.50 297.38h-1.6M74.50 327.80v2.6M42.50 295.93h-2.6M84.13 327.80v1.6M42.50 286.33h-1.6M89.77 327.80v1.6M42.50 280.72h-1.6M93.77 327.80v1.6M42.50 276.73h-1.6M96.87 327.80v1.6M42.50 273.65h-1.6M99.40 327.80v1.6M42.50 271.12h-1.6M101.54 327.80v1.6M42.50 268.99h-1.6M103.40 327.80v1.6M42.50 267.14h-1.6M105.04 327.80v1.6M42.50 265.51h-1.6M106.50 327.80v2.6M42.50 264.05h-2.6M116.13 327.80v1.6M42.50 254.45h-1.6M121.77 327.80v1.6M42.50 248.84h-1.6M125.77 327.80v1.6M42.50 244.86h-1.6M128.87 327.80v1.6M42.50 241.77h-1.6M131.40 327.80v1.6M42.50 239.25h-1.6M133.54 327.80v1.6M42.50 237.11h-1.6M135.40 327.80v1.6M42.50 235.26h-1.6M137.04 327.80v1.6M42.50 233.63h-1.6M138.50 327.80v2.6M42.50 232.18h-2.6M148.13 327.80v1.6M42.50 222.58h-1.6M153.77 327.80v1.6M42.50 216.97h-1.6M157.77 327.80v1.6M42.50 212.98h-1.6M160.87 327.80v1.6M42.50 209.90h-1.6M163.40 327.80v1.6M42.50 207.37h-1.6M165.54 327.80v1.6M42.50 205.24h-1.6M167.40 327.80v1.6M42.50 203.39h-1.6M169.04 327.80v1.6M42.50 201.76h-1.6M170.50 327.80v2.6M42.50 200.30h-2.6" stroke="#333" stroke-width="0.8" fill="none"/>
<text x="36.61" y="340.00" font-size="8.6" fill="#000">10<tspan font-size="5" dy="-2.3">0</tspan></text>
<text x="25.90" y="331.70" font-size="8.6" fill="#000">10<tspan font-size="5" dy="-2.3">0</tspan></text>
<text x="68.61" y="340.00" font-size="8.6" fill="#000">10<tspan font-size="5" dy="-2.3">1</tspan></text>
<text x="25.90" y="299.82" font-size="8.6" fill="#000">10<tspan font-size="5" dy="-2.3">1</tspan></text>
<text x="100.61" y="340.00" font-size="8.6" fill="#000">10<tspan font-size="5" dy="-2.3">2</tspan></text>
<text x="25.90" y="267.95" font-size="8.6" fill="#000">10<tspan font-size="5" dy="-2.3">2</tspan></text>
<text x="132.61" y="340.00" font-size="8.6" fill="#000">10<tspan font-size="5" dy="-2.3">3</tspan></text>
<text x="25.90" y="236.08" font-size="8.6" fill="#000">10<tspan font-size="5" dy="-2.3">3</tspan></text>
<text x="164.61" y="340.00" font-size="8.6" fill="#000">10<tspan font-size="5" dy="-2.3">4</tspan></text>
<text x="25.90" y="204.20" font-size="8.6" fill="#000">10<tspan font-size="5" dy="-2.3">4</tspan></text>
<path d="M77.70 200.30V327.80M42.50 280.70H170.50" stroke="#5a5a5a" stroke-width="1" fill="none"/>
<text x="49.75" y="220.46" font-size="14" >0.1</text>
<text x="135.64" y="220.66" font-size="14" >99.9</text>
<text x="49.15" y="317.86" font-size="14" >0.0</text>
<text x="136.55" y="317.76" font-size="14" >0.0</text>
<rect x="212.60" y="200.30" width="128.40" height="127.30" fill="none" stroke="#555" stroke-width="1"/>
<path d="M212.60 200.30V327.60H341.00" fill="none" stroke="#333" stroke-width="1.05"/>
<path d="M212.60 327.60v2.6M212.60 327.60h-2.6M222.26 327.60v1.6M212.60 318.02h-1.6M227.92 327.60v1.6M212.60 312.42h-1.6M231.93 327.60v1.6M212.60 308.44h-1.6M235.04 327.60v1.6M212.60 305.36h-1.6M237.58 327.60v1.6M212.60 302.84h-1.6M239.73 327.60v1.6M212.60 300.70h-1.6M241.59 327.60v1.6M212.60 298.86h-1.6M243.23 327.60v1.6M212.60 297.23h-1.6M244.70 327.60v2.6M212.60 295.78h-2.6M254.36 327.60v1.6M212.60 286.19h-1.6M260.02 327.60v1.6M212.60 280.59h-1.6M264.03 327.60v1.6M212.60 276.61h-1.6M267.14 327.60v1.6M212.60 273.53h-1.6M269.68 327.60v1.6M212.60 271.01h-1.6M271.83 327.60v1.6M212.60 268.88h-1.6M273.69 327.60v1.6M212.60 267.03h-1.6M275.33 327.60v1.6M212.60 265.41h-1.6M276.80 327.60v2.6M212.60 263.95h-2.6M286.46 327.60v1.6M212.60 254.37h-1.6M292.12 327.60v1.6M212.60 248.77h-1.6M296.13 327.60v1.6M212.60 244.79h-1.6M299.24 327.60v1.6M212.60 241.71h-1.6M301.78 327.60v1.6M212.60 239.19h-1.6M303.93 327.60v1.6M212.60 237.05h-1.6M305.79 327.60v1.6M212.60 235.21h-1.6M307.43 327.60v1.6M212.60 233.58h-1.6M308.90 327.60v2.6M212.60 232.12h-2.6M318.56 327.60v1.6M212.60 222.54h-1.6M324.22 327.60v1.6M212.60 216.94h-1.6M328.23 327.60v1.6M212.60 212.96h-1.6M331.34 327.60v1.6M212.60 209.88h-1.6M333.88 327.60v1.6M212.60 207.36h-1.6M336.03 327.60v1.6M212.60 205.23h-1.6M337.89 327.60v1.6M212.60 203.38h-1.6M339.53 327.60v1.6M212.60 201.76h-1.6M341.00 327.60v2.6M212.60 200.30h-2.6" stroke="#333" stroke-width="0.8" fill="none"/>
<text x="206.71" y="339.80" font-size="8.6" fill="#000">10<tspan font-size="5" dy="-2.3">0</tspan></text>
<text x="196.00" y="331.50" font-size="8.6" fill="#000">10<tspan font-size="5" dy="-2.3">0</tspan></text>
<text x="238.81" y="339.80" font-size="8.6" fill="#000">10<tspan font-size="5" dy="-2.3">1</tspan></text>
<text x="196.00" y="299.68" font-size="8.6" fill="#000">10<tspan font-size="5" dy="-2.3">1</tspan></text>
<text x="270.91" y="339.80" font-size="8.6" fill="#000">10<tspan font-size="5" dy="-2.3">2</tspan></text>
<text x="196.00" y="267.85" font-size="8.6" fill="#000">10<tspan font-size="5" dy="-2.3">2</tspan></text>
<text x="303.01" y="339.80" font-size="8.6" fill="#000">10<tspan font-size="5" dy="-2.3">3</tspan></text>
<text x="196.00" y="236.03" font-size="8.6" fill="#000">10<tspan font-size="5" dy="-2.3">3</tspan></text>
<text x="335.11" y="339.80" font-size="8.6" fill="#000">10<tspan font-size="5" dy="-2.3">4</tspan></text>
<text x="196.00" y="204.20" font-size="8.6" fill="#000">10<tspan font-size="5" dy="-2.3">4</tspan></text>
<path d="M241.80 200.30V327.60M212.60 292.00H341.00" stroke="#5a5a5a" stroke-width="1" fill="none"/>
<text x="218.64" y="220.66" font-size="14" >9.3</text>
<text x="307.73" y="220.46" font-size="14" >11.0</text>
<text x="306.23" y="317.86" font-size="14" >18.9</text>
<rect x="187.05" y="302.85" width="34.80" height="20.00" fill="#fff" stroke="#3a3a3a" stroke-width="1.3"/>
<text x="191.09" y="317.56" font-size="14" >61.8</text>
<rect x="385.40" y="200.30" width="128.90" height="127.30" fill="none" stroke="#555" stroke-width="1"/>
<path d="M385.40 200.30V327.60H514.30" fill="none" stroke="#333" stroke-width="1.05"/>
<path d="M385.40 327.60v2.6M385.40 327.60h-2.6M395.10 327.60v1.6M385.40 318.02h-1.6M400.78 327.60v1.6M385.40 312.42h-1.6M404.80 327.60v1.6M385.40 308.44h-1.6M407.92 327.60v1.6M385.40 305.36h-1.6M410.48 327.60v1.6M385.40 302.84h-1.6M412.63 327.60v1.6M385.40 300.70h-1.6M414.50 327.60v1.6M385.40 298.86h-1.6M416.15 327.60v1.6M385.40 297.23h-1.6M417.62 327.60v2.6M385.40 295.78h-2.6M427.33 327.60v1.6M385.40 286.19h-1.6M433.00 327.60v1.6M385.40 280.59h-1.6M437.03 327.60v1.6M385.40 276.61h-1.6M440.15 327.60v1.6M385.40 273.53h-1.6M442.70 327.60v1.6M385.40 271.01h-1.6M444.86 327.60v1.6M385.40 268.88h-1.6M446.73 327.60v1.6M385.40 267.03h-1.6M448.38 327.60v1.6M385.40 265.41h-1.6M449.85 327.60v2.6M385.40 263.95h-2.6M459.55 327.60v1.6M385.40 254.37h-1.6M465.23 327.60v1.6M385.40 248.77h-1.6M469.25 327.60v1.6M385.40 244.79h-1.6M472.37 327.60v1.6M385.40 241.71h-1.6M474.93 327.60v1.6M385.40 239.19h-1.6M477.08 327.60v1.6M385.40 237.05h-1.6M478.95 327.60v1.6M385.40 235.21h-1.6M480.60 327.60v1.6M385.40 233.58h-1.6M482.07 327.60v2.6M385.40 232.12h-2.6M491.78 327.60v1.6M385.40 222.54h-1.6M497.45 327.60v1.6M385.40 216.94h-1.6M501.48 327.60v1.6M385.40 212.96h-1.6M504.60 327.60v1.6M385.40 209.88h-1.6M507.15 327.60v1.6M385.40 207.36h-1.6M509.31 327.60v1.6M385.40 205.23h-1.6M511.18 327.60v1.6M385.40 203.38h-1.6M512.83 327.60v1.6M385.40 201.76h-1.6M514.30 327.60v2.6M385.40 200.30h-2.6" stroke="#333" stroke-width="0.8" fill="none"/>
<text x="379.51" y="339.80" font-size="8.6" fill="#000">10<tspan font-size="5" dy="-2.3">0</tspan></text>
<text x="368.80" y="331.50" font-size="8.6" fill="#000">10<tspan font-size="5" dy="-2.3">0</tspan></text>
<text x="411.74" y="339.80" font-size="8.6" fill="#000">10<tspan font-size="5" dy="-2.3">1</tspan></text>
<text x="368.80" y="299.68" font-size="8.6" fill="#000">10<tspan font-size="5" dy="-2.3">1</tspan></text>
<text x="443.96" y="339.80" font-size="8.6" fill="#000">10<tspan font-size="5" dy="-2.3">2</tspan></text>
<text x="368.80" y="267.85" font-size="8.6" fill="#000">10<tspan font-size="5" dy="-2.3">2</tspan></text>
<text x="476.18" y="339.80" font-size="8.6" fill="#000">10<tspan font-size="5" dy="-2.3">3</tspan></text>
<text x="368.80" y="236.03" font-size="8.6" fill="#000">10<tspan font-size="5" dy="-2.3">3</tspan></text>
<text x="508.41" y="339.80" font-size="8.6" fill="#000">10<tspan font-size="5" dy="-2.3">4</tspan></text>
<text x="368.80" y="204.20" font-size="8.6" fill="#000">10<tspan font-size="5" dy="-2.3">4</tspan></text>
<path d="M432.70 200.30V327.60M385.40 273.00H514.30" stroke="#5a5a5a" stroke-width="1" fill="none"/>
<text x="398.87" y="220.66" font-size="14" >3.3</text>
<text x="486.75" y="220.66" font-size="14" >0.6</text>
<text x="476.03" y="317.76" font-size="14" >13.4</text>
<rect x="366.15" y="303.05" width="34.10" height="20.00" fill="#fff" stroke="#3a3a3a" stroke-width="1.3"/>
<text x="370.29" y="317.56" font-size="14" >82.7</text>
<text x="92.34" y="12.86" font-size="16.6" letter-spacing="0.5" >Day 0</text>
<text x="265.54" y="12.86" font-size="16.6" letter-spacing="0.5" >Day 4</text>
<text x="435.54" y="12.86" font-size="16.6" letter-spacing="0.5" >Day 7</text>
<text x="0.55" y="38.50" font-size="26.2" font-weight="bold" stroke="#000" stroke-width="0.5">A</text>
<text x="-0.47" y="213.40" font-size="25" font-weight="bold" >B</text>
<text x="243.16" y="375.14" font-size="16.6" letter-spacing="0.4" >CD 34 FITC</text>
<text x="0" y="0" font-size="16.6" letter-spacing="0.4" transform="translate(12.74 177.84) rotate(-90)">CD38 PE</text>
<path d="M22.5 29V351.5H509" stroke="#3a3a3a" stroke-width="1" fill="none"/>
<path d="M22.5 22.6L19.6 29.6H25.4Z" fill="#111"/>
<path d="M516 351.5L508.6 348.7V354.3Z" fill="#111"/>
</svg></body></html>
